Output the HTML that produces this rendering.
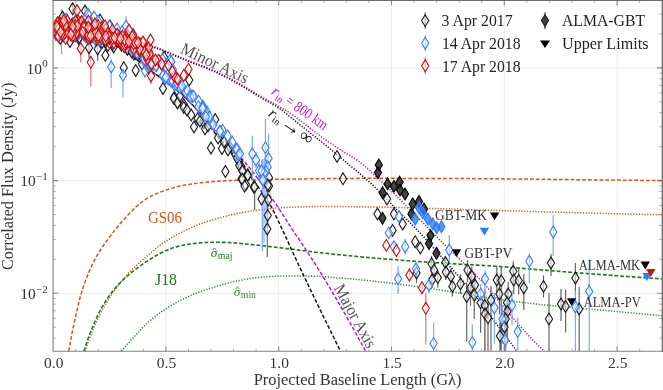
<!DOCTYPE html>
<html><head><meta charset="utf-8"><title>Correlated Flux Density</title>
<style>html,body{margin:0;padding:0;background:#fff;}body{width:663px;height:390px;overflow:hidden;font-family:"Liberation Serif",serif;}svg{display:block;will-change:transform;}</style></head>
<body>
<svg width="663" height="390" viewBox="0 0 663 390" font-family="'Liberation Serif', serif">
<rect width="663" height="390" fill="#fff"/>
<defs><clipPath id="cp"><rect x="53.1" y="0.6" width="608.9" height="350.6"/></clipPath></defs>
<path d="M165.9 0.6V351.2M278.7 0.6V351.2M391.5 0.6V351.2M504.3 0.6V351.2M617.1 0.6V351.2M53.1 67.9H662.0M53.1 180.6H662.0M53.1 293.3H662.0" stroke="#e6e6e6" stroke-width="0.8" fill="none"/>
<path d="M165.9 351.2v-5M165.9 0.6v5M278.7 351.2v-5M278.7 0.6v5M391.5 351.2v-5M391.5 0.6v5M504.3 351.2v-5M504.3 0.6v5M617.1 351.2v-5M617.1 0.6v5M53.1 293.3h5M662.0 293.3h-5M53.1 180.6h5M662.0 180.6h-5M53.1 67.9h5M662.0 67.9h-5" stroke="#8c8c8c" stroke-width="1.1" fill="none"/>
<path d="M75.7 351.2v-2.6M75.7 0.6v2.6M98.2 351.2v-2.6M98.2 0.6v2.6M120.8 351.2v-2.6M120.8 0.6v2.6M143.3 351.2v-2.6M143.3 0.6v2.6M188.5 351.2v-2.6M188.5 0.6v2.6M211.0 351.2v-2.6M211.0 0.6v2.6M233.6 351.2v-2.6M233.6 0.6v2.6M256.1 351.2v-2.6M256.1 0.6v2.6M301.3 351.2v-2.6M301.3 0.6v2.6M323.8 351.2v-2.6M323.8 0.6v2.6M346.4 351.2v-2.6M346.4 0.6v2.6M368.9 351.2v-2.6M368.9 0.6v2.6M414.1 351.2v-2.6M414.1 0.6v2.6M436.6 351.2v-2.6M436.6 0.6v2.6M459.2 351.2v-2.6M459.2 0.6v2.6M481.7 351.2v-2.6M481.7 0.6v2.6M526.9 351.2v-2.6M526.9 0.6v2.6M549.4 351.2v-2.6M549.4 0.6v2.6M572.0 351.2v-2.6M572.0 0.6v2.6M594.5 351.2v-2.6M594.5 0.6v2.6M639.7 351.2v-2.6M639.7 0.6v2.6M53.1 338.1h2.8M662.0 338.1h-2.8M53.1 327.2h2.8M662.0 327.2h-2.8M53.1 318.3h2.8M662.0 318.3h-2.8M53.1 310.8h2.8M662.0 310.8h-2.8M53.1 304.2h2.8M662.0 304.2h-2.8M53.1 298.5h2.8M662.0 298.5h-2.8M53.1 259.4h2.8M662.0 259.4h-2.8M53.1 239.5h2.8M662.0 239.5h-2.8M53.1 225.4h2.8M662.0 225.4h-2.8M53.1 214.5h2.8M662.0 214.5h-2.8M53.1 205.6h2.8M662.0 205.6h-2.8M53.1 198.1h2.8M662.0 198.1h-2.8M53.1 191.5h2.8M662.0 191.5h-2.8M53.1 185.8h2.8M662.0 185.8h-2.8M53.1 146.7h2.8M662.0 146.7h-2.8M53.1 126.8h2.8M662.0 126.8h-2.8M53.1 112.7h2.8M662.0 112.7h-2.8M53.1 101.8h2.8M662.0 101.8h-2.8M53.1 92.9h2.8M662.0 92.9h-2.8M53.1 85.4h2.8M662.0 85.4h-2.8M53.1 78.8h2.8M662.0 78.8h-2.8M53.1 73.1h2.8M662.0 73.1h-2.8M53.1 34.0h2.8M662.0 34.0h-2.8M53.1 14.1h2.8M662.0 14.1h-2.8" stroke="#a8a8a8" stroke-width="0.9" fill="none"/>
<g clip-path="url(#cp)">
<path d="M68.8 351.2 L69.8 345.4 L70.8 339.8 L71.8 334.5 L72.8 329.4 L73.8 324.5 L74.8 319.9 L75.8 315.4 L76.8 311.1 L77.8 306.8 L78.8 302.5 L79.8 298.5 L80.8 294.8 L81.8 291.4 L82.8 288.3 L83.8 285.3 L84.8 282.5 L85.8 279.9 L86.8 277.3 L87.8 274.9 L88.8 272.5 L89.8 270.1 L90.8 267.9 L91.8 265.7 L92.8 263.6 L93.8 261.6 L94.8 259.6 L95.8 257.7 L96.8 256.0 L97.8 254.3 L98.8 252.6 L99.8 251.0 L100.8 249.4 L101.8 247.9 L102.8 246.4 L103.8 245.0 L104.8 243.6 L105.8 242.2 L106.8 240.8 L107.8 239.5 L108.8 238.1 L109.8 236.8 L110.8 235.5 L111.8 234.2 L112.8 232.9 L113.8 231.6 L114.8 230.3 L115.8 229.1 L116.8 227.8 L117.8 226.6 L118.8 225.4 L119.8 224.2 L120.8 223.0 L121.8 221.8 L122.8 220.7 L123.8 219.6 L124.8 218.5 L125.8 217.4 L126.8 216.3 L127.8 215.2 L128.8 214.1 L129.8 213.0 L130.8 212.0 L131.8 210.9 L132.8 209.9 L133.8 208.9 L134.8 208.0 L135.8 207.0 L136.8 206.1 L137.8 205.3 L138.8 204.5 L139.8 203.7 L140.8 202.9 L141.8 202.1 L142.8 201.3 L143.8 200.6 L144.8 199.9 L145.8 199.2 L146.8 198.6 L147.8 197.9 L148.8 197.3 L149.8 196.8 L150.8 196.2 L151.8 195.7 L152.8 195.3 L153.8 194.8 L154.8 194.3 L155.8 193.9 L156.8 193.5 L157.8 193.1 L158.8 192.7 L159.8 192.3 L160.8 191.9 L161.8 191.5 L162.8 191.2 L163.8 190.8 L164.8 190.5 L165.8 190.1 L166.8 189.8 L167.8 189.5 L168.8 189.1 L169.8 188.8 L170.8 188.5 L171.8 188.2 L172.8 187.9 L173.8 187.6 L174.8 187.3 L175.8 187.1 L176.8 186.8 L177.8 186.6 L178.8 186.3 L179.8 186.1 L180.8 185.9 L181.8 185.7 L182.8 185.5 L183.8 185.3 L184.8 185.1 L185.8 184.9 L186.8 184.7 L187.8 184.6 L188.8 184.4 L189.8 184.2 L190.8 184.1 L191.8 183.9 L192.8 183.8 L193.8 183.6 L194.8 183.5 L195.8 183.4 L196.8 183.3 L197.8 183.1 L198.8 183.0 L199.8 182.9 L200.8 182.8 L201.8 182.7 L202.8 182.6 L203.8 182.5 L204.8 182.4 L205.8 182.3 L206.8 182.2 L207.8 182.1 L208.8 182.0 L209.8 181.9 L210.8 181.8 L211.8 181.7 L212.8 181.6 L213.8 181.6 L214.8 181.5 L215.8 181.4 L216.8 181.3 L217.8 181.3 L218.8 181.2 L219.8 181.1 L220.8 181.1 L221.8 181.0 L222.8 180.9 L223.8 180.9 L224.8 180.8 L225.8 180.7 L226.8 180.7 L227.8 180.6 L228.8 180.6 L229.8 180.5 L230.8 180.5 L231.8 180.4 L232.8 180.4 L233.8 180.3 L234.8 180.3 L235.8 180.3 L236.8 180.2 L237.8 180.2 L238.8 180.2 L239.8 180.1 L240.8 180.1 L241.8 180.1 L242.8 180.0 L243.8 180.0 L244.8 180.0 L245.8 179.9 L246.8 179.9 L247.8 179.9 L248.8 179.9 L249.8 179.8 L250.8 179.8 L251.8 179.8 L252.8 179.8 L253.8 179.7 L254.8 179.7 L255.8 179.7 L256.8 179.7 L257.8 179.6 L258.8 179.6 L259.8 179.6 L260.8 179.6 L261.8 179.6 L262.8 179.5 L263.8 179.5 L264.8 179.5 L265.8 179.5 L266.8 179.5 L267.8 179.4 L268.8 179.4 L269.8 179.4 L270.8 179.4 L271.8 179.4 L272.8 179.3 L273.8 179.3 L274.8 179.3 L275.8 179.3 L276.8 179.3 L277.8 179.3 L278.8 179.2 L279.8 179.2 L280.8 179.2 L281.8 179.2 L282.8 179.2 L283.8 179.2 L284.8 179.1 L285.8 179.1 L286.8 179.1 L287.8 179.1 L288.8 179.1 L289.8 179.1 L290.8 179.0 L291.8 179.0 L292.8 179.0 L293.8 179.0 L294.8 179.0 L295.8 179.0 L296.8 179.0 L297.8 179.0 L298.8 178.9 L299.8 178.9 L300.8 178.9 L301.8 178.9 L302.8 178.9 L303.8 178.9 L304.8 178.9 L305.8 178.9 L306.8 178.8 L307.8 178.8 L308.8 178.8 L309.8 178.8 L310.8 178.8 L311.8 178.8 L312.8 178.8 L313.8 178.8 L314.8 178.8 L315.8 178.7 L316.8 178.7 L317.8 178.7 L318.8 178.7 L319.8 178.7 L320.8 178.7 L321.8 178.7 L322.8 178.7 L323.8 178.7 L324.8 178.6 L325.8 178.6 L326.8 178.6 L327.8 178.6 L328.8 178.6 L329.8 178.6 L330.8 178.6 L331.8 178.6 L332.8 178.6 L333.8 178.6 L334.8 178.5 L335.8 178.5 L336.8 178.5 L337.8 178.5 L338.8 178.5 L339.8 178.5 L340.8 178.5 L341.8 178.5 L342.8 178.5 L343.8 178.5 L344.8 178.5 L345.8 178.4 L346.8 178.4 L347.8 178.4 L348.8 178.4 L349.8 178.4 L350.8 178.4 L351.8 178.4 L352.8 178.4 L353.8 178.4 L354.8 178.4 L355.8 178.4 L356.8 178.4 L357.8 178.4 L358.8 178.3 L359.8 178.3 L360.8 178.3 L361.8 178.3 L362.8 178.3 L363.8 178.3 L364.8 178.3 L365.8 178.3 L366.8 178.3 L367.8 178.3 L368.8 178.3 L369.8 178.3 L370.8 178.3 L371.8 178.3 L372.8 178.3 L373.8 178.3 L374.8 178.3 L375.8 178.3 L376.8 178.3 L377.8 178.3 L378.8 178.3 L379.8 178.3 L380.8 178.3 L381.8 178.3 L382.8 178.3 L383.8 178.3 L384.8 178.3 L385.8 178.3 L386.8 178.3 L387.8 178.3 L388.8 178.3 L389.8 178.3 L390.8 178.3 L391.8 178.3 L392.8 178.3 L393.8 178.3 L394.8 178.3 L395.8 178.3 L396.8 178.3 L397.8 178.3 L398.8 178.3 L399.8 178.3 L400.8 178.3 L401.8 178.3 L402.8 178.4 L403.8 178.4 L404.8 178.4 L405.8 178.4 L406.8 178.4 L407.8 178.4 L408.8 178.4 L409.8 178.4 L410.8 178.4 L411.8 178.4 L412.8 178.4 L413.8 178.4 L414.8 178.4 L415.8 178.4 L416.8 178.4 L417.8 178.4 L418.8 178.4 L419.8 178.4 L420.8 178.4 L421.8 178.4 L422.8 178.4 L423.8 178.4 L424.8 178.4 L425.8 178.4 L426.8 178.4 L427.8 178.4 L428.8 178.5 L429.8 178.5 L430.8 178.5 L431.8 178.5 L432.8 178.5 L433.8 178.5 L434.8 178.5 L435.8 178.5 L436.8 178.5 L437.8 178.5 L438.8 178.5 L439.8 178.5 L440.8 178.5 L441.8 178.5 L442.8 178.5 L443.8 178.5 L444.8 178.5 L445.8 178.5 L446.8 178.5 L447.8 178.5 L448.8 178.5 L449.8 178.5 L450.8 178.5 L451.8 178.5 L452.8 178.6 L453.8 178.6 L454.8 178.6 L455.8 178.6 L456.8 178.6 L457.8 178.6 L458.8 178.6 L459.8 178.6 L460.8 178.6 L461.8 178.6 L462.8 178.6 L463.8 178.6 L464.8 178.6 L465.8 178.6 L466.8 178.6 L467.8 178.6 L468.8 178.6 L469.8 178.6 L470.8 178.6 L471.8 178.6 L472.8 178.7 L473.8 178.7 L474.8 178.7 L475.8 178.7 L476.8 178.7 L477.8 178.7 L478.8 178.7 L479.8 178.7 L480.8 178.7 L481.8 178.7 L482.8 178.7 L483.8 178.7 L484.8 178.7 L485.8 178.7 L486.8 178.7 L487.8 178.7 L488.8 178.7 L489.8 178.8 L490.8 178.8 L491.8 178.8 L492.8 178.8 L493.8 178.8 L494.8 178.8 L495.8 178.8 L496.8 178.8 L497.8 178.8 L498.8 178.8 L499.8 178.8 L500.8 178.8 L501.8 178.8 L502.8 178.8 L503.8 178.9 L504.8 178.9 L505.8 178.9 L506.8 178.9 L507.8 178.9 L508.8 178.9 L509.8 178.9 L510.8 178.9 L511.8 178.9 L512.8 178.9 L513.8 178.9 L514.8 179.0 L515.8 179.0 L516.8 179.0 L517.8 179.0 L518.8 179.0 L519.8 179.0 L520.8 179.0 L521.8 179.0 L522.8 179.0 L523.8 179.0 L524.8 179.1 L525.8 179.1 L526.8 179.1 L527.8 179.1 L528.8 179.1 L529.8 179.1 L530.8 179.1 L531.8 179.1 L532.8 179.1 L533.8 179.2 L534.8 179.2 L535.8 179.2 L536.8 179.2 L537.8 179.2 L538.8 179.2 L539.8 179.2 L540.8 179.2 L541.8 179.2 L542.8 179.3 L543.8 179.3 L544.8 179.3 L545.8 179.3 L546.8 179.3 L547.8 179.3 L548.8 179.3 L549.8 179.3 L550.8 179.4 L551.8 179.4 L552.8 179.4 L553.8 179.4 L554.8 179.4 L555.8 179.4 L556.8 179.4 L557.8 179.4 L558.8 179.5 L559.8 179.5 L560.8 179.5 L561.8 179.5 L562.8 179.5 L563.8 179.5 L564.8 179.5 L565.8 179.5 L566.8 179.5 L567.8 179.6 L568.8 179.6 L569.8 179.6 L570.8 179.6 L571.8 179.6 L572.8 179.6 L573.8 179.6 L574.8 179.6 L575.8 179.7 L576.8 179.7 L577.8 179.7 L578.8 179.7 L579.8 179.7 L580.8 179.7 L581.8 179.7 L582.8 179.7 L583.8 179.7 L584.8 179.8 L585.8 179.8 L586.8 179.8 L587.8 179.8 L588.8 179.8 L589.8 179.8 L590.8 179.8 L591.8 179.8 L592.8 179.8 L593.8 179.8 L594.8 179.9 L595.8 179.9 L596.8 179.9 L597.8 179.9 L598.8 179.9 L599.8 179.9 L600.8 179.9 L601.8 179.9 L602.8 179.9 L603.8 180.0 L604.8 180.0 L605.8 180.0 L606.8 180.0 L607.8 180.0 L608.8 180.0 L609.8 180.0 L610.8 180.0 L611.8 180.0 L612.8 180.1 L613.8 180.1 L614.8 180.1 L615.8 180.1 L616.8 180.1 L617.8 180.1 L618.8 180.1 L619.8 180.1 L620.8 180.1 L621.8 180.2 L622.8 180.2 L623.8 180.2 L624.8 180.2 L625.8 180.2 L626.8 180.2 L627.8 180.2 L628.8 180.2 L629.8 180.2 L630.8 180.3 L631.8 180.3 L632.8 180.3 L633.8 180.3 L634.8 180.3 L635.8 180.3 L636.8 180.3 L637.8 180.3 L638.8 180.3 L639.8 180.3 L640.8 180.4 L641.8 180.4 L642.8 180.4 L643.8 180.4 L644.8 180.4 L645.8 180.4 L646.8 180.4 L647.8 180.4 L648.8 180.4 L649.8 180.5 L650.8 180.5 L651.8 180.5 L652.8 180.5 L653.8 180.5 L654.8 180.5 L655.8 180.5 L656.8 180.5 L657.8 180.5 L658.8 180.6 L659.8 180.6 L660.8 180.6 L661.8 180.6 L662.8 180.6" fill="none" stroke="#d2581c" stroke-width="1.50" stroke-dasharray="3.8 2.0" stroke-dashoffset="0.0"/>
<path d="M85.2 351.2 L86.2 348.2 L87.2 345.2 L88.2 342.3 L89.2 339.5 L90.2 336.8 L91.2 334.2 L92.2 331.6 L93.2 329.2 L94.2 326.8 L95.2 324.6 L96.2 322.3 L97.2 320.1 L98.2 318.0 L99.2 316.0 L100.2 314.0 L101.2 312.0 L102.2 310.1 L103.2 308.3 L104.2 306.5 L105.2 304.7 L106.2 303.0 L107.2 301.3 L108.2 299.7 L109.2 298.1 L110.2 296.6 L111.2 295.1 L112.2 293.6 L113.2 292.1 L114.2 290.7 L115.2 289.3 L116.2 288.0 L117.2 286.7 L118.2 285.4 L119.2 284.1 L120.2 282.8 L121.2 281.6 L122.2 280.4 L123.2 279.2 L124.2 278.1 L125.2 277.0 L126.2 275.8 L127.2 274.7 L128.2 273.6 L129.2 272.6 L130.2 271.5 L131.2 270.5 L132.2 269.5 L133.2 268.5 L134.2 267.5 L135.2 266.5 L136.2 265.5 L137.2 264.6 L138.2 263.7 L139.2 262.8 L140.2 261.9 L141.2 261.0 L142.2 260.2 L143.2 259.3 L144.2 258.5 L145.2 257.6 L146.2 256.7 L147.2 255.9 L148.2 255.0 L149.2 254.1 L150.2 253.2 L151.2 252.3 L152.2 251.5 L153.2 250.6 L154.2 249.7 L155.2 248.9 L156.2 248.1 L157.2 247.3 L158.2 246.6 L159.2 245.8 L160.2 245.1 L161.2 244.4 L162.2 243.7 L163.2 243.0 L164.2 242.4 L165.2 241.7 L166.2 241.0 L167.2 240.4 L168.2 239.8 L169.2 239.2 L170.2 238.5 L171.2 237.9 L172.2 237.4 L173.2 236.8 L174.2 236.2 L175.2 235.6 L176.2 235.1 L177.2 234.5 L178.2 234.0 L179.2 233.4 L180.2 232.9 L181.2 232.4 L182.2 231.8 L183.2 231.3 L184.2 230.8 L185.2 230.3 L186.2 229.9 L187.2 229.4 L188.2 228.9 L189.2 228.5 L190.2 228.0 L191.2 227.6 L192.2 227.2 L193.2 226.7 L194.2 226.3 L195.2 225.9 L196.2 225.5 L197.2 225.1 L198.2 224.7 L199.2 224.3 L200.2 224.0 L201.2 223.6 L202.2 223.2 L203.2 222.9 L204.2 222.5 L205.2 222.2 L206.2 221.9 L207.2 221.5 L208.2 221.2 L209.2 220.9 L210.2 220.6 L211.2 220.3 L212.2 220.0 L213.2 219.7 L214.2 219.5 L215.2 219.2 L216.2 218.9 L217.2 218.6 L218.2 218.3 L219.2 218.0 L220.2 217.8 L221.2 217.5 L222.2 217.2 L223.2 216.9 L224.2 216.6 L225.2 216.4 L226.2 216.1 L227.2 215.8 L228.2 215.6 L229.2 215.3 L230.2 215.1 L231.2 214.8 L232.2 214.6 L233.2 214.4 L234.2 214.2 L235.2 214.0 L236.2 213.8 L237.2 213.6 L238.2 213.4 L239.2 213.2 L240.2 213.0 L241.2 212.8 L242.2 212.6 L243.2 212.4 L244.2 212.2 L245.2 212.0 L246.2 211.8 L247.2 211.7 L248.2 211.5 L249.2 211.3 L250.2 211.2 L251.2 211.0 L252.2 210.9 L253.2 210.7 L254.2 210.6 L255.2 210.4 L256.2 210.3 L257.2 210.1 L258.2 210.0 L259.2 209.9 L260.2 209.8 L261.2 209.7 L262.2 209.5 L263.2 209.4 L264.2 209.3 L265.2 209.2 L266.2 209.1 L267.2 209.0 L268.2 208.9 L269.2 208.8 L270.2 208.7 L271.2 208.6 L272.2 208.5 L273.2 208.4 L274.2 208.3 L275.2 208.2 L276.2 208.1 L277.2 208.0 L278.2 207.9 L279.2 207.9 L280.2 207.8 L281.2 207.7 L282.2 207.7 L283.2 207.6 L284.2 207.6 L285.2 207.5 L286.2 207.5 L287.2 207.4 L288.2 207.4 L289.2 207.3 L290.2 207.3 L291.2 207.3 L292.2 207.2 L293.2 207.2 L294.2 207.1 L295.2 207.1 L296.2 207.1 L297.2 207.0 L298.2 207.0 L299.2 207.0 L300.2 206.9 L301.2 206.9 L302.2 206.9 L303.2 206.8 L304.2 206.8 L305.2 206.8 L306.2 206.7 L307.2 206.7 L308.2 206.7 L309.2 206.7 L310.2 206.6 L311.2 206.6 L312.2 206.6 L313.2 206.6 L314.2 206.6 L315.2 206.6 L316.2 206.5 L317.2 206.5 L318.2 206.5 L319.2 206.5 L320.2 206.5 L321.2 206.5 L322.2 206.5 L323.2 206.5 L324.2 206.5 L325.2 206.5 L326.2 206.5 L327.2 206.5 L328.2 206.5 L329.2 206.5 L330.2 206.5 L331.2 206.5 L332.2 206.5 L333.2 206.5 L334.2 206.5 L335.2 206.5 L336.2 206.5 L337.2 206.6 L338.2 206.6 L339.2 206.6 L340.2 206.6 L341.2 206.6 L342.2 206.6 L343.2 206.6 L344.2 206.6 L345.2 206.6 L346.2 206.6 L347.2 206.6 L348.2 206.6 L349.2 206.7 L350.2 206.7 L351.2 206.7 L352.2 206.7 L353.2 206.7 L354.2 206.7 L355.2 206.7 L356.2 206.7 L357.2 206.8 L358.2 206.8 L359.2 206.8 L360.2 206.8 L361.2 206.8 L362.2 206.8 L363.2 206.8 L364.2 206.8 L365.2 206.9 L366.2 206.9 L367.2 206.9 L368.2 206.9 L369.2 206.9 L370.2 206.9 L371.2 206.9 L372.2 207.0 L373.2 207.0 L374.2 207.0 L375.2 207.0 L376.2 207.0 L377.2 207.0 L378.2 207.0 L379.2 207.1 L380.2 207.1 L381.2 207.1 L382.2 207.1 L383.2 207.1 L384.2 207.1 L385.2 207.2 L386.2 207.2 L387.2 207.2 L388.2 207.2 L389.2 207.2 L390.2 207.3 L391.2 207.3 L392.2 207.3 L393.2 207.3 L394.2 207.4 L395.2 207.4 L396.2 207.4 L397.2 207.4 L398.2 207.5 L399.2 207.5 L400.2 207.5 L401.2 207.5 L402.2 207.6 L403.2 207.6 L404.2 207.6 L405.2 207.7 L406.2 207.7 L407.2 207.7 L408.2 207.7 L409.2 207.8 L410.2 207.8 L411.2 207.8 L412.2 207.9 L413.2 207.9 L414.2 207.9 L415.2 207.9 L416.2 208.0 L417.2 208.0 L418.2 208.0 L419.2 208.1 L420.2 208.1 L421.2 208.1 L422.2 208.2 L423.2 208.2 L424.2 208.2 L425.2 208.3 L426.2 208.3 L427.2 208.3 L428.2 208.3 L429.2 208.4 L430.2 208.4 L431.2 208.4 L432.2 208.5 L433.2 208.5 L434.2 208.5 L435.2 208.6 L436.2 208.6 L437.2 208.6 L438.2 208.6 L439.2 208.7 L440.2 208.7 L441.2 208.7 L442.2 208.8 L443.2 208.8 L444.2 208.8 L445.2 208.9 L446.2 208.9 L447.2 208.9 L448.2 208.9 L449.2 209.0 L450.2 209.0 L451.2 209.0 L452.2 209.1 L453.2 209.1 L454.2 209.1 L455.2 209.2 L456.2 209.2 L457.2 209.2 L458.2 209.3 L459.2 209.3 L460.2 209.3 L461.2 209.4 L462.2 209.4 L463.2 209.4 L464.2 209.5 L465.2 209.5 L466.2 209.5 L467.2 209.6 L468.2 209.6 L469.2 209.6 L470.2 209.7 L471.2 209.7 L472.2 209.7 L473.2 209.7 L474.2 209.8 L475.2 209.8 L476.2 209.8 L477.2 209.9 L478.2 209.9 L479.2 209.9 L480.2 210.0 L481.2 210.0 L482.2 210.0 L483.2 210.1 L484.2 210.1 L485.2 210.1 L486.2 210.2 L487.2 210.2 L488.2 210.2 L489.2 210.3 L490.2 210.3 L491.2 210.3 L492.2 210.4 L493.2 210.4 L494.2 210.4 L495.2 210.4 L496.2 210.5 L497.2 210.5 L498.2 210.5 L499.2 210.6 L500.2 210.6 L501.2 210.6 L502.2 210.7 L503.2 210.7 L504.2 210.7 L505.2 210.7 L506.2 210.8 L507.2 210.8 L508.2 210.8 L509.2 210.9 L510.2 210.9 L511.2 210.9 L512.2 210.9 L513.2 211.0 L514.2 211.0 L515.2 211.0 L516.2 211.1 L517.2 211.1 L518.2 211.1 L519.2 211.1 L520.2 211.2 L521.2 211.2 L522.2 211.2 L523.2 211.3 L524.2 211.3 L525.2 211.3 L526.2 211.3 L527.2 211.4 L528.2 211.4 L529.2 211.4 L530.2 211.5 L531.2 211.5 L532.2 211.5 L533.2 211.5 L534.2 211.6 L535.2 211.6 L536.2 211.6 L537.2 211.7 L538.2 211.7 L539.2 211.7 L540.2 211.7 L541.2 211.8 L542.2 211.8 L543.2 211.8 L544.2 211.8 L545.2 211.9 L546.2 211.9 L547.2 211.9 L548.2 212.0 L549.2 212.0 L550.2 212.0 L551.2 212.0 L552.2 212.1 L553.2 212.1 L554.2 212.1 L555.2 212.1 L556.2 212.2 L557.2 212.2 L558.2 212.2 L559.2 212.3 L560.2 212.3 L561.2 212.3 L562.2 212.3 L563.2 212.4 L564.2 212.4 L565.2 212.4 L566.2 212.4 L567.2 212.5 L568.2 212.5 L569.2 212.5 L570.2 212.5 L571.2 212.6 L572.2 212.6 L573.2 212.6 L574.2 212.6 L575.2 212.7 L576.2 212.7 L577.2 212.7 L578.2 212.8 L579.2 212.8 L580.2 212.8 L581.2 212.8 L582.2 212.9 L583.2 212.9 L584.2 212.9 L585.2 212.9 L586.2 213.0 L587.2 213.0 L588.2 213.0 L589.2 213.0 L590.2 213.1 L591.2 213.1 L592.2 213.1 L593.2 213.1 L594.2 213.2 L595.2 213.2 L596.2 213.2 L597.2 213.2 L598.2 213.3 L599.2 213.3 L600.2 213.3 L601.2 213.3 L602.2 213.4 L603.2 213.4 L604.2 213.4 L605.2 213.4 L606.2 213.5 L607.2 213.5 L608.2 213.5 L609.2 213.5 L610.2 213.6 L611.2 213.6 L612.2 213.6 L613.2 213.6 L614.2 213.7 L615.2 213.7 L616.2 213.7 L617.2 213.7 L618.2 213.8 L619.2 213.8 L620.2 213.8 L621.2 213.8 L622.2 213.9 L623.2 213.9 L624.2 213.9 L625.2 213.9 L626.2 214.0 L627.2 214.0 L628.2 214.0 L629.2 214.0 L630.2 214.0 L631.2 214.1 L632.2 214.1 L633.2 214.1 L634.2 214.1 L635.2 214.2 L636.2 214.2 L637.2 214.2 L638.2 214.2 L639.2 214.3 L640.2 214.3 L641.2 214.3 L642.2 214.3 L643.2 214.4 L644.2 214.4 L645.2 214.4 L646.2 214.4 L647.2 214.4 L648.2 214.5 L649.2 214.5 L650.2 214.5 L651.2 214.5 L652.2 214.6 L653.2 214.6 L654.2 214.6 L655.2 214.6 L656.2 214.7 L657.2 214.7 L658.2 214.7 L659.2 214.7 L660.2 214.7 L661.2 214.8 L662.2 214.8 L662.8 214.8" fill="none" stroke="#d2581c" stroke-width="1.50" stroke-dasharray="1.25 1.55" stroke-dashoffset="0.0"/>
<path d="M83.9 351.2 L84.9 348.1 L85.9 345.0 L86.9 342.0 L87.9 339.1 L88.9 336.3 L89.9 333.7 L90.9 331.1 L91.9 328.6 L92.9 326.2 L93.9 323.8 L94.9 321.5 L95.9 319.3 L96.9 317.1 L97.9 315.0 L98.9 313.0 L99.9 311.0 L100.9 309.2 L101.9 307.4 L102.9 305.7 L103.9 304.0 L104.9 302.4 L105.9 300.8 L106.9 299.3 L107.9 297.8 L108.9 296.4 L109.9 295.0 L110.9 293.6 L111.9 292.3 L112.9 291.0 L113.9 289.8 L114.9 288.6 L115.9 287.4 L116.9 286.3 L117.9 285.2 L118.9 284.1 L119.9 283.1 L120.9 282.1 L121.9 281.1 L122.9 280.1 L123.9 279.2 L124.9 278.2 L125.9 277.3 L126.9 276.4 L127.9 275.6 L128.9 274.7 L129.9 273.9 L130.9 273.0 L131.9 272.2 L132.9 271.4 L133.9 270.7 L134.9 269.9 L135.9 269.1 L136.9 268.4 L137.9 267.6 L138.9 266.9 L139.9 266.1 L140.9 265.4 L141.9 264.7 L142.9 264.0 L143.9 263.3 L144.9 262.6 L145.9 261.9 L146.9 261.3 L147.9 260.6 L148.9 260.0 L149.9 259.4 L150.9 258.8 L151.9 258.1 L152.9 257.5 L153.9 256.9 L154.9 256.3 L155.9 255.8 L156.9 255.2 L157.9 254.6 L158.9 254.1 L159.9 253.5 L160.9 253.0 L161.9 252.5 L162.9 252.0 L163.9 251.6 L164.9 251.1 L165.9 250.7 L166.9 250.2 L167.9 249.8 L168.9 249.4 L169.9 249.0 L170.9 248.6 L171.9 248.2 L172.9 247.8 L173.9 247.5 L174.9 247.2 L175.9 246.9 L176.9 246.7 L177.9 246.4 L178.9 246.1 L179.9 245.9 L180.9 245.7 L181.9 245.4 L182.9 245.2 L183.9 245.0 L184.9 244.8 L185.9 244.6 L186.9 244.5 L187.9 244.3 L188.9 244.1 L189.9 244.0 L190.9 243.9 L191.9 243.7 L192.9 243.6 L193.9 243.5 L194.9 243.4 L195.9 243.3 L196.9 243.2 L197.9 243.1 L198.9 243.0 L199.9 242.9 L200.9 242.8 L201.9 242.7 L202.9 242.6 L203.9 242.6 L204.9 242.5 L205.9 242.5 L206.9 242.5 L207.9 242.4 L208.9 242.4 L209.9 242.4 L210.9 242.4 L211.9 242.3 L212.9 242.3 L213.9 242.3 L214.9 242.3 L215.9 242.3 L216.9 242.3 L217.9 242.3 L218.9 242.3 L219.9 242.3 L220.9 242.3 L221.9 242.4 L222.9 242.4 L223.9 242.4 L224.9 242.4 L225.9 242.4 L226.9 242.4 L227.9 242.5 L228.9 242.5 L229.9 242.6 L230.9 242.7 L231.9 242.7 L232.9 242.8 L233.9 242.9 L234.9 243.0 L235.9 243.0 L236.9 243.1 L237.9 243.2 L238.9 243.3 L239.9 243.4 L240.9 243.5 L241.9 243.6 L242.9 243.7 L243.9 243.8 L244.9 243.9 L245.9 244.0 L246.9 244.1 L247.9 244.2 L248.9 244.3 L249.9 244.4 L250.9 244.5 L251.9 244.6 L252.9 244.7 L253.9 244.8 L254.9 244.9 L255.9 245.0 L256.9 245.1 L257.9 245.2 L258.9 245.3 L259.9 245.4 L260.9 245.5 L261.9 245.7 L262.9 245.8 L263.9 245.9 L264.9 246.0 L265.9 246.1 L266.9 246.2 L267.9 246.3 L268.9 246.5 L269.9 246.6 L270.9 246.7 L271.9 246.8 L272.9 246.9 L273.9 247.0 L274.9 247.2 L275.9 247.3 L276.9 247.4 L277.9 247.5 L278.9 247.6 L279.9 247.8 L280.9 247.9 L281.9 248.0 L282.9 248.1 L283.9 248.2 L284.9 248.3 L285.9 248.5 L286.9 248.6 L287.9 248.7 L288.9 248.8 L289.9 248.9 L290.9 249.1 L291.9 249.2 L292.9 249.3 L293.9 249.4 L294.9 249.6 L295.9 249.7 L296.9 249.8 L297.9 249.9 L298.9 250.1 L299.9 250.2 L300.9 250.3 L301.9 250.4 L302.9 250.6 L303.9 250.7 L304.9 250.8 L305.9 250.9 L306.9 251.1 L307.9 251.2 L308.9 251.3 L309.9 251.5 L310.9 251.6 L311.9 251.7 L312.9 251.8 L313.9 251.9 L314.9 252.1 L315.9 252.2 L316.9 252.3 L317.9 252.4 L318.9 252.5 L319.9 252.7 L320.9 252.8 L321.9 252.9 L322.9 253.0 L323.9 253.1 L324.9 253.2 L325.9 253.3 L326.9 253.4 L327.9 253.5 L328.9 253.6 L329.9 253.7 L330.9 253.9 L331.9 254.0 L332.9 254.1 L333.9 254.2 L334.9 254.3 L335.9 254.4 L336.9 254.5 L337.9 254.6 L338.9 254.7 L339.9 254.8 L340.9 254.9 L341.9 255.0 L342.9 255.1 L343.9 255.2 L344.9 255.3 L345.9 255.4 L346.9 255.5 L347.9 255.6 L348.9 255.7 L349.9 255.8 L350.9 255.9 L351.9 256.0 L352.9 256.1 L353.9 256.2 L354.9 256.3 L355.9 256.4 L356.9 256.5 L357.9 256.6 L358.9 256.7 L359.9 256.8 L360.9 256.9 L361.9 257.0 L362.9 257.1 L363.9 257.1 L364.9 257.2 L365.9 257.3 L366.9 257.4 L367.9 257.5 L368.9 257.6 L369.9 257.7 L370.9 257.8 L371.9 257.9 L372.9 258.0 L373.9 258.0 L374.9 258.1 L375.9 258.2 L376.9 258.3 L377.9 258.4 L378.9 258.5 L379.9 258.5 L380.9 258.6 L381.9 258.7 L382.9 258.8 L383.9 258.9 L384.9 259.0 L385.9 259.0 L386.9 259.1 L387.9 259.2 L388.9 259.3 L389.9 259.4 L390.9 259.4 L391.9 259.5 L392.9 259.6 L393.9 259.7 L394.9 259.8 L395.9 259.8 L396.9 259.9 L397.9 260.0 L398.9 260.1 L399.9 260.2 L400.9 260.2 L401.9 260.3 L402.9 260.4 L403.9 260.5 L404.9 260.5 L405.9 260.6 L406.9 260.7 L407.9 260.8 L408.9 260.8 L409.9 260.9 L410.9 261.0 L411.9 261.1 L412.9 261.1 L413.9 261.2 L414.9 261.3 L415.9 261.3 L416.9 261.4 L417.9 261.5 L418.9 261.6 L419.9 261.6 L420.9 261.7 L421.9 261.8 L422.9 261.8 L423.9 261.9 L424.9 262.0 L425.9 262.1 L426.9 262.1 L427.9 262.2 L428.9 262.3 L429.9 262.3 L430.9 262.4 L431.9 262.5 L432.9 262.5 L433.9 262.6 L434.9 262.7 L435.9 262.7 L436.9 262.8 L437.9 262.9 L438.9 262.9 L439.9 263.0 L440.9 263.1 L441.9 263.1 L442.9 263.2 L443.9 263.2 L444.9 263.3 L445.9 263.4 L446.9 263.4 L447.9 263.5 L448.9 263.5 L449.9 263.6 L450.9 263.7 L451.9 263.7 L452.9 263.8 L453.9 263.8 L454.9 263.9 L455.9 263.9 L456.9 264.0 L457.9 264.1 L458.9 264.1 L459.9 264.2 L460.9 264.2 L461.9 264.3 L462.9 264.3 L463.9 264.4 L464.9 264.4 L465.9 264.5 L466.9 264.5 L467.9 264.6 L468.9 264.6 L469.9 264.7 L470.9 264.8 L471.9 264.8 L472.9 264.9 L473.9 264.9 L474.9 265.0 L475.9 265.0 L476.9 265.1 L477.9 265.1 L478.9 265.2 L479.9 265.2 L480.9 265.3 L481.9 265.4 L482.9 265.4 L483.9 265.5 L484.9 265.5 L485.9 265.6 L486.9 265.7 L487.9 265.7 L488.9 265.8 L489.9 265.8 L490.9 265.9 L491.9 266.0 L492.9 266.0 L493.9 266.1 L494.9 266.2 L495.9 266.2 L496.9 266.3 L497.9 266.4 L498.9 266.4 L499.9 266.5 L500.9 266.6 L501.9 266.7 L502.9 266.7 L503.9 266.8 L504.9 266.9 L505.9 267.0 L506.9 267.0 L507.9 267.1 L508.9 267.2 L509.9 267.3 L510.9 267.4 L511.9 267.5 L512.9 267.5 L513.9 267.6 L514.9 267.7 L515.9 267.8 L516.9 267.9 L517.9 268.0 L518.9 268.1 L519.9 268.1 L520.9 268.2 L521.9 268.3 L522.9 268.4 L523.9 268.5 L524.9 268.6 L525.9 268.7 L526.9 268.8 L527.9 268.8 L528.9 268.9 L529.9 269.0 L530.9 269.1 L531.9 269.2 L532.9 269.3 L533.9 269.3 L534.9 269.4 L535.9 269.5 L536.9 269.6 L537.9 269.7 L538.9 269.7 L539.9 269.8 L540.9 269.9 L541.9 270.0 L542.9 270.1 L543.9 270.1 L544.9 270.2 L545.9 270.3 L546.9 270.4 L547.9 270.5 L548.9 270.5 L549.9 270.6 L550.9 270.7 L551.9 270.8 L552.9 270.9 L553.9 270.9 L554.9 271.0 L555.9 271.1 L556.9 271.2 L557.9 271.3 L558.9 271.3 L559.9 271.4 L560.9 271.5 L561.9 271.6 L562.9 271.7 L563.9 271.7 L564.9 271.8 L565.9 271.9 L566.9 272.0 L567.9 272.1 L568.9 272.1 L569.9 272.2 L570.9 272.3 L571.9 272.4 L572.9 272.4 L573.9 272.5 L574.9 272.6 L575.9 272.7 L576.9 272.8 L577.9 272.8 L578.9 272.9 L579.9 273.0 L580.9 273.1 L581.9 273.1 L582.9 273.2 L583.9 273.3 L584.9 273.4 L585.9 273.4 L586.9 273.5 L587.9 273.6 L588.9 273.7 L589.9 273.7 L590.9 273.8 L591.9 273.9 L592.9 274.0 L593.9 274.0 L594.9 274.1 L595.9 274.2 L596.9 274.3 L597.9 274.3 L598.9 274.4 L599.9 274.5 L600.9 274.6 L601.9 274.6 L602.9 274.7 L603.9 274.8 L604.9 274.9 L605.9 274.9 L606.9 275.0 L607.9 275.1 L608.9 275.2 L609.9 275.2 L610.9 275.3 L611.9 275.4 L612.9 275.4 L613.9 275.5 L614.9 275.6 L615.9 275.7 L616.9 275.7 L617.9 275.8 L618.9 275.9 L619.9 275.9 L620.9 276.0 L621.9 276.1 L622.9 276.2 L623.9 276.2 L624.9 276.3 L625.9 276.4 L626.9 276.4 L627.9 276.5 L628.9 276.6 L629.9 276.7 L630.9 276.7 L631.9 276.8 L632.9 276.9 L633.9 276.9 L634.9 277.0 L635.9 277.1 L636.9 277.1 L637.9 277.2 L638.9 277.3 L639.9 277.4 L640.9 277.4 L641.9 277.5 L642.9 277.6 L643.9 277.6 L644.9 277.7 L645.9 277.8 L646.9 277.8 L647.9 277.9 L648.9 278.0 L649.9 278.0 L650.9 278.1 L651.9 278.2 L652.9 278.2 L653.9 278.3 L654.9 278.4 L655.9 278.4 L656.9 278.5 L657.9 278.6 L658.9 278.6 L659.9 278.7 L660.9 278.8 L661.9 278.8 L662.8 278.9" fill="none" stroke="#1c7a1c" stroke-width="1.60" stroke-dasharray="3.8 2.0" stroke-dashoffset="0.0"/>
<path d="M121.6 351.2 L122.6 350.0 L123.6 348.8 L124.6 347.6 L125.6 346.4 L126.6 345.2 L127.6 344.1 L128.6 342.9 L129.6 341.8 L130.6 340.7 L131.6 339.5 L132.6 338.4 L133.6 337.3 L134.6 336.3 L135.6 335.2 L136.6 334.1 L137.6 333.1 L138.6 332.0 L139.6 330.9 L140.6 329.9 L141.6 328.8 L142.6 327.8 L143.6 326.8 L144.6 325.8 L145.6 324.8 L146.6 323.8 L147.6 322.9 L148.6 322.0 L149.6 321.1 L150.6 320.2 L151.6 319.4 L152.6 318.5 L153.6 317.7 L154.6 316.9 L155.6 316.1 L156.6 315.4 L157.6 314.6 L158.6 313.9 L159.6 313.1 L160.6 312.4 L161.6 311.7 L162.6 311.0 L163.6 310.3 L164.6 309.7 L165.6 309.0 L166.6 308.3 L167.6 307.7 L168.6 307.1 L169.6 306.5 L170.6 305.8 L171.6 305.2 L172.6 304.6 L173.6 304.1 L174.6 303.5 L175.6 302.9 L176.6 302.4 L177.6 301.8 L178.6 301.3 L179.6 300.8 L180.6 300.3 L181.6 299.7 L182.6 299.2 L183.6 298.7 L184.6 298.3 L185.6 297.8 L186.6 297.3 L187.6 296.8 L188.6 296.4 L189.6 295.9 L190.6 295.5 L191.6 295.1 L192.6 294.7 L193.6 294.2 L194.6 293.8 L195.6 293.4 L196.6 293.1 L197.6 292.7 L198.6 292.3 L199.6 291.9 L200.6 291.6 L201.6 291.2 L202.6 290.9 L203.6 290.6 L204.6 290.2 L205.6 289.9 L206.6 289.6 L207.6 289.3 L208.6 288.9 L209.6 288.6 L210.6 288.3 L211.6 288.0 L212.6 287.7 L213.6 287.4 L214.6 287.1 L215.6 286.7 L216.6 286.4 L217.6 286.1 L218.6 285.8 L219.6 285.5 L220.6 285.2 L221.6 284.9 L222.6 284.6 L223.6 284.3 L224.6 284.0 L225.6 283.7 L226.6 283.4 L227.6 283.2 L228.6 282.9 L229.6 282.6 L230.6 282.4 L231.6 282.2 L232.6 281.9 L233.6 281.7 L234.6 281.5 L235.6 281.3 L236.6 281.1 L237.6 280.9 L238.6 280.7 L239.6 280.5 L240.6 280.3 L241.6 280.1 L242.6 279.9 L243.6 279.7 L244.6 279.5 L245.6 279.3 L246.6 279.1 L247.6 279.0 L248.6 278.8 L249.6 278.6 L250.6 278.5 L251.6 278.3 L252.6 278.2 L253.6 278.0 L254.6 277.9 L255.6 277.8 L256.6 277.7 L257.6 277.6 L258.6 277.5 L259.6 277.4 L260.6 277.3 L261.6 277.2 L262.6 277.1 L263.6 277.0 L264.6 276.9 L265.6 276.9 L266.6 276.8 L267.6 276.7 L268.6 276.6 L269.6 276.6 L270.6 276.5 L271.6 276.4 L272.6 276.4 L273.6 276.3 L274.6 276.2 L275.6 276.2 L276.6 276.1 L277.6 276.1 L278.6 276.0 L279.6 276.0 L280.6 276.0 L281.6 275.9 L282.6 275.9 L283.6 275.9 L284.6 275.9 L285.6 275.9 L286.6 275.9 L287.6 275.9 L288.6 275.9 L289.6 275.9 L290.6 275.9 L291.6 275.9 L292.6 275.9 L293.6 275.9 L294.6 275.9 L295.6 275.9 L296.6 275.9 L297.6 276.0 L298.6 276.0 L299.6 276.0 L300.6 276.0 L301.6 276.0 L302.6 276.0 L303.6 276.0 L304.6 276.0 L305.6 276.0 L306.6 276.0 L307.6 276.1 L308.6 276.1 L309.6 276.1 L310.6 276.1 L311.6 276.1 L312.6 276.1 L313.6 276.2 L314.6 276.2 L315.6 276.2 L316.6 276.3 L317.6 276.3 L318.6 276.4 L319.6 276.4 L320.6 276.5 L321.6 276.6 L322.6 276.6 L323.6 276.7 L324.6 276.8 L325.6 276.8 L326.6 276.9 L327.6 277.0 L328.6 277.1 L329.6 277.1 L330.6 277.2 L331.6 277.3 L332.6 277.4 L333.6 277.5 L334.6 277.5 L335.6 277.6 L336.6 277.7 L337.6 277.7 L338.6 277.8 L339.6 277.9 L340.6 278.0 L341.6 278.1 L342.6 278.1 L343.6 278.2 L344.6 278.3 L345.6 278.4 L346.6 278.5 L347.6 278.6 L348.6 278.7 L349.6 278.7 L350.6 278.8 L351.6 278.9 L352.6 279.0 L353.6 279.1 L354.6 279.2 L355.6 279.3 L356.6 279.4 L357.6 279.5 L358.6 279.6 L359.6 279.7 L360.6 279.8 L361.6 279.9 L362.6 280.0 L363.6 280.1 L364.6 280.2 L365.6 280.3 L366.6 280.4 L367.6 280.5 L368.6 280.6 L369.6 280.7 L370.6 280.8 L371.6 280.9 L372.6 281.1 L373.6 281.2 L374.6 281.3 L375.6 281.4 L376.6 281.5 L377.6 281.6 L378.6 281.7 L379.6 281.8 L380.6 281.9 L381.6 282.1 L382.6 282.2 L383.6 282.3 L384.6 282.4 L385.6 282.5 L386.6 282.6 L387.6 282.8 L388.6 282.9 L389.6 283.0 L390.6 283.1 L391.6 283.3 L392.6 283.4 L393.6 283.5 L394.6 283.6 L395.6 283.8 L396.6 283.9 L397.6 284.0 L398.6 284.2 L399.6 284.3 L400.6 284.4 L401.6 284.6 L402.6 284.7 L403.6 284.8 L404.6 285.0 L405.6 285.1 L406.6 285.2 L407.6 285.4 L408.6 285.5 L409.6 285.6 L410.6 285.8 L411.6 285.9 L412.6 286.1 L413.6 286.2 L414.6 286.3 L415.6 286.5 L416.6 286.6 L417.6 286.8 L418.6 286.9 L419.6 287.1 L420.6 287.2 L421.6 287.3 L422.6 287.5 L423.6 287.6 L424.6 287.8 L425.6 287.9 L426.6 288.1 L427.6 288.2 L428.6 288.3 L429.6 288.5 L430.6 288.6 L431.6 288.8 L432.6 288.9 L433.6 289.1 L434.6 289.2 L435.6 289.4 L436.6 289.5 L437.6 289.7 L438.6 289.8 L439.6 289.9 L440.6 290.1 L441.6 290.2 L442.6 290.4 L443.6 290.5 L444.6 290.7 L445.6 290.8 L446.6 291.0 L447.6 291.1 L448.6 291.3 L449.6 291.5 L450.6 291.6 L451.6 291.8 L452.6 291.9 L453.6 292.1 L454.6 292.2 L455.6 292.4 L456.6 292.6 L457.6 292.7 L458.6 292.9 L459.6 293.1 L460.6 293.2 L461.6 293.4 L462.6 293.6 L463.6 293.7 L464.6 293.9 L465.6 294.1 L466.6 294.2 L467.6 294.4 L468.6 294.5 L469.6 294.7 L470.6 294.9 L471.6 295.0 L472.6 295.2 L473.6 295.4 L474.6 295.5 L475.6 295.7 L476.6 295.9 L477.6 296.0 L478.6 296.2 L479.6 296.3 L480.6 296.5 L481.6 296.7 L482.6 296.8 L483.6 297.0 L484.6 297.1 L485.6 297.3 L486.6 297.5 L487.6 297.6 L488.6 297.8 L489.6 297.9 L490.6 298.1 L491.6 298.2 L492.6 298.4 L493.6 298.5 L494.6 298.7 L495.6 298.8 L496.6 298.9 L497.6 299.1 L498.6 299.2 L499.6 299.4 L500.6 299.5 L501.6 299.6 L502.6 299.8 L503.6 299.9 L504.6 300.1 L505.6 300.2 L506.6 300.3 L507.6 300.5 L508.6 300.6 L509.6 300.7 L510.6 300.9 L511.6 301.0 L512.6 301.1 L513.6 301.3 L514.6 301.4 L515.6 301.5 L516.6 301.7 L517.6 301.8 L518.6 301.9 L519.6 302.1 L520.6 302.2 L521.6 302.3 L522.6 302.4 L523.6 302.6 L524.6 302.7 L525.6 302.8 L526.6 302.9 L527.6 303.1 L528.6 303.2 L529.6 303.3 L530.6 303.4 L531.6 303.5 L532.6 303.6 L533.6 303.8 L534.6 303.9 L535.6 304.0 L536.6 304.1 L537.6 304.2 L538.6 304.3 L539.6 304.4 L540.6 304.5 L541.6 304.6 L542.6 304.7 L543.6 304.8 L544.6 304.9 L545.6 305.0 L546.6 305.1 L547.6 305.2 L548.6 305.3 L549.6 305.4 L550.6 305.5 L551.6 305.6 L552.6 305.7 L553.6 305.8 L554.6 305.9 L555.6 306.0 L556.6 306.1 L557.6 306.2 L558.6 306.3 L559.6 306.4 L560.6 306.5 L561.6 306.6 L562.6 306.7 L563.6 306.7 L564.6 306.8 L565.6 306.9 L566.6 307.0 L567.6 307.1 L568.6 307.2 L569.6 307.3 L570.6 307.4 L571.6 307.5 L572.6 307.6 L573.6 307.6 L574.6 307.7 L575.6 307.8 L576.6 307.9 L577.6 308.0 L578.6 308.1 L579.6 308.2 L580.6 308.3 L581.6 308.3 L582.6 308.4 L583.6 308.5 L584.6 308.6 L585.6 308.7 L586.6 308.8 L587.6 308.9 L588.6 309.0 L589.6 309.1 L590.6 309.1 L591.6 309.2 L592.6 309.3 L593.6 309.4 L594.6 309.5 L595.6 309.6 L596.6 309.7 L597.6 309.8 L598.6 309.9 L599.6 310.0 L600.6 310.1 L601.6 310.1 L602.6 310.2 L603.6 310.3 L604.6 310.4 L605.6 310.5 L606.6 310.6 L607.6 310.7 L608.6 310.8 L609.6 310.9 L610.6 311.0 L611.6 311.1 L612.6 311.2 L613.6 311.3 L614.6 311.4 L615.6 311.4 L616.6 311.5 L617.6 311.6 L618.6 311.7 L619.6 311.8 L620.6 311.9 L621.6 312.0 L622.6 312.1 L623.6 312.2 L624.6 312.3 L625.6 312.4 L626.6 312.5 L627.6 312.6 L628.6 312.6 L629.6 312.7 L630.6 312.8 L631.6 312.9 L632.6 313.0 L633.6 313.1 L634.6 313.2 L635.6 313.3 L636.6 313.4 L637.6 313.5 L638.6 313.6 L639.6 313.7 L640.6 313.8 L641.6 313.8 L642.6 313.9 L643.6 314.0 L644.6 314.1 L645.6 314.2 L646.6 314.3 L647.6 314.4 L648.6 314.5 L649.6 314.6 L650.6 314.7 L651.6 314.8 L652.6 314.9 L653.6 315.0 L654.6 315.0 L655.6 315.1 L656.6 315.2 L657.6 315.3 L658.6 315.4 L659.6 315.5 L660.6 315.6 L661.6 315.7 L662.6 315.8 L662.8 315.8" fill="none" stroke="#2f8f2f" stroke-width="1.55" stroke-dasharray="1.25 1.55" stroke-dashoffset="0.0"/>
<path d="M53.0 27.5 L54.0 27.6 L55.0 27.6 L56.0 27.7 L57.0 27.8 L58.0 27.9 L59.0 28.0 L60.0 28.1 L61.0 28.3 L62.0 28.4 L63.0 28.5 L64.0 28.7 L65.0 28.8 L66.0 29.0 L67.0 29.1 L68.0 29.3 L69.0 29.4 L70.0 29.6 L71.0 29.8 L72.0 30.0 L73.0 30.1 L74.0 30.3 L75.0 30.5 L76.0 30.7 L77.0 30.9 L78.0 31.1 L79.0 31.3 L80.0 31.6 L81.0 31.8 L82.0 32.1 L83.0 32.3 L84.0 32.6 L85.0 32.9 L86.0 33.2 L87.0 33.5 L88.0 33.8 L89.0 34.1 L90.0 34.4 L91.0 34.8 L92.0 35.1 L93.0 35.4 L94.0 35.8 L95.0 36.2 L96.0 36.5 L97.0 36.9 L98.0 37.2 L99.0 37.6 L100.0 38.0 L101.0 38.4 L102.0 38.8 L103.0 39.2 L104.0 39.6 L105.0 40.1 L106.0 40.5 L107.0 41.0 L108.0 41.5 L109.0 42.0 L110.0 42.5 L111.0 43.0 L112.0 43.5 L113.0 44.0 L114.0 44.6 L115.0 45.1 L116.0 45.7 L117.0 46.2 L118.0 46.8 L119.0 47.4 L120.0 48.0 L121.0 48.6 L122.0 49.2 L123.0 49.8 L124.0 50.4 L125.0 51.0 L126.0 51.6 L127.0 52.3 L128.0 52.9 L129.0 53.6 L130.0 54.3 L131.0 55.1 L132.0 55.8 L133.0 56.5 L134.0 57.3 L135.0 58.1 L136.0 58.9 L137.0 59.7 L138.0 60.4 L139.0 61.3 L140.0 62.1 L141.0 62.9 L142.0 63.7 L143.0 64.5 L144.0 65.3 L145.0 66.1 L146.0 66.9 L147.0 67.7 L148.0 68.5 L149.0 69.3 L150.0 70.1 L151.0 70.8 L152.0 71.6 L153.0 72.3 L154.0 73.1 L155.0 73.8 L156.0 74.5 L157.0 75.2 L158.0 75.9 L159.0 76.7 L160.0 77.4 L161.0 78.1 L162.0 78.8 L163.0 79.5 L164.0 80.2 L165.0 80.9 L166.0 81.6 L167.0 82.4 L168.0 83.1 L169.0 83.8 L170.0 84.6 L171.0 85.4 L172.0 86.1 L173.0 86.9 L174.0 87.7 L175.0 88.5 L176.0 89.4 L177.0 90.2 L178.0 91.1 L179.0 91.9 L180.0 92.8 L181.0 93.7 L182.0 94.7 L183.0 95.6 L184.0 96.5 L185.0 97.5 L186.0 98.5 L187.0 99.5 L188.0 100.5 L189.0 101.5 L190.0 102.5 L191.0 103.5 L192.0 104.5 L193.0 105.6 L194.0 106.6 L195.0 107.7 L196.0 108.7 L197.0 109.8 L198.0 110.9 L199.0 111.9 L200.0 113.0 L201.0 114.1 L202.0 115.2 L203.0 116.4 L204.0 117.5 L205.0 118.7 L206.0 119.9 L207.0 121.1 L208.0 122.3 L209.0 123.5 L210.0 124.7 L211.0 125.9 L212.0 127.1 L213.0 128.3 L214.0 129.4 L215.0 130.5 L216.0 131.6 L217.0 132.7 L218.0 133.7 L219.0 134.7 L220.0 135.8 L221.0 136.8 L222.0 137.8 L223.0 138.8 L224.0 139.8 L225.0 140.8 L226.0 141.8 L227.0 142.9 L228.0 143.9 L229.0 144.9 L230.0 145.9 L231.0 147.0 L232.0 148.1 L233.0 149.1 L234.0 150.2 L235.0 151.2 L236.0 152.3 L237.0 153.3 L238.0 154.4 L239.0 155.5 L240.0 156.6 L241.0 157.7 L242.0 158.8 L243.0 159.9 L244.0 161.1 L245.0 162.3 L246.0 163.5 L247.0 164.7 L248.0 165.9 L249.0 167.1 L250.0 168.4 L251.0 169.7 L252.0 170.9 L253.0 172.2 L254.0 173.5 L255.0 174.9 L256.0 176.2 L257.0 177.5 L258.0 178.9 L259.0 180.2 L260.0 181.6 L261.0 183.0 L262.0 184.3 L263.0 185.7 L264.0 187.1 L265.0 188.5 L266.0 189.9 L267.0 191.4 L268.0 192.8 L269.0 194.2 L270.0 195.6 L271.0 197.1 L272.0 198.5 L273.0 200.0 L274.0 201.4 L275.0 202.9 L276.0 204.3 L277.0 205.8 L278.0 207.3 L279.0 208.8 L280.0 210.3 L281.0 211.8 L282.0 213.4 L283.0 214.9 L284.0 216.5 L285.0 218.1 L286.0 219.6 L287.0 221.2 L288.0 222.8 L289.0 224.4 L290.0 225.9 L291.0 227.5 L292.0 229.0 L293.0 230.6 L294.0 232.1 L295.0 233.6 L296.0 235.1 L297.0 236.5 L298.0 238.0 L299.0 239.5 L300.0 241.0 L301.0 242.4 L302.0 243.9 L303.0 245.4 L304.0 246.9 L305.0 248.3 L306.0 249.8 L307.0 251.3 L308.0 252.9 L309.0 254.4 L310.0 255.9 L311.0 257.5 L312.0 259.0 L313.0 260.6 L314.0 262.2 L315.0 263.8 L316.0 265.4 L317.0 267.0 L318.0 268.6 L319.0 270.2 L320.0 271.8 L321.0 273.4 L322.0 275.0 L323.0 276.7 L324.0 278.3 L325.0 279.9 L326.0 281.6 L327.0 283.2 L328.0 284.9 L329.0 286.6 L330.0 288.2 L331.0 289.9 L332.0 291.6 L333.0 293.3 L334.0 295.0 L335.0 296.7 L336.0 298.4 L337.0 300.1 L338.0 301.8 L339.0 303.5 L340.0 305.2 L341.0 307.0 L342.0 308.7 L343.0 310.4 L344.0 312.2 L345.0 313.9 L346.0 315.7 L347.0 317.4 L348.0 319.2 L349.0 321.0 L350.0 322.7 L351.0 324.5 L352.0 326.3 L353.0 328.1 L354.0 329.9 L355.0 331.7 L356.0 333.5 L357.0 335.3 L358.0 337.1 L359.0 339.0 L360.0 340.8 L361.0 342.6 L362.0 344.5 L363.0 346.3 L364.0 348.2 L365.0 350.0 L365.8 351.5" fill="none" stroke="#cc11cc" stroke-width="1.50" stroke-dasharray="3.8 2.0" stroke-dashoffset="2.9"/>
<path d="M53.0 27.5 L54.0 27.6 L55.0 27.6 L56.0 27.7 L57.0 27.8 L58.0 27.9 L59.0 28.0 L60.0 28.1 L61.0 28.3 L62.0 28.4 L63.0 28.5 L64.0 28.7 L65.0 28.8 L66.0 29.0 L67.0 29.1 L68.0 29.3 L69.0 29.4 L70.0 29.6 L71.0 29.8 L72.0 30.0 L73.0 30.1 L74.0 30.3 L75.0 30.5 L76.0 30.7 L77.0 30.9 L78.0 31.1 L79.0 31.3 L80.0 31.6 L81.0 31.8 L82.0 32.1 L83.0 32.3 L84.0 32.6 L85.0 32.9 L86.0 33.2 L87.0 33.5 L88.0 33.8 L89.0 34.1 L90.0 34.4 L91.0 34.8 L92.0 35.1 L93.0 35.4 L94.0 35.8 L95.0 36.2 L96.0 36.5 L97.0 36.9 L98.0 37.2 L99.0 37.6 L100.0 38.0 L101.0 38.4 L102.0 38.8 L103.0 39.2 L104.0 39.6 L105.0 40.1 L106.0 40.5 L107.0 41.0 L108.0 41.5 L109.0 42.0 L110.0 42.5 L111.0 43.0 L112.0 43.5 L113.0 44.0 L114.0 44.6 L115.0 45.1 L116.0 45.7 L117.0 46.2 L118.0 46.8 L119.0 47.4 L120.0 48.0 L121.0 48.6 L122.0 49.2 L123.0 49.8 L124.0 50.4 L125.0 51.0 L126.0 51.6 L127.0 52.3 L128.0 52.9 L129.0 53.6 L130.0 54.3 L131.0 55.1 L132.0 55.8 L133.0 56.5 L134.0 57.3 L135.0 58.1 L136.0 58.9 L137.0 59.7 L138.0 60.4 L139.0 61.3 L140.0 62.1 L141.0 62.9 L142.0 63.7 L143.0 64.5 L144.0 65.3 L145.0 66.1 L146.0 66.9 L147.0 67.7 L148.0 68.5 L149.0 69.3 L150.0 70.1 L151.0 70.8 L152.0 71.6 L153.0 72.3 L154.0 73.1 L155.0 73.8 L156.0 74.5 L157.0 75.2 L158.0 75.9 L159.0 76.7 L160.0 77.4 L161.0 78.1 L162.0 78.8 L163.0 79.5 L164.0 80.2 L165.0 80.9 L166.0 81.6 L167.0 82.4 L168.0 83.1 L169.0 83.8 L170.0 84.6 L171.0 85.4 L172.0 86.1 L173.0 86.9 L174.0 87.7 L175.0 88.5 L176.0 89.4 L177.0 90.2 L178.0 91.1 L179.0 91.9 L180.0 92.8 L181.0 93.7 L182.0 94.6 L183.0 95.5 L184.0 96.4 L185.0 97.4 L186.0 98.3 L187.0 99.3 L188.0 100.3 L189.0 101.2 L190.0 102.2 L191.0 103.3 L192.0 104.3 L193.0 105.3 L194.0 106.4 L195.0 107.4 L196.0 108.5 L197.0 109.6 L198.0 110.7 L199.0 111.9 L200.0 113.0 L201.0 114.2 L202.0 115.4 L203.0 116.7 L204.0 118.0 L205.0 119.3 L206.0 120.7 L207.0 122.1 L208.0 123.5 L209.0 124.9 L210.0 126.3 L211.0 127.7 L212.0 129.1 L213.0 130.4 L214.0 131.7 L215.0 133.0 L216.0 134.2 L217.0 135.5 L218.0 136.7 L219.0 137.9 L220.0 139.1 L221.0 140.2 L222.0 141.4 L223.0 142.6 L224.0 143.7 L225.0 144.9 L226.0 146.1 L227.0 147.2 L228.0 148.4 L229.0 149.6 L230.0 150.8 L231.0 152.0 L232.0 153.2 L233.0 154.4 L234.0 155.7 L235.0 156.9 L236.0 158.1 L237.0 159.4 L238.0 160.6 L239.0 161.8 L240.0 163.1 L241.0 164.3 L242.0 165.6 L243.0 166.9 L244.0 168.1 L245.0 169.4 L246.0 170.7 L247.0 172.0 L248.0 173.3 L249.0 174.7 L250.0 176.0 L251.0 177.3 L252.0 178.7 L253.0 180.0 L254.0 181.3 L255.0 182.7 L256.0 184.0 L257.0 185.4 L258.0 186.7 L259.0 188.1 L260.0 189.5 L261.0 190.9 L262.0 192.3 L263.0 193.7 L264.0 195.2 L265.0 196.7 L266.0 198.2 L267.0 199.8 L268.0 201.4 L269.0 203.0 L270.0 204.7 L271.0 206.4 L272.0 208.2 L273.0 210.1 L274.0 212.1 L275.0 214.1 L276.0 216.1 L277.0 218.2 L278.0 220.3 L279.0 222.5 L280.0 224.6 L281.0 226.7 L282.0 228.9 L283.0 231.0 L284.0 233.1 L285.0 235.3 L286.0 237.4 L287.0 239.6 L288.0 241.8 L289.0 244.1 L290.0 246.3 L291.0 248.5 L292.0 250.7 L293.0 252.8 L294.0 255.0 L295.0 257.1 L296.0 259.3 L297.0 261.4 L298.0 263.5 L299.0 265.7 L300.0 267.8 L301.0 269.9 L302.0 272.0 L303.0 274.1 L304.0 276.2 L305.0 278.3 L306.0 280.4 L307.0 282.5 L308.0 284.6 L309.0 286.7 L310.0 288.8 L311.0 290.9 L312.0 292.9 L313.0 295.0 L314.0 297.1 L315.0 299.2 L316.0 301.2 L317.0 303.3 L318.0 305.4 L319.0 307.4 L320.0 309.5 L321.0 311.5 L322.0 313.6 L323.0 315.6 L324.0 317.7 L325.0 319.7 L326.0 321.8 L327.0 323.8 L328.0 325.9 L329.0 327.9 L330.0 329.9 L331.0 332.0 L332.0 334.0 L333.0 336.0 L334.0 338.0 L335.0 340.1 L336.0 342.1 L337.0 344.1 L338.0 346.1 L339.0 348.1 L340.0 350.1 L340.7 351.5" fill="none" stroke="#111" stroke-width="1.50" stroke-dasharray="3.8 2.0" stroke-dashoffset="0.0"/>
<path d="M53.0 27.5 L54.0 27.6 L55.0 27.6 L56.0 27.7 L57.0 27.7 L58.0 27.8 L59.0 27.9 L60.0 28.0 L61.0 28.0 L62.0 28.1 L63.0 28.2 L64.0 28.3 L65.0 28.4 L66.0 28.5 L67.0 28.6 L68.0 28.7 L69.0 28.8 L70.0 28.9 L71.0 29.0 L72.0 29.1 L73.0 29.2 L74.0 29.3 L75.0 29.5 L76.0 29.6 L77.0 29.7 L78.0 29.8 L79.0 29.9 L80.0 30.1 L81.0 30.2 L82.0 30.3 L83.0 30.5 L84.0 30.6 L85.0 30.7 L86.0 30.9 L87.0 31.0 L88.0 31.2 L89.0 31.3 L90.0 31.5 L91.0 31.6 L92.0 31.8 L93.0 31.9 L94.0 32.1 L95.0 32.2 L96.0 32.4 L97.0 32.5 L98.0 32.7 L99.0 32.8 L100.0 33.0 L101.0 33.2 L102.0 33.3 L103.0 33.5 L104.0 33.7 L105.0 33.9 L106.0 34.0 L107.0 34.2 L108.0 34.4 L109.0 34.6 L110.0 34.8 L111.0 35.0 L112.0 35.2 L113.0 35.4 L114.0 35.7 L115.0 35.9 L116.0 36.1 L117.0 36.3 L118.0 36.6 L119.0 36.8 L120.0 37.0 L121.0 37.3 L122.0 37.5 L123.0 37.8 L124.0 38.0 L125.0 38.3 L126.0 38.5 L127.0 38.8 L128.0 39.1 L129.0 39.3 L130.0 39.6 L131.0 39.9 L132.0 40.1 L133.0 40.4 L134.0 40.7 L135.0 41.0 L136.0 41.3 L137.0 41.5 L138.0 41.8 L139.0 42.1 L140.0 42.4 L141.0 42.7 L142.0 43.0 L143.0 43.3 L144.0 43.6 L145.0 43.9 L146.0 44.2 L147.0 44.5 L148.0 44.8 L149.0 45.1 L150.0 45.4 L151.0 45.7 L152.0 46.0 L153.0 46.4 L154.0 46.7 L155.0 47.0 L156.0 47.4 L157.0 47.7 L158.0 48.1 L159.0 48.5 L160.0 48.8 L161.0 49.2 L162.0 49.6 L163.0 50.0 L164.0 50.4 L165.0 50.8 L166.0 51.2 L167.0 51.6 L168.0 52.0 L169.0 52.4 L170.0 52.8 L171.0 53.2 L172.0 53.6 L173.0 54.0 L174.0 54.4 L175.0 54.8 L176.0 55.3 L177.0 55.7 L178.0 56.1 L179.0 56.5 L180.0 56.9 L181.0 57.4 L182.0 57.8 L183.0 58.2 L184.0 58.6 L185.0 59.0 L186.0 59.4 L187.0 59.8 L188.0 60.2 L189.0 60.6 L190.0 61.0 L191.0 61.4 L192.0 61.8 L193.0 62.2 L194.0 62.5 L195.0 62.9 L196.0 63.3 L197.0 63.7 L198.0 64.0 L199.0 64.4 L200.0 64.8 L201.0 65.2 L202.0 65.5 L203.0 65.9 L204.0 66.3 L205.0 66.7 L206.0 67.1 L207.0 67.5 L208.0 67.9 L209.0 68.3 L210.0 68.7 L211.0 69.1 L212.0 69.6 L213.0 70.0 L214.0 70.4 L215.0 70.9 L216.0 71.4 L217.0 71.8 L218.0 72.3 L219.0 72.8 L220.0 73.3 L221.0 73.7 L222.0 74.2 L223.0 74.7 L224.0 75.2 L225.0 75.8 L226.0 76.3 L227.0 76.8 L228.0 77.3 L229.0 77.8 L230.0 78.4 L231.0 78.9 L232.0 79.4 L233.0 80.0 L234.0 80.5 L235.0 81.1 L236.0 81.6 L237.0 82.1 L238.0 82.7 L239.0 83.3 L240.0 83.8 L241.0 84.4 L242.0 85.0 L243.0 85.6 L244.0 86.2 L245.0 86.8 L246.0 87.4 L247.0 88.0 L248.0 88.6 L249.0 89.2 L250.0 89.8 L251.0 90.4 L252.0 91.0 L253.0 91.6 L254.0 92.2 L255.0 92.8 L256.0 93.4 L257.0 94.0 L258.0 94.6 L259.0 95.2 L260.0 95.8 L261.0 96.3 L262.0 96.9 L263.0 97.5 L264.0 98.0 L265.0 98.6 L266.0 99.1 L267.0 99.7 L268.0 100.3 L269.0 100.8 L270.0 101.4 L271.0 101.9 L272.0 102.5 L273.0 103.0 L274.0 103.6 L275.0 104.1 L276.0 104.7 L277.0 105.2 L278.0 105.8 L279.0 106.4 L280.0 107.0 L281.0 107.5 L282.0 108.1 L283.0 108.7 L284.0 109.3 L285.0 109.9 L286.0 110.5 L287.0 111.1 L288.0 111.7 L289.0 112.3 L290.0 113.0 L291.0 113.7 L292.0 114.4 L293.0 115.1 L294.0 115.8 L295.0 116.5 L296.0 117.3 L297.0 118.1 L298.0 118.8 L299.0 119.6 L300.0 120.4 L301.0 121.2 L302.0 122.0 L303.0 122.7 L304.0 123.5 L305.0 124.3 L306.0 125.1 L307.0 125.9 L308.0 126.6 L309.0 127.4 L310.0 128.1 L311.0 128.9 L312.0 129.7 L313.0 130.4 L314.0 131.2 L315.0 131.9 L316.0 132.7 L317.0 133.5 L318.0 134.2 L319.0 135.0 L320.0 135.7 L321.0 136.5 L322.0 137.2 L323.0 137.9 L324.0 138.7 L325.0 139.4 L326.0 140.1 L327.0 140.8 L328.0 141.5 L329.0 142.2 L330.0 142.9 L331.0 143.5 L332.0 144.2 L333.0 144.8 L334.0 145.5 L335.0 146.1 L336.0 146.8 L337.0 147.4 L338.0 148.1 L339.0 148.7 L340.0 149.4 L341.0 150.0 L342.0 150.6 L343.0 151.3 L344.0 151.9 L345.0 152.5 L346.0 153.2 L347.0 153.8 L348.0 154.4 L349.0 155.0 L350.0 155.6 L351.0 156.2 L352.0 156.9 L353.0 157.5 L354.0 158.1 L355.0 158.7 L356.0 159.4 L357.0 160.1 L358.0 160.8 L359.0 161.5 L360.0 162.3 L361.0 163.1 L362.0 163.9 L363.0 164.7 L364.0 165.6 L365.0 166.4 L366.0 167.3 L367.0 168.2 L368.0 169.1 L369.0 170.0 L370.0 170.9 L371.0 171.9 L372.0 172.8 L373.0 173.7 L374.0 174.6 L375.0 175.6 L376.0 176.5 L377.0 177.4 L378.0 178.3 L379.0 179.3 L380.0 180.2 L381.0 181.1 L382.0 182.1 L383.0 183.0 L384.0 184.0 L385.0 184.9 L386.0 185.9 L387.0 186.8 L388.0 187.8 L389.0 188.8 L390.0 189.7 L391.0 190.7 L392.0 191.7 L393.0 192.7 L394.0 193.6 L395.0 194.6 L396.0 195.6 L397.0 196.6 L398.0 197.6 L399.0 198.6 L400.0 199.6 L401.0 200.6 L402.0 201.6 L403.0 202.6 L404.0 203.6 L405.0 204.6 L406.0 205.6 L407.0 206.6 L408.0 207.6 L409.0 208.6 L410.0 209.6 L411.0 210.6 L412.0 211.6 L413.0 212.6 L414.0 213.7 L415.0 214.7 L416.0 215.7 L417.0 216.7 L418.0 217.7 L419.0 218.7 L420.0 219.8 L421.0 220.8 L422.0 221.8 L423.0 222.8 L424.0 223.8 L425.0 224.9 L426.0 225.9 L427.0 226.9 L428.0 227.9 L429.0 228.9 L430.0 229.9 L431.0 230.9 L432.0 232.0 L433.0 233.0 L434.0 234.0 L435.0 235.0 L436.0 236.0 L437.0 237.0 L438.0 238.0 L439.0 239.0 L440.0 240.0 L441.0 241.0 L442.0 242.0 L443.0 243.0 L444.0 244.0 L445.0 245.0 L446.0 246.0 L447.0 247.0 L448.0 248.0 L449.0 248.9 L450.0 249.9 L451.0 250.9 L452.0 251.8 L453.0 252.8 L454.0 253.8 L455.0 254.7 L456.0 255.7 L457.0 256.7 L458.0 257.6 L459.0 258.6 L460.0 259.5 L461.0 260.5 L462.0 261.5 L463.0 262.4 L464.0 263.4 L465.0 264.3 L466.0 265.3 L467.0 266.3 L468.0 267.3 L469.0 268.2 L470.0 269.2 L471.0 270.2 L472.0 271.2 L473.0 272.2 L474.0 273.2 L475.0 274.2 L476.0 275.2 L477.0 276.3 L478.0 277.3 L479.0 278.3 L480.0 279.4 L481.0 280.5 L482.0 281.5 L483.0 282.6 L484.0 283.7 L485.0 284.8 L486.0 285.9 L487.0 287.1 L488.0 288.2 L489.0 289.4 L490.0 290.5 L491.0 291.7 L492.0 292.9 L493.0 294.1 L494.0 295.3 L495.0 296.5 L496.0 297.7 L497.0 298.9 L498.0 300.1 L499.0 301.4 L500.0 302.6 L501.0 303.8 L502.0 305.0 L503.0 306.2 L504.0 307.4 L505.0 308.6 L506.0 309.8 L507.0 311.0 L508.0 312.2 L509.0 313.3 L510.0 314.5 L511.0 315.6 L512.0 316.8 L513.0 317.9 L514.0 319.1 L515.0 320.2 L516.0 321.4 L517.0 322.5 L518.0 323.6 L519.0 324.8 L520.0 325.9 L521.0 327.0 L522.0 328.2 L523.0 329.3 L524.0 330.4 L525.0 331.5 L526.0 332.6 L527.0 333.7 L528.0 334.8 L529.0 335.9 L530.0 336.9 L531.0 338.0 L532.0 339.1 L533.0 340.1 L534.0 341.2 L535.0 342.2 L536.0 343.2 L537.0 344.2 L538.0 345.2 L539.0 346.2 L540.0 347.1 L541.0 348.1 L542.0 349.0 L543.0 349.9 L544.0 350.9 L544.7 351.5" fill="none" stroke="#cc11cc" stroke-width="1.50" stroke-dasharray="1.25 1.55" stroke-dashoffset="0.0"/>
<path d="M53.0 27.5 L54.0 27.5 L55.0 27.6 L56.0 27.7 L57.0 27.7 L58.0 27.8 L59.0 27.9 L60.0 27.9 L61.0 28.0 L62.0 28.1 L63.0 28.2 L64.0 28.3 L65.0 28.3 L66.0 28.4 L67.0 28.5 L68.0 28.6 L69.0 28.7 L70.0 28.8 L71.0 28.9 L72.0 29.1 L73.0 29.2 L74.0 29.3 L75.0 29.4 L76.0 29.5 L77.0 29.6 L78.0 29.8 L79.0 29.9 L80.0 30.0 L81.0 30.2 L82.0 30.3 L83.0 30.4 L84.0 30.6 L85.0 30.7 L86.0 30.9 L87.0 31.0 L88.0 31.1 L89.0 31.3 L90.0 31.4 L91.0 31.6 L92.0 31.7 L93.0 31.9 L94.0 32.1 L95.0 32.2 L96.0 32.4 L97.0 32.5 L98.0 32.7 L99.0 32.8 L100.0 33.0 L101.0 33.2 L102.0 33.3 L103.0 33.5 L104.0 33.7 L105.0 33.9 L106.0 34.1 L107.0 34.3 L108.0 34.5 L109.0 34.7 L110.0 34.9 L111.0 35.1 L112.0 35.3 L113.0 35.5 L114.0 35.8 L115.0 36.0 L116.0 36.2 L117.0 36.5 L118.0 36.7 L119.0 37.0 L120.0 37.2 L121.0 37.5 L122.0 37.7 L123.0 38.0 L124.0 38.3 L125.0 38.5 L126.0 38.8 L127.0 39.1 L128.0 39.3 L129.0 39.6 L130.0 39.9 L131.0 40.2 L132.0 40.5 L133.0 40.8 L134.0 41.1 L135.0 41.4 L136.0 41.7 L137.0 42.0 L138.0 42.3 L139.0 42.6 L140.0 42.9 L141.0 43.2 L142.0 43.5 L143.0 43.8 L144.0 44.1 L145.0 44.4 L146.0 44.7 L147.0 45.1 L148.0 45.4 L149.0 45.7 L150.0 46.0 L151.0 46.3 L152.0 46.7 L153.0 47.0 L154.0 47.3 L155.0 47.7 L156.0 48.0 L157.0 48.4 L158.0 48.8 L159.0 49.2 L160.0 49.5 L161.0 49.9 L162.0 50.3 L163.0 50.7 L164.0 51.1 L165.0 51.5 L166.0 51.9 L167.0 52.4 L168.0 52.8 L169.0 53.2 L170.0 53.6 L171.0 54.0 L172.0 54.5 L173.0 54.9 L174.0 55.3 L175.0 55.7 L176.0 56.2 L177.0 56.6 L178.0 57.0 L179.0 57.4 L180.0 57.9 L181.0 58.3 L182.0 58.7 L183.0 59.1 L184.0 59.6 L185.0 60.0 L186.0 60.4 L187.0 60.8 L188.0 61.2 L189.0 61.6 L190.0 62.0 L191.0 62.4 L192.0 62.8 L193.0 63.2 L194.0 63.5 L195.0 63.9 L196.0 64.3 L197.0 64.7 L198.0 65.1 L199.0 65.4 L200.0 65.8 L201.0 66.2 L202.0 66.6 L203.0 66.9 L204.0 67.3 L205.0 67.7 L206.0 68.1 L207.0 68.5 L208.0 68.9 L209.0 69.3 L210.0 69.7 L211.0 70.1 L212.0 70.6 L213.0 71.0 L214.0 71.4 L215.0 71.9 L216.0 72.4 L217.0 72.8 L218.0 73.3 L219.0 73.8 L220.0 74.3 L221.0 74.8 L222.0 75.3 L223.0 75.8 L224.0 76.3 L225.0 76.8 L226.0 77.3 L227.0 77.8 L228.0 78.4 L229.0 78.9 L230.0 79.4 L231.0 80.0 L232.0 80.5 L233.0 81.1 L234.0 81.6 L235.0 82.2 L236.0 82.7 L237.0 83.3 L238.0 83.8 L239.0 84.4 L240.0 85.0 L241.0 85.6 L242.0 86.1 L243.0 86.7 L244.0 87.3 L245.0 87.9 L246.0 88.5 L247.0 89.2 L248.0 89.8 L249.0 90.4 L250.0 91.0 L251.0 91.6 L252.0 92.2 L253.0 92.8 L254.0 93.5 L255.0 94.1 L256.0 94.7 L257.0 95.3 L258.0 95.9 L259.0 96.5 L260.0 97.1 L261.0 97.7 L262.0 98.3 L263.0 98.8 L264.0 99.4 L265.0 100.0 L266.0 100.5 L267.0 101.1 L268.0 101.6 L269.0 102.2 L270.0 102.7 L271.0 103.3 L272.0 103.9 L273.0 104.5 L274.0 105.0 L275.0 105.6 L276.0 106.2 L277.0 106.9 L278.0 107.5 L279.0 108.1 L280.0 108.8 L281.0 109.5 L282.0 110.2 L283.0 110.9 L284.0 111.7 L285.0 112.5 L286.0 113.4 L287.0 114.2 L288.0 115.1 L289.0 116.0 L290.0 116.8 L291.0 117.6 L292.0 118.4 L293.0 119.2 L294.0 120.0 L295.0 120.8 L296.0 121.6 L297.0 122.4 L298.0 123.2 L299.0 124.0 L300.0 124.8 L301.0 125.6 L302.0 126.4 L303.0 127.1 L304.0 127.9 L305.0 128.7 L306.0 129.5 L307.0 130.3 L308.0 131.1 L309.0 131.9 L310.0 132.7 L311.0 133.5 L312.0 134.3 L313.0 135.1 L314.0 135.9 L315.0 136.7 L316.0 137.5 L317.0 138.3 L318.0 139.0 L319.0 139.8 L320.0 140.6 L321.0 141.4 L322.0 142.2 L323.0 143.1 L324.0 143.9 L325.0 144.7 L326.0 145.5 L327.0 146.3 L328.0 147.1 L329.0 147.9 L330.0 148.8 L331.0 149.6 L332.0 150.4 L333.0 151.3 L334.0 152.1 L335.0 153.0 L336.0 153.8 L337.0 154.6 L338.0 155.5 L339.0 156.3 L340.0 157.2 L341.0 158.0 L342.0 158.9 L343.0 159.7 L344.0 160.6 L345.0 161.4 L346.0 162.3 L347.0 163.1 L348.0 163.9 L349.0 164.8 L350.0 165.6 L351.0 166.4 L352.0 167.2 L353.0 168.1 L354.0 168.9 L355.0 169.7 L356.0 170.5 L357.0 171.4 L358.0 172.2 L359.0 173.0 L360.0 173.9 L361.0 174.7 L362.0 175.6 L363.0 176.4 L364.0 177.3 L365.0 178.1 L366.0 179.0 L367.0 179.9 L368.0 180.8 L369.0 181.7 L370.0 182.6 L371.0 183.5 L372.0 184.5 L373.0 185.4 L374.0 186.4 L375.0 187.3 L376.0 188.3 L377.0 189.3 L378.0 190.3 L379.0 191.3 L380.0 192.3 L381.0 193.3 L382.0 194.4 L383.0 195.4 L384.0 196.4 L385.0 197.4 L386.0 198.5 L387.0 199.5 L388.0 200.5 L389.0 201.6 L390.0 202.6 L391.0 203.6 L392.0 204.7 L393.0 205.7 L394.0 206.7 L395.0 207.7 L396.0 208.7 L397.0 209.7 L398.0 210.7 L399.0 211.7 L400.0 212.7 L401.0 213.7 L402.0 214.7 L403.0 215.7 L404.0 216.7 L405.0 217.6 L406.0 218.6 L407.0 219.6 L408.0 220.6 L409.0 221.6 L410.0 222.6 L411.0 223.6 L412.0 224.6 L413.0 225.6 L414.0 226.7 L415.0 227.7 L416.0 228.7 L417.0 229.7 L418.0 230.8 L419.0 231.8 L420.0 232.9 L421.0 234.0 L422.0 235.0 L423.0 236.1 L424.0 237.2 L425.0 238.3 L426.0 239.4 L427.0 240.5 L428.0 241.7 L429.0 242.8 L430.0 243.9 L431.0 245.0 L432.0 246.2 L433.0 247.3 L434.0 248.4 L435.0 249.6 L436.0 250.7 L437.0 251.9 L438.0 253.0 L439.0 254.2 L440.0 255.3 L441.0 256.5 L442.0 257.6 L443.0 258.7 L444.0 259.9 L445.0 261.0 L446.0 262.1 L447.0 263.3 L448.0 264.4 L449.0 265.5 L450.0 266.6 L451.0 267.7 L452.0 268.8 L453.0 269.9 L454.0 271.0 L455.0 272.2 L456.0 273.3 L457.0 274.4 L458.0 275.5 L459.0 276.6 L460.0 277.8 L461.0 278.9 L462.0 280.0 L463.0 281.2 L464.0 282.3 L465.0 283.5 L466.0 284.6 L467.0 285.8 L468.0 287.0 L469.0 288.2 L470.0 289.4 L471.0 290.6 L472.0 291.8 L473.0 293.1 L474.0 294.3 L475.0 295.6 L476.0 296.9 L477.0 298.1 L478.0 299.4 L479.0 300.7 L480.0 302.0 L481.0 303.4 L482.0 304.7 L483.0 306.0 L484.0 307.3 L485.0 308.7 L486.0 310.0 L487.0 311.3 L488.0 312.7 L489.0 314.0 L490.0 315.3 L491.0 316.7 L492.0 318.0 L493.0 319.3 L494.0 320.7 L495.0 322.0 L496.0 323.3 L497.0 324.7 L498.0 326.0 L499.0 327.3 L500.0 328.6 L501.0 330.0 L502.0 331.3 L503.0 332.6 L504.0 334.0 L505.0 335.3 L506.0 336.7 L507.0 338.0 L508.0 339.3 L509.0 340.7 L510.0 342.0 L511.0 343.4 L512.0 344.7 L513.0 346.1 L514.0 347.4 L515.0 348.8 L516.0 350.1 L517.0 351.5" fill="none" stroke="#111" stroke-width="1.50" stroke-dasharray="1.25 1.55" stroke-dashoffset="0.0"/>
<path d="M72.6 2.8V14.8M85.0 5.0V17.0M62.5 12.0V22.0M89.0 41.7V57.7M97.7 43.0V61.0M254.6 179.0V210.0M267.7 205.4V227.4M267.3 191.0V257.0M416.5 265.0V283.0M431.6 255.8V271.8M434.0 262.0V278.0M432.0 272.0V288.0M437.8 269.6V287.6M445.4 256.5V268.5M445.9 264.0V280.0M450.9 268.4V284.4M452.4 278.4V296.4M460.5 273.9V293.9M467.5 260.0V282.0M471.8 266.4V288.4M470.5 275.7V305.7M475.0 273.0V301.0M466.7 282.5V341.5M474.3 281.0V319.0M480.6 288.7V332.7M484.8 289.3V351.2M485.0 300.0V351.2M488.0 301.8V351.2M491.0 286.0V351.2M496.8 266.0V296.0M501.2 266.6V350.6M499.4 280.0V314.0M508.2 282.0V312.0M507.0 288.7V332.7M507.4 297.5V341.5M505.7 303.0V351.2M504.5 317.0V351.2M500.0 322.0V351.2M513.2 261.3V283.3M513.7 270.0V294.0M518.7 268.5V294.5M523.8 274.0V310.0M551.0 254.0V276.0M543.5 275.4V297.4M549.0 293.0V351.2M561.0 289.0V321.0M565.6 289.5V332.5M575.4 263.0V295.0M579.2 287.0V351.2" stroke="#666" stroke-width="1.2" fill="none"/>
<path d="M61.5 9.0V54.0M66.0 14.0V24.0M126.0 16.0V32.0M111.2 59.0V88.0M123.0 68.4V97.4M88.0 9.0V19.0M252.3 135.8V179.8M256.0 152.0V168.0M265.4 118.7V177.7M268.5 133.5V170.5M267.7 157.0V187.0M259.0 160.8V180.8M266.0 156.5V234.5M262.3 159.0V251.0M264.0 159.0V243.0M261.5 160.8V182.8M263.0 170.0V190.0M405.2 238.7V254.7M393.9 240.7V252.7M449.2 235.0V262.0M398.1 265.9V293.9M416.0 262.8V274.8M429.0 277.2V293.2M433.6 322.4V351.2M472.3 324.4V351.2M485.0 269.9V292.9M480.6 284.0V308.0M494.4 292.8V343.8M502.4 305.0V344.0M505.2 328.0V351.2M512.0 290.3V325.3M517.7 317.6V350.6M529.3 253.3V283.3M553.2 215.0V256.0M589.2 259.4V351.2M575.4 291.0V351.2" stroke="#78aaff" stroke-width="1.2" fill="none"/>
<path d="M77.0 5.5V15.5M80.8 43.5V62.5M90.8 56.3V86.3M151.0 76.0V84.0M409.4 268.1V282.1M422.0 281.7V293.7M425.8 293.3V344.3" stroke="#e07070" stroke-width="1.2" fill="none"/>
<path d="M75.7 29.1l3.6 5.9l-3.6 5.9l-3.6 -5.9z" fill="#fff" fill-opacity="0.55" stroke="#1a1a1a" stroke-width="1.10" stroke-linejoin="miter"/>
<path d="M57.7 27.4l3.6 5.9l-3.6 5.9l-3.6 -5.9z" fill="#fff" fill-opacity="0.55" stroke="#1a1a1a" stroke-width="1.10" stroke-linejoin="miter"/>
<path d="M95.9 30.0l3.6 5.9l-3.6 5.9l-3.6 -5.9z" fill="#fff" fill-opacity="0.55" stroke="#1a1a1a" stroke-width="1.10" stroke-linejoin="miter"/>
<path d="M93.0 30.7l3.6 5.9l-3.6 5.9l-3.6 -5.9z" fill="#fff" fill-opacity="0.55" stroke="#1a1a1a" stroke-width="1.10" stroke-linejoin="miter"/>
<path d="M56.1 22.6l3.6 5.9l-3.6 5.9l-3.6 -5.9z" fill="#fff" fill-opacity="0.55" stroke="#1a1a1a" stroke-width="1.10" stroke-linejoin="miter"/>
<path d="M58.7 24.5l3.6 5.9l-3.6 5.9l-3.6 -5.9z" fill="#fff" fill-opacity="0.55" stroke="#1a1a1a" stroke-width="1.10" stroke-linejoin="miter"/>
<path d="M84.9 28.9l3.6 5.9l-3.6 5.9l-3.6 -5.9z" fill="#fff" fill-opacity="0.55" stroke="#1a1a1a" stroke-width="1.10" stroke-linejoin="miter"/>
<path d="M67.5 23.9l3.6 5.9l-3.6 5.9l-3.6 -5.9z" fill="#fff" fill-opacity="0.55" stroke="#1a1a1a" stroke-width="1.10" stroke-linejoin="miter"/>
<path d="M105.6 37.0l3.6 5.9l-3.6 5.9l-3.6 -5.9z" fill="#fff" fill-opacity="0.55" stroke="#1a1a1a" stroke-width="1.10" stroke-linejoin="miter"/>
<path d="M82.3 26.5l3.6 5.9l-3.6 5.9l-3.6 -5.9z" fill="#fff" fill-opacity="0.55" stroke="#1a1a1a" stroke-width="1.10" stroke-linejoin="miter"/>
<path d="M147.0 60.1l3.6 5.9l-3.6 5.9l-3.6 -5.9z" fill="#fff" fill-opacity="0.55" stroke="#1a1a1a" stroke-width="1.10" stroke-linejoin="miter"/>
<path d="M72.8 27.8l3.6 5.9l-3.6 5.9l-3.6 -5.9z" fill="#fff" fill-opacity="0.55" stroke="#1a1a1a" stroke-width="1.10" stroke-linejoin="miter"/>
<path d="M62.0 26.4l3.6 5.9l-3.6 5.9l-3.6 -5.9z" fill="#fff" fill-opacity="0.55" stroke="#1a1a1a" stroke-width="1.10" stroke-linejoin="miter"/>
<path d="M127.2 43.2l3.6 5.9l-3.6 5.9l-3.6 -5.9z" fill="#fff" fill-opacity="0.55" stroke="#1a1a1a" stroke-width="1.10" stroke-linejoin="miter"/>
<path d="M64.4 21.1l3.6 5.9l-3.6 5.9l-3.6 -5.9z" fill="#fff" fill-opacity="0.55" stroke="#1a1a1a" stroke-width="1.10" stroke-linejoin="miter"/>
<path d="M80.0 25.3l3.6 5.9l-3.6 5.9l-3.6 -5.9z" fill="#fff" fill-opacity="0.55" stroke="#1a1a1a" stroke-width="1.10" stroke-linejoin="miter"/>
<path d="M97.2 32.0l3.6 5.9l-3.6 5.9l-3.6 -5.9z" fill="#fff" fill-opacity="0.55" stroke="#1a1a1a" stroke-width="1.10" stroke-linejoin="miter"/>
<path d="M66.3 25.5l3.6 5.9l-3.6 5.9l-3.6 -5.9z" fill="#fff" fill-opacity="0.55" stroke="#1a1a1a" stroke-width="1.10" stroke-linejoin="miter"/>
<path d="M111.5 33.0l3.6 5.9l-3.6 5.9l-3.6 -5.9z" fill="#fff" fill-opacity="0.55" stroke="#1a1a1a" stroke-width="1.10" stroke-linejoin="miter"/>
<path d="M101.1 33.2l3.6 5.9l-3.6 5.9l-3.6 -5.9z" fill="#fff" fill-opacity="0.55" stroke="#1a1a1a" stroke-width="1.10" stroke-linejoin="miter"/>
<path d="M87.6 27.0l3.6 5.9l-3.6 5.9l-3.6 -5.9z" fill="#fff" fill-opacity="0.55" stroke="#1a1a1a" stroke-width="1.10" stroke-linejoin="miter"/>
<path d="M113.6 41.1l3.6 5.9l-3.6 5.9l-3.6 -5.9z" fill="#fff" fill-opacity="0.55" stroke="#1a1a1a" stroke-width="1.10" stroke-linejoin="miter"/>
<path d="M69.2 22.2l3.6 5.9l-3.6 5.9l-3.6 -5.9z" fill="#fff" fill-opacity="0.55" stroke="#1a1a1a" stroke-width="1.10" stroke-linejoin="miter"/>
<path d="M134.3 44.0l3.6 5.9l-3.6 5.9l-3.6 -5.9z" fill="#fff" fill-opacity="0.55" stroke="#1a1a1a" stroke-width="1.10" stroke-linejoin="miter"/>
<path d="M117.1 35.2l3.6 5.9l-3.6 5.9l-3.6 -5.9z" fill="#fff" fill-opacity="0.55" stroke="#1a1a1a" stroke-width="1.10" stroke-linejoin="miter"/>
<path d="M60.3 32.4l3.6 5.9l-3.6 5.9l-3.6 -5.9z" fill="#fff" fill-opacity="0.55" stroke="#1a1a1a" stroke-width="1.10" stroke-linejoin="miter"/>
<path d="M84.3 28.2l3.6 5.9l-3.6 5.9l-3.6 -5.9z" fill="#fff" fill-opacity="0.55" stroke="#1a1a1a" stroke-width="1.10" stroke-linejoin="miter"/>
<path d="M91.2 27.7l3.6 5.9l-3.6 5.9l-3.6 -5.9z" fill="#fff" fill-opacity="0.55" stroke="#1a1a1a" stroke-width="1.10" stroke-linejoin="miter"/>
<path d="M56.2 21.1l3.6 5.9l-3.6 5.9l-3.6 -5.9z" fill="#fff" fill-opacity="0.55" stroke="#1a1a1a" stroke-width="1.10" stroke-linejoin="miter"/>
<path d="M99.8 27.3l3.6 5.9l-3.6 5.9l-3.6 -5.9z" fill="#fff" fill-opacity="0.55" stroke="#1a1a1a" stroke-width="1.10" stroke-linejoin="miter"/>
<path d="M134.4 43.9l3.6 5.9l-3.6 5.9l-3.6 -5.9z" fill="#fff" fill-opacity="0.55" stroke="#1a1a1a" stroke-width="1.10" stroke-linejoin="miter"/>
<path d="M102.1 36.6l3.6 5.9l-3.6 5.9l-3.6 -5.9z" fill="#fff" fill-opacity="0.55" stroke="#1a1a1a" stroke-width="1.10" stroke-linejoin="miter"/>
<path d="M100.5 26.4l3.6 5.9l-3.6 5.9l-3.6 -5.9z" fill="#fff" fill-opacity="0.55" stroke="#1a1a1a" stroke-width="1.10" stroke-linejoin="miter"/>
<path d="M143.0 53.1l3.6 5.9l-3.6 5.9l-3.6 -5.9z" fill="#fff" fill-opacity="0.55" stroke="#1a1a1a" stroke-width="1.10" stroke-linejoin="miter"/>
<path d="M89.7 28.5l3.6 5.9l-3.6 5.9l-3.6 -5.9z" fill="#fff" fill-opacity="0.55" stroke="#1a1a1a" stroke-width="1.10" stroke-linejoin="miter"/>
<path d="M113.9 35.2l3.6 5.9l-3.6 5.9l-3.6 -5.9z" fill="#fff" fill-opacity="0.55" stroke="#1a1a1a" stroke-width="1.10" stroke-linejoin="miter"/>
<path d="M107.8 39.6l3.6 5.9l-3.6 5.9l-3.6 -5.9z" fill="#fff" fill-opacity="0.55" stroke="#1a1a1a" stroke-width="1.10" stroke-linejoin="miter"/>
<path d="M72.4 25.8l3.6 5.9l-3.6 5.9l-3.6 -5.9z" fill="#fff" fill-opacity="0.55" stroke="#1a1a1a" stroke-width="1.10" stroke-linejoin="miter"/>
<path d="M81.3 27.3l3.6 5.9l-3.6 5.9l-3.6 -5.9z" fill="#fff" fill-opacity="0.55" stroke="#1a1a1a" stroke-width="1.10" stroke-linejoin="miter"/>
<path d="M88.5 28.3l3.6 5.9l-3.6 5.9l-3.6 -5.9z" fill="#fff" fill-opacity="0.55" stroke="#1a1a1a" stroke-width="1.10" stroke-linejoin="miter"/>
<path d="M63.6 25.5l3.6 5.9l-3.6 5.9l-3.6 -5.9z" fill="#fff" fill-opacity="0.55" stroke="#1a1a1a" stroke-width="1.10" stroke-linejoin="miter"/>
<path d="M121.5 39.5l3.6 5.9l-3.6 5.9l-3.6 -5.9z" fill="#fff" fill-opacity="0.55" stroke="#1a1a1a" stroke-width="1.10" stroke-linejoin="miter"/>
<path d="M61.0 24.4l3.6 5.9l-3.6 5.9l-3.6 -5.9z" fill="#fff" fill-opacity="0.55" stroke="#1a1a1a" stroke-width="1.10" stroke-linejoin="miter"/>
<path d="M133.9 48.4l3.6 5.9l-3.6 5.9l-3.6 -5.9z" fill="#fff" fill-opacity="0.55" stroke="#1a1a1a" stroke-width="1.10" stroke-linejoin="miter"/>
<path d="M58.2 20.3l3.6 5.9l-3.6 5.9l-3.6 -5.9z" fill="#fff" fill-opacity="0.55" stroke="#1a1a1a" stroke-width="1.10" stroke-linejoin="miter"/>
<path d="M135.4 47.4l3.6 5.9l-3.6 5.9l-3.6 -5.9z" fill="#fff" fill-opacity="0.55" stroke="#1a1a1a" stroke-width="1.10" stroke-linejoin="miter"/>
<path d="M127.6 43.3l3.6 5.9l-3.6 5.9l-3.6 -5.9z" fill="#fff" fill-opacity="0.55" stroke="#1a1a1a" stroke-width="1.10" stroke-linejoin="miter"/>
<path d="M84.0 26.2l3.6 5.9l-3.6 5.9l-3.6 -5.9z" fill="#fff" fill-opacity="0.55" stroke="#1a1a1a" stroke-width="1.10" stroke-linejoin="miter"/>
<path d="M78.8 32.8l3.6 5.9l-3.6 5.9l-3.6 -5.9z" fill="#fff" fill-opacity="0.55" stroke="#1a1a1a" stroke-width="1.10" stroke-linejoin="miter"/>
<path d="M62.4 19.5l3.6 5.9l-3.6 5.9l-3.6 -5.9z" fill="#fff" fill-opacity="0.55" stroke="#1a1a1a" stroke-width="1.10" stroke-linejoin="miter"/>
<path d="M64.1 25.0l3.6 5.9l-3.6 5.9l-3.6 -5.9z" fill="#fff" fill-opacity="0.55" stroke="#1a1a1a" stroke-width="1.10" stroke-linejoin="miter"/>
<path d="M90.8 31.5l3.6 5.9l-3.6 5.9l-3.6 -5.9z" fill="#fff" fill-opacity="0.55" stroke="#1a1a1a" stroke-width="1.10" stroke-linejoin="miter"/>
<path d="M101.5 32.1l3.6 5.9l-3.6 5.9l-3.6 -5.9z" fill="#fff" fill-opacity="0.55" stroke="#1a1a1a" stroke-width="1.10" stroke-linejoin="miter"/>
<path d="M84.4 28.4l3.6 5.9l-3.6 5.9l-3.6 -5.9z" fill="#fff" fill-opacity="0.55" stroke="#1a1a1a" stroke-width="1.10" stroke-linejoin="miter"/>
<path d="M79.8 20.5l3.6 5.9l-3.6 5.9l-3.6 -5.9z" fill="#fff" fill-opacity="0.55" stroke="#1a1a1a" stroke-width="1.10" stroke-linejoin="miter"/>
<path d="M112.6 32.7l3.6 5.9l-3.6 5.9l-3.6 -5.9z" fill="#fff" fill-opacity="0.55" stroke="#1a1a1a" stroke-width="1.10" stroke-linejoin="miter"/>
<path d="M93.8 26.8l3.6 5.9l-3.6 5.9l-3.6 -5.9z" fill="#fff" fill-opacity="0.55" stroke="#1a1a1a" stroke-width="1.10" stroke-linejoin="miter"/>
<path d="M56.8 20.7l3.6 5.9l-3.6 5.9l-3.6 -5.9z" fill="#fff" fill-opacity="0.55" stroke="#1a1a1a" stroke-width="1.10" stroke-linejoin="miter"/>
<path d="M137.3 48.7l3.6 5.9l-3.6 5.9l-3.6 -5.9z" fill="#fff" fill-opacity="0.55" stroke="#1a1a1a" stroke-width="1.10" stroke-linejoin="miter"/>
<path d="M125.0 34.2l3.6 5.9l-3.6 5.9l-3.6 -5.9z" fill="#fff" fill-opacity="0.55" stroke="#1a1a1a" stroke-width="1.10" stroke-linejoin="miter"/>
<path d="M81.9 26.5l3.6 5.9l-3.6 5.9l-3.6 -5.9z" fill="#fff" fill-opacity="0.55" stroke="#1a1a1a" stroke-width="1.10" stroke-linejoin="miter"/>
<path d="M106.4 34.4l3.6 5.9l-3.6 5.9l-3.6 -5.9z" fill="#fff" fill-opacity="0.55" stroke="#1a1a1a" stroke-width="1.10" stroke-linejoin="miter"/>
<path d="M57.2 25.6l3.6 5.9l-3.6 5.9l-3.6 -5.9z" fill="#fff" fill-opacity="0.55" stroke="#1a1a1a" stroke-width="1.10" stroke-linejoin="miter"/>
<path d="M63.2 25.5l3.6 5.9l-3.6 5.9l-3.6 -5.9z" fill="#fff" fill-opacity="0.55" stroke="#1a1a1a" stroke-width="1.10" stroke-linejoin="miter"/>
<path d="M77.1 26.9l3.6 5.9l-3.6 5.9l-3.6 -5.9z" fill="#fff" fill-opacity="0.55" stroke="#1a1a1a" stroke-width="1.10" stroke-linejoin="miter"/>
<path d="M62.4 24.5l3.6 5.9l-3.6 5.9l-3.6 -5.9z" fill="#fff" fill-opacity="0.55" stroke="#1a1a1a" stroke-width="1.10" stroke-linejoin="miter"/>
<path d="M59.3 23.6l3.6 5.9l-3.6 5.9l-3.6 -5.9z" fill="#fff" fill-opacity="0.55" stroke="#1a1a1a" stroke-width="1.10" stroke-linejoin="miter"/>
<path d="M134.2 46.1l3.6 5.9l-3.6 5.9l-3.6 -5.9z" fill="#fff" fill-opacity="0.55" stroke="#1a1a1a" stroke-width="1.10" stroke-linejoin="miter"/>
<path d="M104.2 34.2l3.6 5.9l-3.6 5.9l-3.6 -5.9z" fill="#fff" fill-opacity="0.55" stroke="#1a1a1a" stroke-width="1.10" stroke-linejoin="miter"/>
<path d="M77.8 28.8l3.6 5.9l-3.6 5.9l-3.6 -5.9z" fill="#fff" fill-opacity="0.55" stroke="#1a1a1a" stroke-width="1.10" stroke-linejoin="miter"/>
<path d="M79.3 31.4l3.6 5.9l-3.6 5.9l-3.6 -5.9z" fill="#fff" fill-opacity="0.55" stroke="#1a1a1a" stroke-width="1.10" stroke-linejoin="miter"/>
<path d="M149.1 60.0l3.6 5.9l-3.6 5.9l-3.6 -5.9z" fill="#fff" fill-opacity="0.55" stroke="#1a1a1a" stroke-width="1.10" stroke-linejoin="miter"/>
<path d="M88.9 27.6l3.6 5.9l-3.6 5.9l-3.6 -5.9z" fill="#fff" fill-opacity="0.55" stroke="#1a1a1a" stroke-width="1.10" stroke-linejoin="miter"/>
<path d="M59.4 24.2l3.6 5.9l-3.6 5.9l-3.6 -5.9z" fill="#fff" fill-opacity="0.55" stroke="#1a1a1a" stroke-width="1.10" stroke-linejoin="miter"/>
<path d="M77.4 26.4l3.6 5.9l-3.6 5.9l-3.6 -5.9z" fill="#fff" fill-opacity="0.55" stroke="#1a1a1a" stroke-width="1.10" stroke-linejoin="miter"/>
<path d="M63.1 30.2l3.6 5.9l-3.6 5.9l-3.6 -5.9z" fill="#fff" fill-opacity="0.55" stroke="#1a1a1a" stroke-width="1.10" stroke-linejoin="miter"/>
<path d="M55.6 27.1l3.6 5.9l-3.6 5.9l-3.6 -5.9z" fill="#fff" fill-opacity="0.55" stroke="#1a1a1a" stroke-width="1.10" stroke-linejoin="miter"/>
<path d="M62.1 23.4l3.6 5.9l-3.6 5.9l-3.6 -5.9z" fill="#fff" fill-opacity="0.55" stroke="#1a1a1a" stroke-width="1.10" stroke-linejoin="miter"/>
<path d="M96.7 34.5l3.6 5.9l-3.6 5.9l-3.6 -5.9z" fill="#fff" fill-opacity="0.55" stroke="#1a1a1a" stroke-width="1.10" stroke-linejoin="miter"/>
<path d="M147.3 55.3l3.6 5.9l-3.6 5.9l-3.6 -5.9z" fill="#fff" fill-opacity="0.55" stroke="#1a1a1a" stroke-width="1.10" stroke-linejoin="miter"/>
<path d="M132.9 44.0l3.6 5.9l-3.6 5.9l-3.6 -5.9z" fill="#fff" fill-opacity="0.55" stroke="#1a1a1a" stroke-width="1.10" stroke-linejoin="miter"/>
<path d="M79.5 25.1l3.6 5.9l-3.6 5.9l-3.6 -5.9z" fill="#fff" fill-opacity="0.55" stroke="#1a1a1a" stroke-width="1.10" stroke-linejoin="miter"/>
<path d="M63.5 25.2l3.6 5.9l-3.6 5.9l-3.6 -5.9z" fill="#fff" fill-opacity="0.55" stroke="#1a1a1a" stroke-width="1.10" stroke-linejoin="miter"/>
<path d="M122.8 35.5l3.6 5.9l-3.6 5.9l-3.6 -5.9z" fill="#fff" fill-opacity="0.55" stroke="#1a1a1a" stroke-width="1.10" stroke-linejoin="miter"/>
<path d="M76.2 27.6l3.6 5.9l-3.6 5.9l-3.6 -5.9z" fill="#fff" fill-opacity="0.55" stroke="#1a1a1a" stroke-width="1.10" stroke-linejoin="miter"/>
<path d="M148.1 60.6l3.6 5.9l-3.6 5.9l-3.6 -5.9z" fill="#fff" fill-opacity="0.55" stroke="#1a1a1a" stroke-width="1.10" stroke-linejoin="miter"/>
<path d="M131.6 45.9l3.6 5.9l-3.6 5.9l-3.6 -5.9z" fill="#fff" fill-opacity="0.55" stroke="#1a1a1a" stroke-width="1.10" stroke-linejoin="miter"/>
<path d="M118.3 32.4l3.6 5.9l-3.6 5.9l-3.6 -5.9z" fill="#fff" fill-opacity="0.55" stroke="#1a1a1a" stroke-width="1.10" stroke-linejoin="miter"/>
<path d="M67.8 22.5l3.6 5.9l-3.6 5.9l-3.6 -5.9z" fill="#fff" fill-opacity="0.55" stroke="#1a1a1a" stroke-width="1.10" stroke-linejoin="miter"/>
<path d="M55.8 23.3l3.6 5.9l-3.6 5.9l-3.6 -5.9z" fill="#fff" fill-opacity="0.55" stroke="#1a1a1a" stroke-width="1.10" stroke-linejoin="miter"/>
<path d="M55.8 23.2l3.6 5.9l-3.6 5.9l-3.6 -5.9z" fill="#fff" fill-opacity="0.55" stroke="#1a1a1a" stroke-width="1.10" stroke-linejoin="miter"/>
<path d="M112.9 38.1l3.6 5.9l-3.6 5.9l-3.6 -5.9z" fill="#fff" fill-opacity="0.55" stroke="#1a1a1a" stroke-width="1.10" stroke-linejoin="miter"/>
<path d="M144.5 46.0l3.6 5.9l-3.6 5.9l-3.6 -5.9z" fill="#fff" fill-opacity="0.55" stroke="#1a1a1a" stroke-width="1.10" stroke-linejoin="miter"/>
<path d="M148.5 57.8l3.6 5.9l-3.6 5.9l-3.6 -5.9z" fill="#fff" fill-opacity="0.55" stroke="#1a1a1a" stroke-width="1.10" stroke-linejoin="miter"/>
<path d="M144.3 51.1l3.6 5.9l-3.6 5.9l-3.6 -5.9z" fill="#fff" fill-opacity="0.55" stroke="#1a1a1a" stroke-width="1.10" stroke-linejoin="miter"/>
<path d="M72.6 2.9l3.6 5.9l-3.6 5.9l-3.6 -5.9z" fill="#fff" fill-opacity="0.55" stroke="#1a1a1a" stroke-width="1.10" stroke-linejoin="miter"/>
<path d="M85.0 5.1l3.6 5.9l-3.6 5.9l-3.6 -5.9z" fill="#fff" fill-opacity="0.55" stroke="#1a1a1a" stroke-width="1.10" stroke-linejoin="miter"/>
<path d="M62.5 11.1l3.6 5.9l-3.6 5.9l-3.6 -5.9z" fill="#fff" fill-opacity="0.55" stroke="#1a1a1a" stroke-width="1.10" stroke-linejoin="miter"/>
<path d="M100.0 14.1l3.6 5.9l-3.6 5.9l-3.6 -5.9z" fill="#fff" fill-opacity="0.55" stroke="#1a1a1a" stroke-width="1.10" stroke-linejoin="miter"/>
<path d="M91.0 16.1l3.6 5.9l-3.6 5.9l-3.6 -5.9z" fill="#fff" fill-opacity="0.55" stroke="#1a1a1a" stroke-width="1.10" stroke-linejoin="miter"/>
<path d="M110.0 20.1l3.6 5.9l-3.6 5.9l-3.6 -5.9z" fill="#fff" fill-opacity="0.55" stroke="#1a1a1a" stroke-width="1.10" stroke-linejoin="miter"/>
<path d="M77.0 14.1l3.6 5.9l-3.6 5.9l-3.6 -5.9z" fill="#fff" fill-opacity="0.55" stroke="#1a1a1a" stroke-width="1.10" stroke-linejoin="miter"/>
<path d="M70.0 35.6l3.6 5.9l-3.6 5.9l-3.6 -5.9z" fill="#fff" fill-opacity="0.55" stroke="#1a1a1a" stroke-width="1.10" stroke-linejoin="miter"/>
<path d="M89.0 41.8l3.6 5.9l-3.6 5.9l-3.6 -5.9z" fill="#fff" fill-opacity="0.55" stroke="#1a1a1a" stroke-width="1.10" stroke-linejoin="miter"/>
<path d="M97.7 43.1l3.6 5.9l-3.6 5.9l-3.6 -5.9z" fill="#fff" fill-opacity="0.55" stroke="#1a1a1a" stroke-width="1.10" stroke-linejoin="miter"/>
<path d="M105.4 49.5l3.6 5.9l-3.6 5.9l-3.6 -5.9z" fill="#fff" fill-opacity="0.55" stroke="#1a1a1a" stroke-width="1.10" stroke-linejoin="miter"/>
<path d="M123.8 61.8l3.6 5.9l-3.6 5.9l-3.6 -5.9z" fill="#fff" fill-opacity="0.55" stroke="#1a1a1a" stroke-width="1.10" stroke-linejoin="miter"/>
<path d="M135.7 64.6l3.6 5.9l-3.6 5.9l-3.6 -5.9z" fill="#fff" fill-opacity="0.55" stroke="#1a1a1a" stroke-width="1.10" stroke-linejoin="miter"/>
<path d="M142.0 58.1l3.6 5.9l-3.6 5.9l-3.6 -5.9z" fill="#fff" fill-opacity="0.55" stroke="#1a1a1a" stroke-width="1.10" stroke-linejoin="miter"/>
<path d="M149.0 62.1l3.6 5.9l-3.6 5.9l-3.6 -5.9z" fill="#fff" fill-opacity="0.55" stroke="#1a1a1a" stroke-width="1.10" stroke-linejoin="miter"/>
<path d="M164.1 51.4l3.6 5.9l-3.6 5.9l-3.6 -5.9z" fill="#fff" fill-opacity="0.55" stroke="#1a1a1a" stroke-width="1.10" stroke-linejoin="miter"/>
<path d="M163.0 82.6l3.6 5.9l-3.6 5.9l-3.6 -5.9z" fill="#fff" fill-opacity="0.55" stroke="#1a1a1a" stroke-width="1.10" stroke-linejoin="miter"/>
<path d="M174.6 91.8l3.6 5.9l-3.6 5.9l-3.6 -5.9z" fill="#fff" fill-opacity="0.55" stroke="#1a1a1a" stroke-width="1.10" stroke-linejoin="miter"/>
<path d="M177.7 96.4l3.6 5.9l-3.6 5.9l-3.6 -5.9z" fill="#fff" fill-opacity="0.55" stroke="#1a1a1a" stroke-width="1.10" stroke-linejoin="miter"/>
<path d="M183.8 98.7l3.6 5.9l-3.6 5.9l-3.6 -5.9z" fill="#fff" fill-opacity="0.55" stroke="#1a1a1a" stroke-width="1.10" stroke-linejoin="miter"/>
<path d="M189.2 74.1l3.6 5.9l-3.6 5.9l-3.6 -5.9z" fill="#fff" fill-opacity="0.55" stroke="#1a1a1a" stroke-width="1.10" stroke-linejoin="miter"/>
<path d="M173.7 92.4l3.6 5.9l-3.6 5.9l-3.6 -5.9z" fill="#fff" fill-opacity="0.55" stroke="#1a1a1a" stroke-width="1.10" stroke-linejoin="miter"/>
<path d="M177.4 97.1l3.6 5.9l-3.6 5.9l-3.6 -5.9z" fill="#fff" fill-opacity="0.55" stroke="#1a1a1a" stroke-width="1.10" stroke-linejoin="miter"/>
<path d="M183.8 101.6l3.6 5.9l-3.6 5.9l-3.6 -5.9z" fill="#fff" fill-opacity="0.55" stroke="#1a1a1a" stroke-width="1.10" stroke-linejoin="miter"/>
<path d="M191.2 109.1l3.6 5.9l-3.6 5.9l-3.6 -5.9z" fill="#fff" fill-opacity="0.55" stroke="#1a1a1a" stroke-width="1.10" stroke-linejoin="miter"/>
<path d="M197.7 112.7l3.6 5.9l-3.6 5.9l-3.6 -5.9z" fill="#fff" fill-opacity="0.55" stroke="#1a1a1a" stroke-width="1.10" stroke-linejoin="miter"/>
<path d="M204.0 117.1l3.6 5.9l-3.6 5.9l-3.6 -5.9z" fill="#fff" fill-opacity="0.55" stroke="#1a1a1a" stroke-width="1.10" stroke-linejoin="miter"/>
<path d="M194.0 121.1l3.6 5.9l-3.6 5.9l-3.6 -5.9z" fill="#fff" fill-opacity="0.55" stroke="#1a1a1a" stroke-width="1.10" stroke-linejoin="miter"/>
<path d="M205.0 122.9l3.6 5.9l-3.6 5.9l-3.6 -5.9z" fill="#fff" fill-opacity="0.55" stroke="#1a1a1a" stroke-width="1.10" stroke-linejoin="miter"/>
<path d="M215.2 113.6l3.6 5.9l-3.6 5.9l-3.6 -5.9z" fill="#fff" fill-opacity="0.55" stroke="#1a1a1a" stroke-width="1.10" stroke-linejoin="miter"/>
<path d="M211.0 142.1l3.6 5.9l-3.6 5.9l-3.6 -5.9z" fill="#fff" fill-opacity="0.55" stroke="#1a1a1a" stroke-width="1.10" stroke-linejoin="miter"/>
<path d="M222.0 142.6l3.6 5.9l-3.6 5.9l-3.6 -5.9z" fill="#fff" fill-opacity="0.55" stroke="#1a1a1a" stroke-width="1.10" stroke-linejoin="miter"/>
<path d="M230.0 141.1l3.6 5.9l-3.6 5.9l-3.6 -5.9z" fill="#fff" fill-opacity="0.55" stroke="#1a1a1a" stroke-width="1.10" stroke-linejoin="miter"/>
<path d="M234.6 146.9l3.6 5.9l-3.6 5.9l-3.6 -5.9z" fill="#fff" fill-opacity="0.55" stroke="#1a1a1a" stroke-width="1.10" stroke-linejoin="miter"/>
<path d="M235.4 148.7l3.6 5.9l-3.6 5.9l-3.6 -5.9z" fill="#fff" fill-opacity="0.55" stroke="#1a1a1a" stroke-width="1.10" stroke-linejoin="miter"/>
<path d="M239.2 155.6l3.6 5.9l-3.6 5.9l-3.6 -5.9z" fill="#fff" fill-opacity="0.55" stroke="#1a1a1a" stroke-width="1.10" stroke-linejoin="miter"/>
<path d="M241.5 161.1l3.6 5.9l-3.6 5.9l-3.6 -5.9z" fill="#fff" fill-opacity="0.55" stroke="#1a1a1a" stroke-width="1.10" stroke-linejoin="miter"/>
<path d="M243.0 165.6l3.6 5.9l-3.6 5.9l-3.6 -5.9z" fill="#fff" fill-opacity="0.55" stroke="#1a1a1a" stroke-width="1.10" stroke-linejoin="miter"/>
<path d="M241.5 173.1l3.6 5.9l-3.6 5.9l-3.6 -5.9z" fill="#fff" fill-opacity="0.55" stroke="#1a1a1a" stroke-width="1.10" stroke-linejoin="miter"/>
<path d="M246.0 178.7l3.6 5.9l-3.6 5.9l-3.6 -5.9z" fill="#fff" fill-opacity="0.55" stroke="#1a1a1a" stroke-width="1.10" stroke-linejoin="miter"/>
<path d="M247.7 168.7l3.6 5.9l-3.6 5.9l-3.6 -5.9z" fill="#fff" fill-opacity="0.55" stroke="#1a1a1a" stroke-width="1.10" stroke-linejoin="miter"/>
<path d="M253.8 181.1l3.6 5.9l-3.6 5.9l-3.6 -5.9z" fill="#fff" fill-opacity="0.55" stroke="#1a1a1a" stroke-width="1.10" stroke-linejoin="miter"/>
<path d="M269.0 171.8l3.6 5.9l-3.6 5.9l-3.6 -5.9z" fill="#fff" fill-opacity="0.55" stroke="#1a1a1a" stroke-width="1.10" stroke-linejoin="miter"/>
<path d="M269.0 180.1l3.6 5.9l-3.6 5.9l-3.6 -5.9z" fill="#fff" fill-opacity="0.55" stroke="#1a1a1a" stroke-width="1.10" stroke-linejoin="miter"/>
<path d="M225.4 165.6l3.6 5.9l-3.6 5.9l-3.6 -5.9z" fill="#fff" fill-opacity="0.55" stroke="#1a1a1a" stroke-width="1.10" stroke-linejoin="miter"/>
<path d="M239.2 159.5l3.6 5.9l-3.6 5.9l-3.6 -5.9z" fill="#fff" fill-opacity="0.55" stroke="#1a1a1a" stroke-width="1.10" stroke-linejoin="miter"/>
<path d="M242.3 164.9l3.6 5.9l-3.6 5.9l-3.6 -5.9z" fill="#fff" fill-opacity="0.55" stroke="#1a1a1a" stroke-width="1.10" stroke-linejoin="miter"/>
<path d="M247.7 169.5l3.6 5.9l-3.6 5.9l-3.6 -5.9z" fill="#fff" fill-opacity="0.55" stroke="#1a1a1a" stroke-width="1.10" stroke-linejoin="miter"/>
<path d="M242.3 173.3l3.6 5.9l-3.6 5.9l-3.6 -5.9z" fill="#fff" fill-opacity="0.55" stroke="#1a1a1a" stroke-width="1.10" stroke-linejoin="miter"/>
<path d="M244.6 180.1l3.6 5.9l-3.6 5.9l-3.6 -5.9z" fill="#fff" fill-opacity="0.55" stroke="#1a1a1a" stroke-width="1.10" stroke-linejoin="miter"/>
<path d="M261.5 193.1l3.6 5.9l-3.6 5.9l-3.6 -5.9z" fill="#fff" fill-opacity="0.55" stroke="#1a1a1a" stroke-width="1.10" stroke-linejoin="miter"/>
<path d="M268.3 194.1l3.6 5.9l-3.6 5.9l-3.6 -5.9z" fill="#fff" fill-opacity="0.55" stroke="#1a1a1a" stroke-width="1.10" stroke-linejoin="miter"/>
<path d="M267.8 179.1l3.6 5.9l-3.6 5.9l-3.6 -5.9z" fill="#fff" fill-opacity="0.55" stroke="#1a1a1a" stroke-width="1.10" stroke-linejoin="miter"/>
<path d="M180.0 90.1l3.6 5.9l-3.6 5.9l-3.6 -5.9z" fill="#fff" fill-opacity="0.55" stroke="#1a1a1a" stroke-width="1.10" stroke-linejoin="miter"/>
<path d="M187.0 104.1l3.6 5.9l-3.6 5.9l-3.6 -5.9z" fill="#fff" fill-opacity="0.55" stroke="#1a1a1a" stroke-width="1.10" stroke-linejoin="miter"/>
<path d="M200.0 115.1l3.6 5.9l-3.6 5.9l-3.6 -5.9z" fill="#fff" fill-opacity="0.55" stroke="#1a1a1a" stroke-width="1.10" stroke-linejoin="miter"/>
<path d="M208.0 120.1l3.6 5.9l-3.6 5.9l-3.6 -5.9z" fill="#fff" fill-opacity="0.55" stroke="#1a1a1a" stroke-width="1.10" stroke-linejoin="miter"/>
<path d="M218.0 132.1l3.6 5.9l-3.6 5.9l-3.6 -5.9z" fill="#fff" fill-opacity="0.55" stroke="#1a1a1a" stroke-width="1.10" stroke-linejoin="miter"/>
<path d="M224.0 136.1l3.6 5.9l-3.6 5.9l-3.6 -5.9z" fill="#fff" fill-opacity="0.55" stroke="#1a1a1a" stroke-width="1.10" stroke-linejoin="miter"/>
<path d="M228.0 144.1l3.6 5.9l-3.6 5.9l-3.6 -5.9z" fill="#fff" fill-opacity="0.55" stroke="#1a1a1a" stroke-width="1.10" stroke-linejoin="miter"/>
<path d="M237.0 152.1l3.6 5.9l-3.6 5.9l-3.6 -5.9z" fill="#fff" fill-opacity="0.55" stroke="#1a1a1a" stroke-width="1.10" stroke-linejoin="miter"/>
<path d="M254.6 181.1l3.6 5.9l-3.6 5.9l-3.6 -5.9z" fill="#fff" fill-opacity="0.55" stroke="#1a1a1a" stroke-width="1.10" stroke-linejoin="miter"/>
<path d="M267.7 209.5l3.6 5.9l-3.6 5.9l-3.6 -5.9z" fill="#fff" fill-opacity="0.55" stroke="#1a1a1a" stroke-width="1.10" stroke-linejoin="miter"/>
<path d="M267.3 223.1l3.6 5.9l-3.6 5.9l-3.6 -5.9z" fill="#fff" fill-opacity="0.55" stroke="#1a1a1a" stroke-width="1.10" stroke-linejoin="miter"/>
<path d="M337.0 150.5l3.6 5.9l-3.6 5.9l-3.6 -5.9z" fill="#fff" fill-opacity="0.55" stroke="#1a1a1a" stroke-width="1.10" stroke-linejoin="miter"/>
<path d="M343.0 172.9l3.6 5.9l-3.6 5.9l-3.6 -5.9z" fill="#fff" fill-opacity="0.55" stroke="#1a1a1a" stroke-width="1.10" stroke-linejoin="miter"/>
<path d="M377.5 208.1l3.6 5.9l-3.6 5.9l-3.6 -5.9z" fill="#fff" fill-opacity="0.55" stroke="#1a1a1a" stroke-width="1.10" stroke-linejoin="miter"/>
<path d="M387.0 193.1l3.6 5.9l-3.6 5.9l-3.6 -5.9z" fill="#fff" fill-opacity="0.55" stroke="#1a1a1a" stroke-width="1.10" stroke-linejoin="miter"/>
<path d="M393.9 208.1l3.6 5.9l-3.6 5.9l-3.6 -5.9z" fill="#fff" fill-opacity="0.55" stroke="#1a1a1a" stroke-width="1.10" stroke-linejoin="miter"/>
<path d="M402.7 218.1l3.6 5.9l-3.6 5.9l-3.6 -5.9z" fill="#fff" fill-opacity="0.55" stroke="#1a1a1a" stroke-width="1.10" stroke-linejoin="miter"/>
<path d="M392.6 224.5l3.6 5.9l-3.6 5.9l-3.6 -5.9z" fill="#fff" fill-opacity="0.55" stroke="#1a1a1a" stroke-width="1.10" stroke-linejoin="miter"/>
<path d="M415.2 235.8l3.6 5.9l-3.6 5.9l-3.6 -5.9z" fill="#fff" fill-opacity="0.55" stroke="#1a1a1a" stroke-width="1.10" stroke-linejoin="miter"/>
<path d="M420.3 242.1l3.6 5.9l-3.6 5.9l-3.6 -5.9z" fill="#fff" fill-opacity="0.55" stroke="#1a1a1a" stroke-width="1.10" stroke-linejoin="miter"/>
<path d="M416.5 267.1l3.6 5.9l-3.6 5.9l-3.6 -5.9z" fill="#fff" fill-opacity="0.55" stroke="#1a1a1a" stroke-width="1.10" stroke-linejoin="miter"/>
<path d="M431.6 257.9l3.6 5.9l-3.6 5.9l-3.6 -5.9z" fill="#fff" fill-opacity="0.55" stroke="#1a1a1a" stroke-width="1.10" stroke-linejoin="miter"/>
<path d="M434.0 264.1l3.6 5.9l-3.6 5.9l-3.6 -5.9z" fill="#fff" fill-opacity="0.55" stroke="#1a1a1a" stroke-width="1.10" stroke-linejoin="miter"/>
<path d="M432.0 274.1l3.6 5.9l-3.6 5.9l-3.6 -5.9z" fill="#fff" fill-opacity="0.55" stroke="#1a1a1a" stroke-width="1.10" stroke-linejoin="miter"/>
<path d="M437.8 271.7l3.6 5.9l-3.6 5.9l-3.6 -5.9z" fill="#fff" fill-opacity="0.55" stroke="#1a1a1a" stroke-width="1.10" stroke-linejoin="miter"/>
<path d="M445.4 256.6l3.6 5.9l-3.6 5.9l-3.6 -5.9z" fill="#fff" fill-opacity="0.55" stroke="#1a1a1a" stroke-width="1.10" stroke-linejoin="miter"/>
<path d="M445.9 266.1l3.6 5.9l-3.6 5.9l-3.6 -5.9z" fill="#fff" fill-opacity="0.55" stroke="#1a1a1a" stroke-width="1.10" stroke-linejoin="miter"/>
<path d="M450.9 270.5l3.6 5.9l-3.6 5.9l-3.6 -5.9z" fill="#fff" fill-opacity="0.55" stroke="#1a1a1a" stroke-width="1.10" stroke-linejoin="miter"/>
<path d="M452.4 280.5l3.6 5.9l-3.6 5.9l-3.6 -5.9z" fill="#fff" fill-opacity="0.55" stroke="#1a1a1a" stroke-width="1.10" stroke-linejoin="miter"/>
<path d="M460.5 278.0l3.6 5.9l-3.6 5.9l-3.6 -5.9z" fill="#fff" fill-opacity="0.55" stroke="#1a1a1a" stroke-width="1.10" stroke-linejoin="miter"/>
<path d="M467.5 264.1l3.6 5.9l-3.6 5.9l-3.6 -5.9z" fill="#fff" fill-opacity="0.55" stroke="#1a1a1a" stroke-width="1.10" stroke-linejoin="miter"/>
<path d="M471.8 270.5l3.6 5.9l-3.6 5.9l-3.6 -5.9z" fill="#fff" fill-opacity="0.55" stroke="#1a1a1a" stroke-width="1.10" stroke-linejoin="miter"/>
<path d="M470.5 281.8l3.6 5.9l-3.6 5.9l-3.6 -5.9z" fill="#fff" fill-opacity="0.55" stroke="#1a1a1a" stroke-width="1.10" stroke-linejoin="miter"/>
<path d="M475.0 279.1l3.6 5.9l-3.6 5.9l-3.6 -5.9z" fill="#fff" fill-opacity="0.55" stroke="#1a1a1a" stroke-width="1.10" stroke-linejoin="miter"/>
<path d="M466.7 290.6l3.6 5.9l-3.6 5.9l-3.6 -5.9z" fill="#fff" fill-opacity="0.55" stroke="#1a1a1a" stroke-width="1.10" stroke-linejoin="miter"/>
<path d="M474.3 289.1l3.6 5.9l-3.6 5.9l-3.6 -5.9z" fill="#fff" fill-opacity="0.55" stroke="#1a1a1a" stroke-width="1.10" stroke-linejoin="miter"/>
<path d="M480.6 296.8l3.6 5.9l-3.6 5.9l-3.6 -5.9z" fill="#fff" fill-opacity="0.55" stroke="#1a1a1a" stroke-width="1.10" stroke-linejoin="miter"/>
<path d="M484.8 299.4l3.6 5.9l-3.6 5.9l-3.6 -5.9z" fill="#fff" fill-opacity="0.55" stroke="#1a1a1a" stroke-width="1.10" stroke-linejoin="miter"/>
<path d="M485.0 308.1l3.6 5.9l-3.6 5.9l-3.6 -5.9z" fill="#fff" fill-opacity="0.55" stroke="#1a1a1a" stroke-width="1.10" stroke-linejoin="miter"/>
<path d="M488.0 311.9l3.6 5.9l-3.6 5.9l-3.6 -5.9z" fill="#fff" fill-opacity="0.55" stroke="#1a1a1a" stroke-width="1.10" stroke-linejoin="miter"/>
<path d="M491.0 294.1l3.6 5.9l-3.6 5.9l-3.6 -5.9z" fill="#fff" fill-opacity="0.55" stroke="#1a1a1a" stroke-width="1.10" stroke-linejoin="miter"/>
<path d="M496.8 274.1l3.6 5.9l-3.6 5.9l-3.6 -5.9z" fill="#fff" fill-opacity="0.55" stroke="#1a1a1a" stroke-width="1.10" stroke-linejoin="miter"/>
<path d="M501.2 274.7l3.6 5.9l-3.6 5.9l-3.6 -5.9z" fill="#fff" fill-opacity="0.55" stroke="#1a1a1a" stroke-width="1.10" stroke-linejoin="miter"/>
<path d="M499.4 288.1l3.6 5.9l-3.6 5.9l-3.6 -5.9z" fill="#fff" fill-opacity="0.55" stroke="#1a1a1a" stroke-width="1.10" stroke-linejoin="miter"/>
<path d="M508.2 288.1l3.6 5.9l-3.6 5.9l-3.6 -5.9z" fill="#fff" fill-opacity="0.55" stroke="#1a1a1a" stroke-width="1.10" stroke-linejoin="miter"/>
<path d="M507.0 296.8l3.6 5.9l-3.6 5.9l-3.6 -5.9z" fill="#fff" fill-opacity="0.55" stroke="#1a1a1a" stroke-width="1.10" stroke-linejoin="miter"/>
<path d="M507.4 305.6l3.6 5.9l-3.6 5.9l-3.6 -5.9z" fill="#fff" fill-opacity="0.55" stroke="#1a1a1a" stroke-width="1.10" stroke-linejoin="miter"/>
<path d="M505.7 313.1l3.6 5.9l-3.6 5.9l-3.6 -5.9z" fill="#fff" fill-opacity="0.55" stroke="#1a1a1a" stroke-width="1.10" stroke-linejoin="miter"/>
<path d="M504.5 321.1l3.6 5.9l-3.6 5.9l-3.6 -5.9z" fill="#fff" fill-opacity="0.55" stroke="#1a1a1a" stroke-width="1.10" stroke-linejoin="miter"/>
<path d="M500.0 330.1l3.6 5.9l-3.6 5.9l-3.6 -5.9z" fill="#fff" fill-opacity="0.55" stroke="#1a1a1a" stroke-width="1.10" stroke-linejoin="miter"/>
<path d="M513.2 265.4l3.6 5.9l-3.6 5.9l-3.6 -5.9z" fill="#fff" fill-opacity="0.55" stroke="#1a1a1a" stroke-width="1.10" stroke-linejoin="miter"/>
<path d="M513.7 274.1l3.6 5.9l-3.6 5.9l-3.6 -5.9z" fill="#fff" fill-opacity="0.55" stroke="#1a1a1a" stroke-width="1.10" stroke-linejoin="miter"/>
<path d="M518.7 274.6l3.6 5.9l-3.6 5.9l-3.6 -5.9z" fill="#fff" fill-opacity="0.55" stroke="#1a1a1a" stroke-width="1.10" stroke-linejoin="miter"/>
<path d="M523.8 282.1l3.6 5.9l-3.6 5.9l-3.6 -5.9z" fill="#fff" fill-opacity="0.55" stroke="#1a1a1a" stroke-width="1.10" stroke-linejoin="miter"/>
<path d="M551.0 257.1l3.6 5.9l-3.6 5.9l-3.6 -5.9z" fill="#fff" fill-opacity="0.55" stroke="#1a1a1a" stroke-width="1.10" stroke-linejoin="miter"/>
<path d="M543.5 280.5l3.6 5.9l-3.6 5.9l-3.6 -5.9z" fill="#fff" fill-opacity="0.55" stroke="#1a1a1a" stroke-width="1.10" stroke-linejoin="miter"/>
<path d="M549.0 313.1l3.6 5.9l-3.6 5.9l-3.6 -5.9z" fill="#fff" fill-opacity="0.55" stroke="#1a1a1a" stroke-width="1.10" stroke-linejoin="miter"/>
<path d="M561.0 298.1l3.6 5.9l-3.6 5.9l-3.6 -5.9z" fill="#fff" fill-opacity="0.55" stroke="#1a1a1a" stroke-width="1.10" stroke-linejoin="miter"/>
<path d="M565.6 300.6l3.6 5.9l-3.6 5.9l-3.6 -5.9z" fill="#fff" fill-opacity="0.55" stroke="#1a1a1a" stroke-width="1.10" stroke-linejoin="miter"/>
<path d="M575.4 272.1l3.6 5.9l-3.6 5.9l-3.6 -5.9z" fill="#fff" fill-opacity="0.55" stroke="#1a1a1a" stroke-width="1.10" stroke-linejoin="miter"/>
<path d="M579.2 303.1l3.6 5.9l-3.6 5.9l-3.6 -5.9z" fill="#fff" fill-opacity="0.55" stroke="#1a1a1a" stroke-width="1.10" stroke-linejoin="miter"/>
<path d="M70.2 25.7l3.6 5.9l-3.6 5.9l-3.6 -5.9z" fill="#fff" fill-opacity="0.55" stroke="#3b7ff5" stroke-width="1.10" stroke-linejoin="miter"/>
<path d="M67.8 25.1l3.6 5.9l-3.6 5.9l-3.6 -5.9z" fill="#fff" fill-opacity="0.55" stroke="#3b7ff5" stroke-width="1.10" stroke-linejoin="miter"/>
<path d="M134.3 44.8l3.6 5.9l-3.6 5.9l-3.6 -5.9z" fill="#fff" fill-opacity="0.55" stroke="#3b7ff5" stroke-width="1.10" stroke-linejoin="miter"/>
<path d="M128.1 30.6l3.6 5.9l-3.6 5.9l-3.6 -5.9z" fill="#fff" fill-opacity="0.55" stroke="#3b7ff5" stroke-width="1.10" stroke-linejoin="miter"/>
<path d="M123.8 34.3l3.6 5.9l-3.6 5.9l-3.6 -5.9z" fill="#fff" fill-opacity="0.55" stroke="#3b7ff5" stroke-width="1.10" stroke-linejoin="miter"/>
<path d="M59.7 18.8l3.6 5.9l-3.6 5.9l-3.6 -5.9z" fill="#fff" fill-opacity="0.55" stroke="#3b7ff5" stroke-width="1.10" stroke-linejoin="miter"/>
<path d="M122.0 25.8l3.6 5.9l-3.6 5.9l-3.6 -5.9z" fill="#fff" fill-opacity="0.55" stroke="#3b7ff5" stroke-width="1.10" stroke-linejoin="miter"/>
<path d="M118.7 29.6l3.6 5.9l-3.6 5.9l-3.6 -5.9z" fill="#fff" fill-opacity="0.55" stroke="#3b7ff5" stroke-width="1.10" stroke-linejoin="miter"/>
<path d="M122.7 33.4l3.6 5.9l-3.6 5.9l-3.6 -5.9z" fill="#fff" fill-opacity="0.55" stroke="#3b7ff5" stroke-width="1.10" stroke-linejoin="miter"/>
<path d="M79.0 27.2l3.6 5.9l-3.6 5.9l-3.6 -5.9z" fill="#fff" fill-opacity="0.55" stroke="#3b7ff5" stroke-width="1.10" stroke-linejoin="miter"/>
<path d="M84.6 15.2l3.6 5.9l-3.6 5.9l-3.6 -5.9z" fill="#fff" fill-opacity="0.55" stroke="#3b7ff5" stroke-width="1.10" stroke-linejoin="miter"/>
<path d="M85.1 30.6l3.6 5.9l-3.6 5.9l-3.6 -5.9z" fill="#fff" fill-opacity="0.55" stroke="#3b7ff5" stroke-width="1.10" stroke-linejoin="miter"/>
<path d="M65.7 21.5l3.6 5.9l-3.6 5.9l-3.6 -5.9z" fill="#fff" fill-opacity="0.55" stroke="#3b7ff5" stroke-width="1.10" stroke-linejoin="miter"/>
<path d="M62.6 28.2l3.6 5.9l-3.6 5.9l-3.6 -5.9z" fill="#fff" fill-opacity="0.55" stroke="#3b7ff5" stroke-width="1.10" stroke-linejoin="miter"/>
<path d="M124.5 40.7l3.6 5.9l-3.6 5.9l-3.6 -5.9z" fill="#fff" fill-opacity="0.55" stroke="#3b7ff5" stroke-width="1.10" stroke-linejoin="miter"/>
<path d="M64.0 28.4l3.6 5.9l-3.6 5.9l-3.6 -5.9z" fill="#fff" fill-opacity="0.55" stroke="#3b7ff5" stroke-width="1.10" stroke-linejoin="miter"/>
<path d="M109.4 20.1l3.6 5.9l-3.6 5.9l-3.6 -5.9z" fill="#fff" fill-opacity="0.55" stroke="#3b7ff5" stroke-width="1.10" stroke-linejoin="miter"/>
<path d="M80.6 22.3l3.6 5.9l-3.6 5.9l-3.6 -5.9z" fill="#fff" fill-opacity="0.55" stroke="#3b7ff5" stroke-width="1.10" stroke-linejoin="miter"/>
<path d="M55.5 22.5l3.6 5.9l-3.6 5.9l-3.6 -5.9z" fill="#fff" fill-opacity="0.55" stroke="#3b7ff5" stroke-width="1.10" stroke-linejoin="miter"/>
<path d="M141.9 45.6l3.6 5.9l-3.6 5.9l-3.6 -5.9z" fill="#fff" fill-opacity="0.55" stroke="#3b7ff5" stroke-width="1.10" stroke-linejoin="miter"/>
<path d="M137.9 39.8l3.6 5.9l-3.6 5.9l-3.6 -5.9z" fill="#fff" fill-opacity="0.55" stroke="#3b7ff5" stroke-width="1.10" stroke-linejoin="miter"/>
<path d="M88.0 30.2l3.6 5.9l-3.6 5.9l-3.6 -5.9z" fill="#fff" fill-opacity="0.55" stroke="#3b7ff5" stroke-width="1.10" stroke-linejoin="miter"/>
<path d="M68.9 18.5l3.6 5.9l-3.6 5.9l-3.6 -5.9z" fill="#fff" fill-opacity="0.55" stroke="#3b7ff5" stroke-width="1.10" stroke-linejoin="miter"/>
<path d="M72.2 23.0l3.6 5.9l-3.6 5.9l-3.6 -5.9z" fill="#fff" fill-opacity="0.55" stroke="#3b7ff5" stroke-width="1.10" stroke-linejoin="miter"/>
<path d="M102.4 30.5l3.6 5.9l-3.6 5.9l-3.6 -5.9z" fill="#fff" fill-opacity="0.55" stroke="#3b7ff5" stroke-width="1.10" stroke-linejoin="miter"/>
<path d="M72.8 22.0l3.6 5.9l-3.6 5.9l-3.6 -5.9z" fill="#fff" fill-opacity="0.55" stroke="#3b7ff5" stroke-width="1.10" stroke-linejoin="miter"/>
<path d="M135.4 41.5l3.6 5.9l-3.6 5.9l-3.6 -5.9z" fill="#fff" fill-opacity="0.55" stroke="#3b7ff5" stroke-width="1.10" stroke-linejoin="miter"/>
<path d="M80.9 19.4l3.6 5.9l-3.6 5.9l-3.6 -5.9z" fill="#fff" fill-opacity="0.55" stroke="#3b7ff5" stroke-width="1.10" stroke-linejoin="miter"/>
<path d="M134.8 41.3l3.6 5.9l-3.6 5.9l-3.6 -5.9z" fill="#fff" fill-opacity="0.55" stroke="#3b7ff5" stroke-width="1.10" stroke-linejoin="miter"/>
<path d="M86.8 29.0l3.6 5.9l-3.6 5.9l-3.6 -5.9z" fill="#fff" fill-opacity="0.55" stroke="#3b7ff5" stroke-width="1.10" stroke-linejoin="miter"/>
<path d="M97.2 24.5l3.6 5.9l-3.6 5.9l-3.6 -5.9z" fill="#fff" fill-opacity="0.55" stroke="#3b7ff5" stroke-width="1.10" stroke-linejoin="miter"/>
<path d="M96.4 30.6l3.6 5.9l-3.6 5.9l-3.6 -5.9z" fill="#fff" fill-opacity="0.55" stroke="#3b7ff5" stroke-width="1.10" stroke-linejoin="miter"/>
<path d="M66.7 24.0l3.6 5.9l-3.6 5.9l-3.6 -5.9z" fill="#fff" fill-opacity="0.55" stroke="#3b7ff5" stroke-width="1.10" stroke-linejoin="miter"/>
<path d="M55.1 23.8l3.6 5.9l-3.6 5.9l-3.6 -5.9z" fill="#fff" fill-opacity="0.55" stroke="#3b7ff5" stroke-width="1.10" stroke-linejoin="miter"/>
<path d="M91.7 23.6l3.6 5.9l-3.6 5.9l-3.6 -5.9z" fill="#fff" fill-opacity="0.55" stroke="#3b7ff5" stroke-width="1.10" stroke-linejoin="miter"/>
<path d="M116.2 28.2l3.6 5.9l-3.6 5.9l-3.6 -5.9z" fill="#fff" fill-opacity="0.55" stroke="#3b7ff5" stroke-width="1.10" stroke-linejoin="miter"/>
<path d="M95.9 25.3l3.6 5.9l-3.6 5.9l-3.6 -5.9z" fill="#fff" fill-opacity="0.55" stroke="#3b7ff5" stroke-width="1.10" stroke-linejoin="miter"/>
<path d="M99.4 27.4l3.6 5.9l-3.6 5.9l-3.6 -5.9z" fill="#fff" fill-opacity="0.55" stroke="#3b7ff5" stroke-width="1.10" stroke-linejoin="miter"/>
<path d="M99.9 25.3l3.6 5.9l-3.6 5.9l-3.6 -5.9z" fill="#fff" fill-opacity="0.55" stroke="#3b7ff5" stroke-width="1.10" stroke-linejoin="miter"/>
<path d="M71.9 22.7l3.6 5.9l-3.6 5.9l-3.6 -5.9z" fill="#fff" fill-opacity="0.55" stroke="#3b7ff5" stroke-width="1.10" stroke-linejoin="miter"/>
<path d="M94.9 32.8l3.6 5.9l-3.6 5.9l-3.6 -5.9z" fill="#fff" fill-opacity="0.55" stroke="#3b7ff5" stroke-width="1.10" stroke-linejoin="miter"/>
<path d="M100.0 27.6l3.6 5.9l-3.6 5.9l-3.6 -5.9z" fill="#fff" fill-opacity="0.55" stroke="#3b7ff5" stroke-width="1.10" stroke-linejoin="miter"/>
<path d="M88.9 17.1l3.6 5.9l-3.6 5.9l-3.6 -5.9z" fill="#fff" fill-opacity="0.55" stroke="#3b7ff5" stroke-width="1.10" stroke-linejoin="miter"/>
<path d="M105.0 23.8l3.6 5.9l-3.6 5.9l-3.6 -5.9z" fill="#fff" fill-opacity="0.55" stroke="#3b7ff5" stroke-width="1.10" stroke-linejoin="miter"/>
<path d="M112.9 30.3l3.6 5.9l-3.6 5.9l-3.6 -5.9z" fill="#fff" fill-opacity="0.55" stroke="#3b7ff5" stroke-width="1.10" stroke-linejoin="miter"/>
<path d="M89.7 21.3l3.6 5.9l-3.6 5.9l-3.6 -5.9z" fill="#fff" fill-opacity="0.55" stroke="#3b7ff5" stroke-width="1.10" stroke-linejoin="miter"/>
<path d="M138.7 43.7l3.6 5.9l-3.6 5.9l-3.6 -5.9z" fill="#fff" fill-opacity="0.55" stroke="#3b7ff5" stroke-width="1.10" stroke-linejoin="miter"/>
<path d="M113.6 37.1l3.6 5.9l-3.6 5.9l-3.6 -5.9z" fill="#fff" fill-opacity="0.55" stroke="#3b7ff5" stroke-width="1.10" stroke-linejoin="miter"/>
<path d="M72.8 17.4l3.6 5.9l-3.6 5.9l-3.6 -5.9z" fill="#fff" fill-opacity="0.55" stroke="#3b7ff5" stroke-width="1.10" stroke-linejoin="miter"/>
<path d="M99.8 33.9l3.6 5.9l-3.6 5.9l-3.6 -5.9z" fill="#fff" fill-opacity="0.55" stroke="#3b7ff5" stroke-width="1.10" stroke-linejoin="miter"/>
<path d="M63.3 20.9l3.6 5.9l-3.6 5.9l-3.6 -5.9z" fill="#fff" fill-opacity="0.55" stroke="#3b7ff5" stroke-width="1.10" stroke-linejoin="miter"/>
<path d="M62.2 22.0l3.6 5.9l-3.6 5.9l-3.6 -5.9z" fill="#fff" fill-opacity="0.55" stroke="#3b7ff5" stroke-width="1.10" stroke-linejoin="miter"/>
<path d="M71.3 24.3l3.6 5.9l-3.6 5.9l-3.6 -5.9z" fill="#fff" fill-opacity="0.55" stroke="#3b7ff5" stroke-width="1.10" stroke-linejoin="miter"/>
<path d="M58.9 20.0l3.6 5.9l-3.6 5.9l-3.6 -5.9z" fill="#fff" fill-opacity="0.55" stroke="#3b7ff5" stroke-width="1.10" stroke-linejoin="miter"/>
<path d="M134.0 33.7l3.6 5.9l-3.6 5.9l-3.6 -5.9z" fill="#fff" fill-opacity="0.55" stroke="#3b7ff5" stroke-width="1.10" stroke-linejoin="miter"/>
<path d="M64.6 22.3l3.6 5.9l-3.6 5.9l-3.6 -5.9z" fill="#fff" fill-opacity="0.55" stroke="#3b7ff5" stroke-width="1.10" stroke-linejoin="miter"/>
<path d="M63.7 18.0l3.6 5.9l-3.6 5.9l-3.6 -5.9z" fill="#fff" fill-opacity="0.55" stroke="#3b7ff5" stroke-width="1.10" stroke-linejoin="miter"/>
<path d="M132.5 41.3l3.6 5.9l-3.6 5.9l-3.6 -5.9z" fill="#fff" fill-opacity="0.55" stroke="#3b7ff5" stroke-width="1.10" stroke-linejoin="miter"/>
<path d="M139.9 45.4l3.6 5.9l-3.6 5.9l-3.6 -5.9z" fill="#fff" fill-opacity="0.55" stroke="#3b7ff5" stroke-width="1.10" stroke-linejoin="miter"/>
<path d="M84.8 13.3l3.6 5.9l-3.6 5.9l-3.6 -5.9z" fill="#fff" fill-opacity="0.55" stroke="#3b7ff5" stroke-width="1.10" stroke-linejoin="miter"/>
<path d="M127.2 36.5l3.6 5.9l-3.6 5.9l-3.6 -5.9z" fill="#fff" fill-opacity="0.55" stroke="#3b7ff5" stroke-width="1.10" stroke-linejoin="miter"/>
<path d="M65.1 19.3l3.6 5.9l-3.6 5.9l-3.6 -5.9z" fill="#fff" fill-opacity="0.55" stroke="#3b7ff5" stroke-width="1.10" stroke-linejoin="miter"/>
<path d="M79.6 26.0l3.6 5.9l-3.6 5.9l-3.6 -5.9z" fill="#fff" fill-opacity="0.55" stroke="#3b7ff5" stroke-width="1.10" stroke-linejoin="miter"/>
<path d="M67.7 21.0l3.6 5.9l-3.6 5.9l-3.6 -5.9z" fill="#fff" fill-opacity="0.55" stroke="#3b7ff5" stroke-width="1.10" stroke-linejoin="miter"/>
<path d="M55.8 28.6l3.6 5.9l-3.6 5.9l-3.6 -5.9z" fill="#fff" fill-opacity="0.55" stroke="#3b7ff5" stroke-width="1.10" stroke-linejoin="miter"/>
<path d="M99.3 26.3l3.6 5.9l-3.6 5.9l-3.6 -5.9z" fill="#fff" fill-opacity="0.55" stroke="#3b7ff5" stroke-width="1.10" stroke-linejoin="miter"/>
<path d="M78.9 24.3l3.6 5.9l-3.6 5.9l-3.6 -5.9z" fill="#fff" fill-opacity="0.55" stroke="#3b7ff5" stroke-width="1.10" stroke-linejoin="miter"/>
<path d="M106.1 27.3l3.6 5.9l-3.6 5.9l-3.6 -5.9z" fill="#fff" fill-opacity="0.55" stroke="#3b7ff5" stroke-width="1.10" stroke-linejoin="miter"/>
<path d="M143.4 50.1l3.6 5.9l-3.6 5.9l-3.6 -5.9z" fill="#fff" fill-opacity="0.55" stroke="#3b7ff5" stroke-width="1.10" stroke-linejoin="miter"/>
<path d="M122.7 34.8l3.6 5.9l-3.6 5.9l-3.6 -5.9z" fill="#fff" fill-opacity="0.55" stroke="#3b7ff5" stroke-width="1.10" stroke-linejoin="miter"/>
<path d="M73.3 23.5l3.6 5.9l-3.6 5.9l-3.6 -5.9z" fill="#fff" fill-opacity="0.55" stroke="#3b7ff5" stroke-width="1.10" stroke-linejoin="miter"/>
<path d="M56.9 23.7l3.6 5.9l-3.6 5.9l-3.6 -5.9z" fill="#fff" fill-opacity="0.55" stroke="#3b7ff5" stroke-width="1.10" stroke-linejoin="miter"/>
<path d="M62.7 20.4l3.6 5.9l-3.6 5.9l-3.6 -5.9z" fill="#fff" fill-opacity="0.55" stroke="#3b7ff5" stroke-width="1.10" stroke-linejoin="miter"/>
<path d="M87.0 31.1l3.6 5.9l-3.6 5.9l-3.6 -5.9z" fill="#fff" fill-opacity="0.55" stroke="#3b7ff5" stroke-width="1.10" stroke-linejoin="miter"/>
<path d="M72.8 20.1l3.6 5.9l-3.6 5.9l-3.6 -5.9z" fill="#fff" fill-opacity="0.55" stroke="#3b7ff5" stroke-width="1.10" stroke-linejoin="miter"/>
<path d="M64.2 27.8l3.6 5.9l-3.6 5.9l-3.6 -5.9z" fill="#fff" fill-opacity="0.55" stroke="#3b7ff5" stroke-width="1.10" stroke-linejoin="miter"/>
<path d="M113.7 28.3l3.6 5.9l-3.6 5.9l-3.6 -5.9z" fill="#fff" fill-opacity="0.55" stroke="#3b7ff5" stroke-width="1.10" stroke-linejoin="miter"/>
<path d="M60.0 28.7l3.6 5.9l-3.6 5.9l-3.6 -5.9z" fill="#fff" fill-opacity="0.55" stroke="#3b7ff5" stroke-width="1.10" stroke-linejoin="miter"/>
<path d="M87.3 27.2l3.6 5.9l-3.6 5.9l-3.6 -5.9z" fill="#fff" fill-opacity="0.55" stroke="#3b7ff5" stroke-width="1.10" stroke-linejoin="miter"/>
<path d="M58.9 28.2l3.6 5.9l-3.6 5.9l-3.6 -5.9z" fill="#fff" fill-opacity="0.55" stroke="#3b7ff5" stroke-width="1.10" stroke-linejoin="miter"/>
<path d="M124.0 31.7l3.6 5.9l-3.6 5.9l-3.6 -5.9z" fill="#fff" fill-opacity="0.55" stroke="#3b7ff5" stroke-width="1.10" stroke-linejoin="miter"/>
<path d="M59.6 24.1l3.6 5.9l-3.6 5.9l-3.6 -5.9z" fill="#fff" fill-opacity="0.55" stroke="#3b7ff5" stroke-width="1.10" stroke-linejoin="miter"/>
<path d="M130.4 36.3l3.6 5.9l-3.6 5.9l-3.6 -5.9z" fill="#fff" fill-opacity="0.55" stroke="#3b7ff5" stroke-width="1.10" stroke-linejoin="miter"/>
<path d="M89.9 23.0l3.6 5.9l-3.6 5.9l-3.6 -5.9z" fill="#fff" fill-opacity="0.55" stroke="#3b7ff5" stroke-width="1.10" stroke-linejoin="miter"/>
<path d="M137.1 46.8l3.6 5.9l-3.6 5.9l-3.6 -5.9z" fill="#fff" fill-opacity="0.55" stroke="#3b7ff5" stroke-width="1.10" stroke-linejoin="miter"/>
<path d="M73.5 27.0l3.6 5.9l-3.6 5.9l-3.6 -5.9z" fill="#fff" fill-opacity="0.55" stroke="#3b7ff5" stroke-width="1.10" stroke-linejoin="miter"/>
<path d="M71.1 27.1l3.6 5.9l-3.6 5.9l-3.6 -5.9z" fill="#fff" fill-opacity="0.55" stroke="#3b7ff5" stroke-width="1.10" stroke-linejoin="miter"/>
<path d="M61.3 24.0l3.6 5.9l-3.6 5.9l-3.6 -5.9z" fill="#fff" fill-opacity="0.55" stroke="#3b7ff5" stroke-width="1.10" stroke-linejoin="miter"/>
<path d="M68.2 24.6l3.6 5.9l-3.6 5.9l-3.6 -5.9z" fill="#fff" fill-opacity="0.55" stroke="#3b7ff5" stroke-width="1.10" stroke-linejoin="miter"/>
<path d="M77.2 21.8l3.6 5.9l-3.6 5.9l-3.6 -5.9z" fill="#fff" fill-opacity="0.55" stroke="#3b7ff5" stroke-width="1.10" stroke-linejoin="miter"/>
<path d="M75.4 29.9l3.6 5.9l-3.6 5.9l-3.6 -5.9z" fill="#fff" fill-opacity="0.55" stroke="#3b7ff5" stroke-width="1.10" stroke-linejoin="miter"/>
<path d="M94.2 27.8l3.6 5.9l-3.6 5.9l-3.6 -5.9z" fill="#fff" fill-opacity="0.55" stroke="#3b7ff5" stroke-width="1.10" stroke-linejoin="miter"/>
<path d="M55.7 26.3l3.6 5.9l-3.6 5.9l-3.6 -5.9z" fill="#fff" fill-opacity="0.55" stroke="#3b7ff5" stroke-width="1.10" stroke-linejoin="miter"/>
<path d="M72.1 29.9l3.6 5.9l-3.6 5.9l-3.6 -5.9z" fill="#fff" fill-opacity="0.55" stroke="#3b7ff5" stroke-width="1.10" stroke-linejoin="miter"/>
<path d="M99.0 27.5l3.6 5.9l-3.6 5.9l-3.6 -5.9z" fill="#fff" fill-opacity="0.55" stroke="#3b7ff5" stroke-width="1.10" stroke-linejoin="miter"/>
<path d="M67.2 14.8l3.6 5.9l-3.6 5.9l-3.6 -5.9z" fill="#fff" fill-opacity="0.55" stroke="#3b7ff5" stroke-width="1.10" stroke-linejoin="miter"/>
<path d="M61.1 24.7l3.6 5.9l-3.6 5.9l-3.6 -5.9z" fill="#fff" fill-opacity="0.55" stroke="#3b7ff5" stroke-width="1.10" stroke-linejoin="miter"/>
<path d="M125.8 30.7l3.6 5.9l-3.6 5.9l-3.6 -5.9z" fill="#fff" fill-opacity="0.55" stroke="#3b7ff5" stroke-width="1.10" stroke-linejoin="miter"/>
<path d="M127.4 37.5l3.6 5.9l-3.6 5.9l-3.6 -5.9z" fill="#fff" fill-opacity="0.55" stroke="#3b7ff5" stroke-width="1.10" stroke-linejoin="miter"/>
<path d="M84.4 19.0l3.6 5.9l-3.6 5.9l-3.6 -5.9z" fill="#fff" fill-opacity="0.55" stroke="#3b7ff5" stroke-width="1.10" stroke-linejoin="miter"/>
<path d="M238.2 146.6l3.6 5.9l-3.6 5.9l-3.6 -5.9z" fill="#fff" fill-opacity="0.55" stroke="#3b7ff5" stroke-width="1.10" stroke-linejoin="miter"/>
<path d="M174.3 79.1l3.6 5.9l-3.6 5.9l-3.6 -5.9z" fill="#fff" fill-opacity="0.55" stroke="#3b7ff5" stroke-width="1.10" stroke-linejoin="miter"/>
<path d="M203.6 102.2l3.6 5.9l-3.6 5.9l-3.6 -5.9z" fill="#fff" fill-opacity="0.55" stroke="#3b7ff5" stroke-width="1.10" stroke-linejoin="miter"/>
<path d="M180.5 80.7l3.6 5.9l-3.6 5.9l-3.6 -5.9z" fill="#fff" fill-opacity="0.55" stroke="#3b7ff5" stroke-width="1.10" stroke-linejoin="miter"/>
<path d="M153.0 59.0l3.6 5.9l-3.6 5.9l-3.6 -5.9z" fill="#fff" fill-opacity="0.55" stroke="#3b7ff5" stroke-width="1.10" stroke-linejoin="miter"/>
<path d="M147.1 53.7l3.6 5.9l-3.6 5.9l-3.6 -5.9z" fill="#fff" fill-opacity="0.55" stroke="#3b7ff5" stroke-width="1.10" stroke-linejoin="miter"/>
<path d="M156.3 60.0l3.6 5.9l-3.6 5.9l-3.6 -5.9z" fill="#fff" fill-opacity="0.55" stroke="#3b7ff5" stroke-width="1.10" stroke-linejoin="miter"/>
<path d="M148.4 57.1l3.6 5.9l-3.6 5.9l-3.6 -5.9z" fill="#fff" fill-opacity="0.55" stroke="#3b7ff5" stroke-width="1.10" stroke-linejoin="miter"/>
<path d="M207.1 106.4l3.6 5.9l-3.6 5.9l-3.6 -5.9z" fill="#fff" fill-opacity="0.55" stroke="#3b7ff5" stroke-width="1.10" stroke-linejoin="miter"/>
<path d="M168.2 73.4l3.6 5.9l-3.6 5.9l-3.6 -5.9z" fill="#fff" fill-opacity="0.55" stroke="#3b7ff5" stroke-width="1.10" stroke-linejoin="miter"/>
<path d="M185.9 86.3l3.6 5.9l-3.6 5.9l-3.6 -5.9z" fill="#fff" fill-opacity="0.55" stroke="#3b7ff5" stroke-width="1.10" stroke-linejoin="miter"/>
<path d="M155.8 59.5l3.6 5.9l-3.6 5.9l-3.6 -5.9z" fill="#fff" fill-opacity="0.55" stroke="#3b7ff5" stroke-width="1.10" stroke-linejoin="miter"/>
<path d="M236.2 143.7l3.6 5.9l-3.6 5.9l-3.6 -5.9z" fill="#fff" fill-opacity="0.55" stroke="#3b7ff5" stroke-width="1.10" stroke-linejoin="miter"/>
<path d="M237.3 143.6l3.6 5.9l-3.6 5.9l-3.6 -5.9z" fill="#fff" fill-opacity="0.55" stroke="#3b7ff5" stroke-width="1.10" stroke-linejoin="miter"/>
<path d="M236.6 143.4l3.6 5.9l-3.6 5.9l-3.6 -5.9z" fill="#fff" fill-opacity="0.55" stroke="#3b7ff5" stroke-width="1.10" stroke-linejoin="miter"/>
<path d="M171.0 75.2l3.6 5.9l-3.6 5.9l-3.6 -5.9z" fill="#fff" fill-opacity="0.55" stroke="#3b7ff5" stroke-width="1.10" stroke-linejoin="miter"/>
<path d="M178.2 79.9l3.6 5.9l-3.6 5.9l-3.6 -5.9z" fill="#fff" fill-opacity="0.55" stroke="#3b7ff5" stroke-width="1.10" stroke-linejoin="miter"/>
<path d="M187.5 84.8l3.6 5.9l-3.6 5.9l-3.6 -5.9z" fill="#fff" fill-opacity="0.55" stroke="#3b7ff5" stroke-width="1.10" stroke-linejoin="miter"/>
<path d="M190.5 89.3l3.6 5.9l-3.6 5.9l-3.6 -5.9z" fill="#fff" fill-opacity="0.55" stroke="#3b7ff5" stroke-width="1.10" stroke-linejoin="miter"/>
<path d="M140.5 46.6l3.6 5.9l-3.6 5.9l-3.6 -5.9z" fill="#fff" fill-opacity="0.55" stroke="#3b7ff5" stroke-width="1.10" stroke-linejoin="miter"/>
<path d="M180.0 81.7l3.6 5.9l-3.6 5.9l-3.6 -5.9z" fill="#fff" fill-opacity="0.55" stroke="#3b7ff5" stroke-width="1.10" stroke-linejoin="miter"/>
<path d="M144.2 52.8l3.6 5.9l-3.6 5.9l-3.6 -5.9z" fill="#fff" fill-opacity="0.55" stroke="#3b7ff5" stroke-width="1.10" stroke-linejoin="miter"/>
<path d="M163.3 69.4l3.6 5.9l-3.6 5.9l-3.6 -5.9z" fill="#fff" fill-opacity="0.55" stroke="#3b7ff5" stroke-width="1.10" stroke-linejoin="miter"/>
<path d="M198.6 95.3l3.6 5.9l-3.6 5.9l-3.6 -5.9z" fill="#fff" fill-opacity="0.55" stroke="#3b7ff5" stroke-width="1.10" stroke-linejoin="miter"/>
<path d="M205.8 107.4l3.6 5.9l-3.6 5.9l-3.6 -5.9z" fill="#fff" fill-opacity="0.55" stroke="#3b7ff5" stroke-width="1.10" stroke-linejoin="miter"/>
<path d="M211.6 117.4l3.6 5.9l-3.6 5.9l-3.6 -5.9z" fill="#fff" fill-opacity="0.55" stroke="#3b7ff5" stroke-width="1.10" stroke-linejoin="miter"/>
<path d="M172.6 75.1l3.6 5.9l-3.6 5.9l-3.6 -5.9z" fill="#fff" fill-opacity="0.55" stroke="#3b7ff5" stroke-width="1.10" stroke-linejoin="miter"/>
<path d="M238.5 149.1l3.6 5.9l-3.6 5.9l-3.6 -5.9z" fill="#fff" fill-opacity="0.55" stroke="#3b7ff5" stroke-width="1.10" stroke-linejoin="miter"/>
<path d="M204.3 108.6l3.6 5.9l-3.6 5.9l-3.6 -5.9z" fill="#fff" fill-opacity="0.55" stroke="#3b7ff5" stroke-width="1.10" stroke-linejoin="miter"/>
<path d="M144.4 53.5l3.6 5.9l-3.6 5.9l-3.6 -5.9z" fill="#fff" fill-opacity="0.55" stroke="#3b7ff5" stroke-width="1.10" stroke-linejoin="miter"/>
<path d="M202.7 100.1l3.6 5.9l-3.6 5.9l-3.6 -5.9z" fill="#fff" fill-opacity="0.55" stroke="#3b7ff5" stroke-width="1.10" stroke-linejoin="miter"/>
<path d="M213.4 118.7l3.6 5.9l-3.6 5.9l-3.6 -5.9z" fill="#fff" fill-opacity="0.55" stroke="#3b7ff5" stroke-width="1.10" stroke-linejoin="miter"/>
<path d="M192.4 90.3l3.6 5.9l-3.6 5.9l-3.6 -5.9z" fill="#fff" fill-opacity="0.55" stroke="#3b7ff5" stroke-width="1.10" stroke-linejoin="miter"/>
<path d="M190.4 91.1l3.6 5.9l-3.6 5.9l-3.6 -5.9z" fill="#fff" fill-opacity="0.55" stroke="#3b7ff5" stroke-width="1.10" stroke-linejoin="miter"/>
<path d="M222.6 124.2l3.6 5.9l-3.6 5.9l-3.6 -5.9z" fill="#fff" fill-opacity="0.55" stroke="#3b7ff5" stroke-width="1.10" stroke-linejoin="miter"/>
<path d="M198.4 100.7l3.6 5.9l-3.6 5.9l-3.6 -5.9z" fill="#fff" fill-opacity="0.55" stroke="#3b7ff5" stroke-width="1.10" stroke-linejoin="miter"/>
<path d="M209.3 111.1l3.6 5.9l-3.6 5.9l-3.6 -5.9z" fill="#fff" fill-opacity="0.55" stroke="#3b7ff5" stroke-width="1.10" stroke-linejoin="miter"/>
<path d="M163.0 69.9l3.6 5.9l-3.6 5.9l-3.6 -5.9z" fill="#fff" fill-opacity="0.55" stroke="#3b7ff5" stroke-width="1.10" stroke-linejoin="miter"/>
<path d="M176.1 78.9l3.6 5.9l-3.6 5.9l-3.6 -5.9z" fill="#fff" fill-opacity="0.55" stroke="#3b7ff5" stroke-width="1.10" stroke-linejoin="miter"/>
<path d="M150.5 57.8l3.6 5.9l-3.6 5.9l-3.6 -5.9z" fill="#fff" fill-opacity="0.55" stroke="#3b7ff5" stroke-width="1.10" stroke-linejoin="miter"/>
<path d="M202.8 101.6l3.6 5.9l-3.6 5.9l-3.6 -5.9z" fill="#fff" fill-opacity="0.55" stroke="#3b7ff5" stroke-width="1.10" stroke-linejoin="miter"/>
<path d="M202.6 102.6l3.6 5.9l-3.6 5.9l-3.6 -5.9z" fill="#fff" fill-opacity="0.55" stroke="#3b7ff5" stroke-width="1.10" stroke-linejoin="miter"/>
<path d="M140.3 44.4l3.6 5.9l-3.6 5.9l-3.6 -5.9z" fill="#fff" fill-opacity="0.55" stroke="#3b7ff5" stroke-width="1.10" stroke-linejoin="miter"/>
<path d="M219.8 125.2l3.6 5.9l-3.6 5.9l-3.6 -5.9z" fill="#fff" fill-opacity="0.55" stroke="#3b7ff5" stroke-width="1.10" stroke-linejoin="miter"/>
<path d="M193.5 90.2l3.6 5.9l-3.6 5.9l-3.6 -5.9z" fill="#fff" fill-opacity="0.55" stroke="#3b7ff5" stroke-width="1.10" stroke-linejoin="miter"/>
<path d="M205.9 111.2l3.6 5.9l-3.6 5.9l-3.6 -5.9z" fill="#fff" fill-opacity="0.55" stroke="#3b7ff5" stroke-width="1.10" stroke-linejoin="miter"/>
<path d="M165.2 72.6l3.6 5.9l-3.6 5.9l-3.6 -5.9z" fill="#fff" fill-opacity="0.55" stroke="#3b7ff5" stroke-width="1.10" stroke-linejoin="miter"/>
<path d="M147.4 53.7l3.6 5.9l-3.6 5.9l-3.6 -5.9z" fill="#fff" fill-opacity="0.55" stroke="#3b7ff5" stroke-width="1.10" stroke-linejoin="miter"/>
<path d="M61.5 25.1l3.6 5.9l-3.6 5.9l-3.6 -5.9z" fill="#fff" fill-opacity="0.55" stroke="#3b7ff5" stroke-width="1.10" stroke-linejoin="miter"/>
<path d="M66.0 13.1l3.6 5.9l-3.6 5.9l-3.6 -5.9z" fill="#fff" fill-opacity="0.55" stroke="#3b7ff5" stroke-width="1.10" stroke-linejoin="miter"/>
<path d="M94.0 11.1l3.6 5.9l-3.6 5.9l-3.6 -5.9z" fill="#fff" fill-opacity="0.55" stroke="#3b7ff5" stroke-width="1.10" stroke-linejoin="miter"/>
<path d="M98.0 15.1l3.6 5.9l-3.6 5.9l-3.6 -5.9z" fill="#fff" fill-opacity="0.55" stroke="#3b7ff5" stroke-width="1.10" stroke-linejoin="miter"/>
<path d="M126.0 20.1l3.6 5.9l-3.6 5.9l-3.6 -5.9z" fill="#fff" fill-opacity="0.55" stroke="#3b7ff5" stroke-width="1.10" stroke-linejoin="miter"/>
<path d="M117.0 23.1l3.6 5.9l-3.6 5.9l-3.6 -5.9z" fill="#fff" fill-opacity="0.55" stroke="#3b7ff5" stroke-width="1.10" stroke-linejoin="miter"/>
<path d="M111.2 61.1l3.6 5.9l-3.6 5.9l-3.6 -5.9z" fill="#fff" fill-opacity="0.55" stroke="#3b7ff5" stroke-width="1.10" stroke-linejoin="miter"/>
<path d="M123.0 69.5l3.6 5.9l-3.6 5.9l-3.6 -5.9z" fill="#fff" fill-opacity="0.55" stroke="#3b7ff5" stroke-width="1.10" stroke-linejoin="miter"/>
<path d="M88.0 8.1l3.6 5.9l-3.6 5.9l-3.6 -5.9z" fill="#fff" fill-opacity="0.55" stroke="#3b7ff5" stroke-width="1.10" stroke-linejoin="miter"/>
<path d="M133.0 28.1l3.6 5.9l-3.6 5.9l-3.6 -5.9z" fill="#fff" fill-opacity="0.55" stroke="#3b7ff5" stroke-width="1.10" stroke-linejoin="miter"/>
<path d="M170.0 54.3l3.6 5.9l-3.6 5.9l-3.6 -5.9z" fill="#fff" fill-opacity="0.55" stroke="#3b7ff5" stroke-width="1.10" stroke-linejoin="miter"/>
<path d="M145.0 65.1l3.6 5.9l-3.6 5.9l-3.6 -5.9z" fill="#fff" fill-opacity="0.55" stroke="#3b7ff5" stroke-width="1.10" stroke-linejoin="miter"/>
<path d="M162.3 53.2l3.6 5.9l-3.6 5.9l-3.6 -5.9z" fill="#fff" fill-opacity="0.55" stroke="#3b7ff5" stroke-width="1.10" stroke-linejoin="miter"/>
<path d="M171.3 55.9l3.6 5.9l-3.6 5.9l-3.6 -5.9z" fill="#fff" fill-opacity="0.55" stroke="#3b7ff5" stroke-width="1.10" stroke-linejoin="miter"/>
<path d="M165.9 60.4l3.6 5.9l-3.6 5.9l-3.6 -5.9z" fill="#fff" fill-opacity="0.55" stroke="#3b7ff5" stroke-width="1.10" stroke-linejoin="miter"/>
<path d="M173.0 64.0l3.6 5.9l-3.6 5.9l-3.6 -5.9z" fill="#fff" fill-opacity="0.55" stroke="#3b7ff5" stroke-width="1.10" stroke-linejoin="miter"/>
<path d="M165.9 71.1l3.6 5.9l-3.6 5.9l-3.6 -5.9z" fill="#fff" fill-opacity="0.55" stroke="#3b7ff5" stroke-width="1.10" stroke-linejoin="miter"/>
<path d="M176.7 76.5l3.6 5.9l-3.6 5.9l-3.6 -5.9z" fill="#fff" fill-opacity="0.55" stroke="#3b7ff5" stroke-width="1.10" stroke-linejoin="miter"/>
<path d="M182.0 80.1l3.6 5.9l-3.6 5.9l-3.6 -5.9z" fill="#fff" fill-opacity="0.55" stroke="#3b7ff5" stroke-width="1.10" stroke-linejoin="miter"/>
<path d="M220.0 125.6l3.6 5.9l-3.6 5.9l-3.6 -5.9z" fill="#fff" fill-opacity="0.55" stroke="#3b7ff5" stroke-width="1.10" stroke-linejoin="miter"/>
<path d="M227.7 130.1l3.6 5.9l-3.6 5.9l-3.6 -5.9z" fill="#fff" fill-opacity="0.55" stroke="#3b7ff5" stroke-width="1.10" stroke-linejoin="miter"/>
<path d="M232.3 136.4l3.6 5.9l-3.6 5.9l-3.6 -5.9z" fill="#fff" fill-opacity="0.55" stroke="#3b7ff5" stroke-width="1.10" stroke-linejoin="miter"/>
<path d="M240.0 147.9l3.6 5.9l-3.6 5.9l-3.6 -5.9z" fill="#fff" fill-opacity="0.55" stroke="#3b7ff5" stroke-width="1.10" stroke-linejoin="miter"/>
<path d="M252.3 147.9l3.6 5.9l-3.6 5.9l-3.6 -5.9z" fill="#fff" fill-opacity="0.55" stroke="#3b7ff5" stroke-width="1.10" stroke-linejoin="miter"/>
<path d="M256.0 154.1l3.6 5.9l-3.6 5.9l-3.6 -5.9z" fill="#fff" fill-opacity="0.55" stroke="#3b7ff5" stroke-width="1.10" stroke-linejoin="miter"/>
<path d="M265.4 141.8l3.6 5.9l-3.6 5.9l-3.6 -5.9z" fill="#fff" fill-opacity="0.55" stroke="#3b7ff5" stroke-width="1.10" stroke-linejoin="miter"/>
<path d="M268.5 152.6l3.6 5.9l-3.6 5.9l-3.6 -5.9z" fill="#fff" fill-opacity="0.55" stroke="#3b7ff5" stroke-width="1.10" stroke-linejoin="miter"/>
<path d="M267.7 161.1l3.6 5.9l-3.6 5.9l-3.6 -5.9z" fill="#fff" fill-opacity="0.55" stroke="#3b7ff5" stroke-width="1.10" stroke-linejoin="miter"/>
<path d="M259.0 164.9l3.6 5.9l-3.6 5.9l-3.6 -5.9z" fill="#fff" fill-opacity="0.55" stroke="#3b7ff5" stroke-width="1.10" stroke-linejoin="miter"/>
<path d="M266.0 165.6l3.6 5.9l-3.6 5.9l-3.6 -5.9z" fill="#fff" fill-opacity="0.55" stroke="#3b7ff5" stroke-width="1.10" stroke-linejoin="miter"/>
<path d="M262.3 173.1l3.6 5.9l-3.6 5.9l-3.6 -5.9z" fill="#fff" fill-opacity="0.55" stroke="#3b7ff5" stroke-width="1.10" stroke-linejoin="miter"/>
<path d="M264.0 167.1l3.6 5.9l-3.6 5.9l-3.6 -5.9z" fill="#fff" fill-opacity="0.55" stroke="#3b7ff5" stroke-width="1.10" stroke-linejoin="miter"/>
<path d="M261.5 164.9l3.6 5.9l-3.6 5.9l-3.6 -5.9z" fill="#fff" fill-opacity="0.55" stroke="#3b7ff5" stroke-width="1.10" stroke-linejoin="miter"/>
<path d="M263.0 174.1l3.6 5.9l-3.6 5.9l-3.6 -5.9z" fill="#fff" fill-opacity="0.55" stroke="#3b7ff5" stroke-width="1.10" stroke-linejoin="miter"/>
<path d="M398.9 210.6l3.6 5.9l-3.6 5.9l-3.6 -5.9z" fill="#fff" fill-opacity="0.55" stroke="#3b7ff5" stroke-width="1.10" stroke-linejoin="miter"/>
<path d="M388.8 227.0l3.6 5.9l-3.6 5.9l-3.6 -5.9z" fill="#fff" fill-opacity="0.55" stroke="#3b7ff5" stroke-width="1.10" stroke-linejoin="miter"/>
<path d="M405.2 240.8l3.6 5.9l-3.6 5.9l-3.6 -5.9z" fill="#fff" fill-opacity="0.55" stroke="#3b7ff5" stroke-width="1.10" stroke-linejoin="miter"/>
<path d="M393.9 240.8l3.6 5.9l-3.6 5.9l-3.6 -5.9z" fill="#fff" fill-opacity="0.55" stroke="#3b7ff5" stroke-width="1.10" stroke-linejoin="miter"/>
<path d="M449.2 244.1l3.6 5.9l-3.6 5.9l-3.6 -5.9z" fill="#fff" fill-opacity="0.55" stroke="#3b7ff5" stroke-width="1.10" stroke-linejoin="miter"/>
<path d="M398.1 273.0l3.6 5.9l-3.6 5.9l-3.6 -5.9z" fill="#fff" fill-opacity="0.55" stroke="#3b7ff5" stroke-width="1.10" stroke-linejoin="miter"/>
<path d="M416.0 262.9l3.6 5.9l-3.6 5.9l-3.6 -5.9z" fill="#fff" fill-opacity="0.55" stroke="#3b7ff5" stroke-width="1.10" stroke-linejoin="miter"/>
<path d="M429.0 279.3l3.6 5.9l-3.6 5.9l-3.6 -5.9z" fill="#fff" fill-opacity="0.55" stroke="#3b7ff5" stroke-width="1.10" stroke-linejoin="miter"/>
<path d="M433.6 337.5l3.6 5.9l-3.6 5.9l-3.6 -5.9z" fill="#fff" fill-opacity="0.55" stroke="#3b7ff5" stroke-width="1.10" stroke-linejoin="miter"/>
<path d="M472.3 336.5l3.6 5.9l-3.6 5.9l-3.6 -5.9z" fill="#fff" fill-opacity="0.55" stroke="#3b7ff5" stroke-width="1.10" stroke-linejoin="miter"/>
<path d="M485.0 273.0l3.6 5.9l-3.6 5.9l-3.6 -5.9z" fill="#fff" fill-opacity="0.55" stroke="#3b7ff5" stroke-width="1.10" stroke-linejoin="miter"/>
<path d="M480.6 288.1l3.6 5.9l-3.6 5.9l-3.6 -5.9z" fill="#fff" fill-opacity="0.55" stroke="#3b7ff5" stroke-width="1.10" stroke-linejoin="miter"/>
<path d="M494.4 301.9l3.6 5.9l-3.6 5.9l-3.6 -5.9z" fill="#fff" fill-opacity="0.55" stroke="#3b7ff5" stroke-width="1.10" stroke-linejoin="miter"/>
<path d="M502.4 313.1l3.6 5.9l-3.6 5.9l-3.6 -5.9z" fill="#fff" fill-opacity="0.55" stroke="#3b7ff5" stroke-width="1.10" stroke-linejoin="miter"/>
<path d="M505.2 334.1l3.6 5.9l-3.6 5.9l-3.6 -5.9z" fill="#fff" fill-opacity="0.55" stroke="#3b7ff5" stroke-width="1.10" stroke-linejoin="miter"/>
<path d="M512.0 299.4l3.6 5.9l-3.6 5.9l-3.6 -5.9z" fill="#fff" fill-opacity="0.55" stroke="#3b7ff5" stroke-width="1.10" stroke-linejoin="miter"/>
<path d="M517.7 325.7l3.6 5.9l-3.6 5.9l-3.6 -5.9z" fill="#fff" fill-opacity="0.55" stroke="#3b7ff5" stroke-width="1.10" stroke-linejoin="miter"/>
<path d="M529.3 255.4l3.6 5.9l-3.6 5.9l-3.6 -5.9z" fill="#fff" fill-opacity="0.55" stroke="#3b7ff5" stroke-width="1.10" stroke-linejoin="miter"/>
<path d="M553.2 226.1l3.6 5.9l-3.6 5.9l-3.6 -5.9z" fill="#fff" fill-opacity="0.55" stroke="#3b7ff5" stroke-width="1.10" stroke-linejoin="miter"/>
<path d="M589.2 285.5l3.6 5.9l-3.6 5.9l-3.6 -5.9z" fill="#fff" fill-opacity="0.55" stroke="#3b7ff5" stroke-width="1.10" stroke-linejoin="miter"/>
<path d="M575.4 301.1l3.6 5.9l-3.6 5.9l-3.6 -5.9z" fill="#fff" fill-opacity="0.55" stroke="#3b7ff5" stroke-width="1.10" stroke-linejoin="miter"/>
<path d="M72.8 29.4l3.6 5.9l-3.6 5.9l-3.6 -5.9z" fill="#fff" fill-opacity="0.55" stroke="#cc0c0c" stroke-width="1.10" stroke-linejoin="miter"/>
<path d="M124.9 37.1l3.6 5.9l-3.6 5.9l-3.6 -5.9z" fill="#fff" fill-opacity="0.55" stroke="#cc0c0c" stroke-width="1.10" stroke-linejoin="miter"/>
<path d="M89.4 24.9l3.6 5.9l-3.6 5.9l-3.6 -5.9z" fill="#fff" fill-opacity="0.55" stroke="#cc0c0c" stroke-width="1.10" stroke-linejoin="miter"/>
<path d="M98.7 24.5l3.6 5.9l-3.6 5.9l-3.6 -5.9z" fill="#fff" fill-opacity="0.55" stroke="#cc0c0c" stroke-width="1.10" stroke-linejoin="miter"/>
<path d="M112.4 24.0l3.6 5.9l-3.6 5.9l-3.6 -5.9z" fill="#fff" fill-opacity="0.55" stroke="#cc0c0c" stroke-width="1.10" stroke-linejoin="miter"/>
<path d="M115.0 31.9l3.6 5.9l-3.6 5.9l-3.6 -5.9z" fill="#fff" fill-opacity="0.55" stroke="#cc0c0c" stroke-width="1.10" stroke-linejoin="miter"/>
<path d="M77.3 24.9l3.6 5.9l-3.6 5.9l-3.6 -5.9z" fill="#fff" fill-opacity="0.55" stroke="#cc0c0c" stroke-width="1.10" stroke-linejoin="miter"/>
<path d="M125.3 31.7l3.6 5.9l-3.6 5.9l-3.6 -5.9z" fill="#fff" fill-opacity="0.55" stroke="#cc0c0c" stroke-width="1.10" stroke-linejoin="miter"/>
<path d="M56.8 27.4l3.6 5.9l-3.6 5.9l-3.6 -5.9z" fill="#fff" fill-opacity="0.55" stroke="#cc0c0c" stroke-width="1.10" stroke-linejoin="miter"/>
<path d="M60.4 22.7l3.6 5.9l-3.6 5.9l-3.6 -5.9z" fill="#fff" fill-opacity="0.55" stroke="#cc0c0c" stroke-width="1.10" stroke-linejoin="miter"/>
<path d="M120.0 36.6l3.6 5.9l-3.6 5.9l-3.6 -5.9z" fill="#fff" fill-opacity="0.55" stroke="#cc0c0c" stroke-width="1.10" stroke-linejoin="miter"/>
<path d="M118.4 29.9l3.6 5.9l-3.6 5.9l-3.6 -5.9z" fill="#fff" fill-opacity="0.55" stroke="#cc0c0c" stroke-width="1.10" stroke-linejoin="miter"/>
<path d="M97.3 30.8l3.6 5.9l-3.6 5.9l-3.6 -5.9z" fill="#fff" fill-opacity="0.55" stroke="#cc0c0c" stroke-width="1.10" stroke-linejoin="miter"/>
<path d="M97.5 32.2l3.6 5.9l-3.6 5.9l-3.6 -5.9z" fill="#fff" fill-opacity="0.55" stroke="#cc0c0c" stroke-width="1.10" stroke-linejoin="miter"/>
<path d="M72.3 28.8l3.6 5.9l-3.6 5.9l-3.6 -5.9z" fill="#fff" fill-opacity="0.55" stroke="#cc0c0c" stroke-width="1.10" stroke-linejoin="miter"/>
<path d="M149.7 49.4l3.6 5.9l-3.6 5.9l-3.6 -5.9z" fill="#fff" fill-opacity="0.55" stroke="#cc0c0c" stroke-width="1.10" stroke-linejoin="miter"/>
<path d="M96.8 26.4l3.6 5.9l-3.6 5.9l-3.6 -5.9z" fill="#fff" fill-opacity="0.55" stroke="#cc0c0c" stroke-width="1.10" stroke-linejoin="miter"/>
<path d="M133.2 40.9l3.6 5.9l-3.6 5.9l-3.6 -5.9z" fill="#fff" fill-opacity="0.55" stroke="#cc0c0c" stroke-width="1.10" stroke-linejoin="miter"/>
<path d="M78.6 23.3l3.6 5.9l-3.6 5.9l-3.6 -5.9z" fill="#fff" fill-opacity="0.55" stroke="#cc0c0c" stroke-width="1.10" stroke-linejoin="miter"/>
<path d="M73.2 26.1l3.6 5.9l-3.6 5.9l-3.6 -5.9z" fill="#fff" fill-opacity="0.55" stroke="#cc0c0c" stroke-width="1.10" stroke-linejoin="miter"/>
<path d="M108.9 27.9l3.6 5.9l-3.6 5.9l-3.6 -5.9z" fill="#fff" fill-opacity="0.55" stroke="#cc0c0c" stroke-width="1.10" stroke-linejoin="miter"/>
<path d="M67.2 15.0l3.6 5.9l-3.6 5.9l-3.6 -5.9z" fill="#fff" fill-opacity="0.55" stroke="#cc0c0c" stroke-width="1.10" stroke-linejoin="miter"/>
<path d="M66.4 22.2l3.6 5.9l-3.6 5.9l-3.6 -5.9z" fill="#fff" fill-opacity="0.55" stroke="#cc0c0c" stroke-width="1.10" stroke-linejoin="miter"/>
<path d="M133.2 29.9l3.6 5.9l-3.6 5.9l-3.6 -5.9z" fill="#fff" fill-opacity="0.55" stroke="#cc0c0c" stroke-width="1.10" stroke-linejoin="miter"/>
<path d="M121.2 31.2l3.6 5.9l-3.6 5.9l-3.6 -5.9z" fill="#fff" fill-opacity="0.55" stroke="#cc0c0c" stroke-width="1.10" stroke-linejoin="miter"/>
<path d="M75.2 27.1l3.6 5.9l-3.6 5.9l-3.6 -5.9z" fill="#fff" fill-opacity="0.55" stroke="#cc0c0c" stroke-width="1.10" stroke-linejoin="miter"/>
<path d="M57.6 20.7l3.6 5.9l-3.6 5.9l-3.6 -5.9z" fill="#fff" fill-opacity="0.55" stroke="#cc0c0c" stroke-width="1.10" stroke-linejoin="miter"/>
<path d="M56.2 19.3l3.6 5.9l-3.6 5.9l-3.6 -5.9z" fill="#fff" fill-opacity="0.55" stroke="#cc0c0c" stroke-width="1.10" stroke-linejoin="miter"/>
<path d="M81.7 24.6l3.6 5.9l-3.6 5.9l-3.6 -5.9z" fill="#fff" fill-opacity="0.55" stroke="#cc0c0c" stroke-width="1.10" stroke-linejoin="miter"/>
<path d="M67.1 21.9l3.6 5.9l-3.6 5.9l-3.6 -5.9z" fill="#fff" fill-opacity="0.55" stroke="#cc0c0c" stroke-width="1.10" stroke-linejoin="miter"/>
<path d="M135.3 40.8l3.6 5.9l-3.6 5.9l-3.6 -5.9z" fill="#fff" fill-opacity="0.55" stroke="#cc0c0c" stroke-width="1.10" stroke-linejoin="miter"/>
<path d="M56.1 23.1l3.6 5.9l-3.6 5.9l-3.6 -5.9z" fill="#fff" fill-opacity="0.55" stroke="#cc0c0c" stroke-width="1.10" stroke-linejoin="miter"/>
<path d="M65.3 16.8l3.6 5.9l-3.6 5.9l-3.6 -5.9z" fill="#fff" fill-opacity="0.55" stroke="#cc0c0c" stroke-width="1.10" stroke-linejoin="miter"/>
<path d="M144.3 41.6l3.6 5.9l-3.6 5.9l-3.6 -5.9z" fill="#fff" fill-opacity="0.55" stroke="#cc0c0c" stroke-width="1.10" stroke-linejoin="miter"/>
<path d="M80.6 16.9l3.6 5.9l-3.6 5.9l-3.6 -5.9z" fill="#fff" fill-opacity="0.55" stroke="#cc0c0c" stroke-width="1.10" stroke-linejoin="miter"/>
<path d="M88.4 15.3l3.6 5.9l-3.6 5.9l-3.6 -5.9z" fill="#fff" fill-opacity="0.55" stroke="#cc0c0c" stroke-width="1.10" stroke-linejoin="miter"/>
<path d="M109.6 36.9l3.6 5.9l-3.6 5.9l-3.6 -5.9z" fill="#fff" fill-opacity="0.55" stroke="#cc0c0c" stroke-width="1.10" stroke-linejoin="miter"/>
<path d="M87.3 22.7l3.6 5.9l-3.6 5.9l-3.6 -5.9z" fill="#fff" fill-opacity="0.55" stroke="#cc0c0c" stroke-width="1.10" stroke-linejoin="miter"/>
<path d="M59.4 24.5l3.6 5.9l-3.6 5.9l-3.6 -5.9z" fill="#fff" fill-opacity="0.55" stroke="#cc0c0c" stroke-width="1.10" stroke-linejoin="miter"/>
<path d="M63.8 24.9l3.6 5.9l-3.6 5.9l-3.6 -5.9z" fill="#fff" fill-opacity="0.55" stroke="#cc0c0c" stroke-width="1.10" stroke-linejoin="miter"/>
<path d="M145.2 41.8l3.6 5.9l-3.6 5.9l-3.6 -5.9z" fill="#fff" fill-opacity="0.55" stroke="#cc0c0c" stroke-width="1.10" stroke-linejoin="miter"/>
<path d="M76.8 23.6l3.6 5.9l-3.6 5.9l-3.6 -5.9z" fill="#fff" fill-opacity="0.55" stroke="#cc0c0c" stroke-width="1.10" stroke-linejoin="miter"/>
<path d="M71.4 27.9l3.6 5.9l-3.6 5.9l-3.6 -5.9z" fill="#fff" fill-opacity="0.55" stroke="#cc0c0c" stroke-width="1.10" stroke-linejoin="miter"/>
<path d="M88.5 32.4l3.6 5.9l-3.6 5.9l-3.6 -5.9z" fill="#fff" fill-opacity="0.55" stroke="#cc0c0c" stroke-width="1.10" stroke-linejoin="miter"/>
<path d="M132.3 34.8l3.6 5.9l-3.6 5.9l-3.6 -5.9z" fill="#fff" fill-opacity="0.55" stroke="#cc0c0c" stroke-width="1.10" stroke-linejoin="miter"/>
<path d="M113.8 36.9l3.6 5.9l-3.6 5.9l-3.6 -5.9z" fill="#fff" fill-opacity="0.55" stroke="#cc0c0c" stroke-width="1.10" stroke-linejoin="miter"/>
<path d="M105.7 23.8l3.6 5.9l-3.6 5.9l-3.6 -5.9z" fill="#fff" fill-opacity="0.55" stroke="#cc0c0c" stroke-width="1.10" stroke-linejoin="miter"/>
<path d="M122.8 37.5l3.6 5.9l-3.6 5.9l-3.6 -5.9z" fill="#fff" fill-opacity="0.55" stroke="#cc0c0c" stroke-width="1.10" stroke-linejoin="miter"/>
<path d="M96.0 28.2l3.6 5.9l-3.6 5.9l-3.6 -5.9z" fill="#fff" fill-opacity="0.55" stroke="#cc0c0c" stroke-width="1.10" stroke-linejoin="miter"/>
<path d="M126.2 31.9l3.6 5.9l-3.6 5.9l-3.6 -5.9z" fill="#fff" fill-opacity="0.55" stroke="#cc0c0c" stroke-width="1.10" stroke-linejoin="miter"/>
<path d="M59.5 21.0l3.6 5.9l-3.6 5.9l-3.6 -5.9z" fill="#fff" fill-opacity="0.55" stroke="#cc0c0c" stroke-width="1.10" stroke-linejoin="miter"/>
<path d="M144.3 46.2l3.6 5.9l-3.6 5.9l-3.6 -5.9z" fill="#fff" fill-opacity="0.55" stroke="#cc0c0c" stroke-width="1.10" stroke-linejoin="miter"/>
<path d="M85.6 27.8l3.6 5.9l-3.6 5.9l-3.6 -5.9z" fill="#fff" fill-opacity="0.55" stroke="#cc0c0c" stroke-width="1.10" stroke-linejoin="miter"/>
<path d="M81.3 23.6l3.6 5.9l-3.6 5.9l-3.6 -5.9z" fill="#fff" fill-opacity="0.55" stroke="#cc0c0c" stroke-width="1.10" stroke-linejoin="miter"/>
<path d="M77.8 14.5l3.6 5.9l-3.6 5.9l-3.6 -5.9z" fill="#fff" fill-opacity="0.55" stroke="#cc0c0c" stroke-width="1.10" stroke-linejoin="miter"/>
<path d="M116.4 29.0l3.6 5.9l-3.6 5.9l-3.6 -5.9z" fill="#fff" fill-opacity="0.55" stroke="#cc0c0c" stroke-width="1.10" stroke-linejoin="miter"/>
<path d="M90.5 29.9l3.6 5.9l-3.6 5.9l-3.6 -5.9z" fill="#fff" fill-opacity="0.55" stroke="#cc0c0c" stroke-width="1.10" stroke-linejoin="miter"/>
<path d="M69.4 24.9l3.6 5.9l-3.6 5.9l-3.6 -5.9z" fill="#fff" fill-opacity="0.55" stroke="#cc0c0c" stroke-width="1.10" stroke-linejoin="miter"/>
<path d="M142.1 43.2l3.6 5.9l-3.6 5.9l-3.6 -5.9z" fill="#fff" fill-opacity="0.55" stroke="#cc0c0c" stroke-width="1.10" stroke-linejoin="miter"/>
<path d="M100.5 28.6l3.6 5.9l-3.6 5.9l-3.6 -5.9z" fill="#fff" fill-opacity="0.55" stroke="#cc0c0c" stroke-width="1.10" stroke-linejoin="miter"/>
<path d="M151.6 58.1l3.6 5.9l-3.6 5.9l-3.6 -5.9z" fill="#fff" fill-opacity="0.55" stroke="#cc0c0c" stroke-width="1.10" stroke-linejoin="miter"/>
<path d="M95.9 27.9l3.6 5.9l-3.6 5.9l-3.6 -5.9z" fill="#fff" fill-opacity="0.55" stroke="#cc0c0c" stroke-width="1.10" stroke-linejoin="miter"/>
<path d="M62.9 25.1l3.6 5.9l-3.6 5.9l-3.6 -5.9z" fill="#fff" fill-opacity="0.55" stroke="#cc0c0c" stroke-width="1.10" stroke-linejoin="miter"/>
<path d="M85.5 27.1l3.6 5.9l-3.6 5.9l-3.6 -5.9z" fill="#fff" fill-opacity="0.55" stroke="#cc0c0c" stroke-width="1.10" stroke-linejoin="miter"/>
<path d="M77.7 25.4l3.6 5.9l-3.6 5.9l-3.6 -5.9z" fill="#fff" fill-opacity="0.55" stroke="#cc0c0c" stroke-width="1.10" stroke-linejoin="miter"/>
<path d="M107.7 32.9l3.6 5.9l-3.6 5.9l-3.6 -5.9z" fill="#fff" fill-opacity="0.55" stroke="#cc0c0c" stroke-width="1.10" stroke-linejoin="miter"/>
<path d="M92.3 22.2l3.6 5.9l-3.6 5.9l-3.6 -5.9z" fill="#fff" fill-opacity="0.55" stroke="#cc0c0c" stroke-width="1.10" stroke-linejoin="miter"/>
<path d="M92.4 22.6l3.6 5.9l-3.6 5.9l-3.6 -5.9z" fill="#fff" fill-opacity="0.55" stroke="#cc0c0c" stroke-width="1.10" stroke-linejoin="miter"/>
<path d="M85.1 24.4l3.6 5.9l-3.6 5.9l-3.6 -5.9z" fill="#fff" fill-opacity="0.55" stroke="#cc0c0c" stroke-width="1.10" stroke-linejoin="miter"/>
<path d="M60.5 21.7l3.6 5.9l-3.6 5.9l-3.6 -5.9z" fill="#fff" fill-opacity="0.55" stroke="#cc0c0c" stroke-width="1.10" stroke-linejoin="miter"/>
<path d="M65.8 32.5l3.6 5.9l-3.6 5.9l-3.6 -5.9z" fill="#fff" fill-opacity="0.55" stroke="#cc0c0c" stroke-width="1.10" stroke-linejoin="miter"/>
<path d="M101.1 22.5l3.6 5.9l-3.6 5.9l-3.6 -5.9z" fill="#fff" fill-opacity="0.55" stroke="#cc0c0c" stroke-width="1.10" stroke-linejoin="miter"/>
<path d="M73.8 18.8l3.6 5.9l-3.6 5.9l-3.6 -5.9z" fill="#fff" fill-opacity="0.55" stroke="#cc0c0c" stroke-width="1.10" stroke-linejoin="miter"/>
<path d="M78.8 24.1l3.6 5.9l-3.6 5.9l-3.6 -5.9z" fill="#fff" fill-opacity="0.55" stroke="#cc0c0c" stroke-width="1.10" stroke-linejoin="miter"/>
<path d="M95.5 30.0l3.6 5.9l-3.6 5.9l-3.6 -5.9z" fill="#fff" fill-opacity="0.55" stroke="#cc0c0c" stroke-width="1.10" stroke-linejoin="miter"/>
<path d="M147.1 50.4l3.6 5.9l-3.6 5.9l-3.6 -5.9z" fill="#fff" fill-opacity="0.55" stroke="#cc0c0c" stroke-width="1.10" stroke-linejoin="miter"/>
<path d="M57.4 17.4l3.6 5.9l-3.6 5.9l-3.6 -5.9z" fill="#fff" fill-opacity="0.55" stroke="#cc0c0c" stroke-width="1.10" stroke-linejoin="miter"/>
<path d="M58.2 21.3l3.6 5.9l-3.6 5.9l-3.6 -5.9z" fill="#fff" fill-opacity="0.55" stroke="#cc0c0c" stroke-width="1.10" stroke-linejoin="miter"/>
<path d="M98.2 19.6l3.6 5.9l-3.6 5.9l-3.6 -5.9z" fill="#fff" fill-opacity="0.55" stroke="#cc0c0c" stroke-width="1.10" stroke-linejoin="miter"/>
<path d="M109.4 32.3l3.6 5.9l-3.6 5.9l-3.6 -5.9z" fill="#fff" fill-opacity="0.55" stroke="#cc0c0c" stroke-width="1.10" stroke-linejoin="miter"/>
<path d="M144.3 43.4l3.6 5.9l-3.6 5.9l-3.6 -5.9z" fill="#fff" fill-opacity="0.55" stroke="#cc0c0c" stroke-width="1.10" stroke-linejoin="miter"/>
<path d="M133.8 43.2l3.6 5.9l-3.6 5.9l-3.6 -5.9z" fill="#fff" fill-opacity="0.55" stroke="#cc0c0c" stroke-width="1.10" stroke-linejoin="miter"/>
<path d="M76.8 16.6l3.6 5.9l-3.6 5.9l-3.6 -5.9z" fill="#fff" fill-opacity="0.55" stroke="#cc0c0c" stroke-width="1.10" stroke-linejoin="miter"/>
<path d="M64.4 25.9l3.6 5.9l-3.6 5.9l-3.6 -5.9z" fill="#fff" fill-opacity="0.55" stroke="#cc0c0c" stroke-width="1.10" stroke-linejoin="miter"/>
<path d="M119.0 34.6l3.6 5.9l-3.6 5.9l-3.6 -5.9z" fill="#fff" fill-opacity="0.55" stroke="#cc0c0c" stroke-width="1.10" stroke-linejoin="miter"/>
<path d="M145.8 44.0l3.6 5.9l-3.6 5.9l-3.6 -5.9z" fill="#fff" fill-opacity="0.55" stroke="#cc0c0c" stroke-width="1.10" stroke-linejoin="miter"/>
<path d="M127.5 29.4l3.6 5.9l-3.6 5.9l-3.6 -5.9z" fill="#fff" fill-opacity="0.55" stroke="#cc0c0c" stroke-width="1.10" stroke-linejoin="miter"/>
<path d="M96.6 25.6l3.6 5.9l-3.6 5.9l-3.6 -5.9z" fill="#fff" fill-opacity="0.55" stroke="#cc0c0c" stroke-width="1.10" stroke-linejoin="miter"/>
<path d="M129.3 34.9l3.6 5.9l-3.6 5.9l-3.6 -5.9z" fill="#fff" fill-opacity="0.55" stroke="#cc0c0c" stroke-width="1.10" stroke-linejoin="miter"/>
<path d="M75.3 28.3l3.6 5.9l-3.6 5.9l-3.6 -5.9z" fill="#fff" fill-opacity="0.55" stroke="#cc0c0c" stroke-width="1.10" stroke-linejoin="miter"/>
<path d="M81.9 22.0l3.6 5.9l-3.6 5.9l-3.6 -5.9z" fill="#fff" fill-opacity="0.55" stroke="#cc0c0c" stroke-width="1.10" stroke-linejoin="miter"/>
<path d="M66.0 23.5l3.6 5.9l-3.6 5.9l-3.6 -5.9z" fill="#fff" fill-opacity="0.55" stroke="#cc0c0c" stroke-width="1.10" stroke-linejoin="miter"/>
<path d="M120.7 36.5l3.6 5.9l-3.6 5.9l-3.6 -5.9z" fill="#fff" fill-opacity="0.55" stroke="#cc0c0c" stroke-width="1.10" stroke-linejoin="miter"/>
<path d="M64.6 27.3l3.6 5.9l-3.6 5.9l-3.6 -5.9z" fill="#fff" fill-opacity="0.55" stroke="#cc0c0c" stroke-width="1.10" stroke-linejoin="miter"/>
<path d="M109.0 30.6l3.6 5.9l-3.6 5.9l-3.6 -5.9z" fill="#fff" fill-opacity="0.55" stroke="#cc0c0c" stroke-width="1.10" stroke-linejoin="miter"/>
<path d="M89.9 26.4l3.6 5.9l-3.6 5.9l-3.6 -5.9z" fill="#fff" fill-opacity="0.55" stroke="#cc0c0c" stroke-width="1.10" stroke-linejoin="miter"/>
<path d="M56.6 27.8l3.6 5.9l-3.6 5.9l-3.6 -5.9z" fill="#fff" fill-opacity="0.55" stroke="#cc0c0c" stroke-width="1.10" stroke-linejoin="miter"/>
<path d="M81.7 15.8l3.6 5.9l-3.6 5.9l-3.6 -5.9z" fill="#fff" fill-opacity="0.55" stroke="#cc0c0c" stroke-width="1.10" stroke-linejoin="miter"/>
<path d="M115.2 32.3l3.6 5.9l-3.6 5.9l-3.6 -5.9z" fill="#fff" fill-opacity="0.55" stroke="#cc0c0c" stroke-width="1.10" stroke-linejoin="miter"/>
<path d="M139.8 37.6l3.6 5.9l-3.6 5.9l-3.6 -5.9z" fill="#fff" fill-opacity="0.55" stroke="#cc0c0c" stroke-width="1.10" stroke-linejoin="miter"/>
<path d="M76.6 24.4l3.6 5.9l-3.6 5.9l-3.6 -5.9z" fill="#fff" fill-opacity="0.55" stroke="#cc0c0c" stroke-width="1.10" stroke-linejoin="miter"/>
<path d="M147.8 46.1l3.6 5.9l-3.6 5.9l-3.6 -5.9z" fill="#fff" fill-opacity="0.55" stroke="#cc0c0c" stroke-width="1.10" stroke-linejoin="miter"/>
<path d="M57.4 20.3l3.6 5.9l-3.6 5.9l-3.6 -5.9z" fill="#fff" fill-opacity="0.55" stroke="#cc0c0c" stroke-width="1.10" stroke-linejoin="miter"/>
<path d="M100.6 25.5l3.6 5.9l-3.6 5.9l-3.6 -5.9z" fill="#fff" fill-opacity="0.55" stroke="#cc0c0c" stroke-width="1.10" stroke-linejoin="miter"/>
<path d="M77.6 20.7l3.6 5.9l-3.6 5.9l-3.6 -5.9z" fill="#fff" fill-opacity="0.55" stroke="#cc0c0c" stroke-width="1.10" stroke-linejoin="miter"/>
<path d="M117.5 33.0l3.6 5.9l-3.6 5.9l-3.6 -5.9z" fill="#fff" fill-opacity="0.55" stroke="#cc0c0c" stroke-width="1.10" stroke-linejoin="miter"/>
<path d="M58.3 22.1l3.6 5.9l-3.6 5.9l-3.6 -5.9z" fill="#fff" fill-opacity="0.55" stroke="#cc0c0c" stroke-width="1.10" stroke-linejoin="miter"/>
<path d="M85.1 20.2l3.6 5.9l-3.6 5.9l-3.6 -5.9z" fill="#fff" fill-opacity="0.55" stroke="#cc0c0c" stroke-width="1.10" stroke-linejoin="miter"/>
<path d="M72.2 26.3l3.6 5.9l-3.6 5.9l-3.6 -5.9z" fill="#fff" fill-opacity="0.55" stroke="#cc0c0c" stroke-width="1.10" stroke-linejoin="miter"/>
<path d="M130.8 35.7l3.6 5.9l-3.6 5.9l-3.6 -5.9z" fill="#fff" fill-opacity="0.55" stroke="#cc0c0c" stroke-width="1.10" stroke-linejoin="miter"/>
<path d="M72.8 19.7l3.6 5.9l-3.6 5.9l-3.6 -5.9z" fill="#fff" fill-opacity="0.55" stroke="#cc0c0c" stroke-width="1.10" stroke-linejoin="miter"/>
<path d="M148.8 45.5l3.6 5.9l-3.6 5.9l-3.6 -5.9z" fill="#fff" fill-opacity="0.55" stroke="#cc0c0c" stroke-width="1.10" stroke-linejoin="miter"/>
<path d="M75.1 29.9l3.6 5.9l-3.6 5.9l-3.6 -5.9z" fill="#fff" fill-opacity="0.55" stroke="#cc0c0c" stroke-width="1.10" stroke-linejoin="miter"/>
<path d="M74.3 24.1l3.6 5.9l-3.6 5.9l-3.6 -5.9z" fill="#fff" fill-opacity="0.55" stroke="#cc0c0c" stroke-width="1.10" stroke-linejoin="miter"/>
<path d="M146.9 43.1l3.6 5.9l-3.6 5.9l-3.6 -5.9z" fill="#fff" fill-opacity="0.55" stroke="#cc0c0c" stroke-width="1.10" stroke-linejoin="miter"/>
<path d="M100.4 28.1l3.6 5.9l-3.6 5.9l-3.6 -5.9z" fill="#fff" fill-opacity="0.55" stroke="#cc0c0c" stroke-width="1.10" stroke-linejoin="miter"/>
<path d="M92.7 28.3l3.6 5.9l-3.6 5.9l-3.6 -5.9z" fill="#fff" fill-opacity="0.55" stroke="#cc0c0c" stroke-width="1.10" stroke-linejoin="miter"/>
<path d="M117.3 32.5l3.6 5.9l-3.6 5.9l-3.6 -5.9z" fill="#fff" fill-opacity="0.55" stroke="#cc0c0c" stroke-width="1.10" stroke-linejoin="miter"/>
<path d="M90.4 25.0l3.6 5.9l-3.6 5.9l-3.6 -5.9z" fill="#fff" fill-opacity="0.55" stroke="#cc0c0c" stroke-width="1.10" stroke-linejoin="miter"/>
<path d="M73.5 25.7l3.6 5.9l-3.6 5.9l-3.6 -5.9z" fill="#fff" fill-opacity="0.55" stroke="#cc0c0c" stroke-width="1.10" stroke-linejoin="miter"/>
<path d="M59.7 22.9l3.6 5.9l-3.6 5.9l-3.6 -5.9z" fill="#fff" fill-opacity="0.55" stroke="#cc0c0c" stroke-width="1.10" stroke-linejoin="miter"/>
<path d="M60.4 17.4l3.6 5.9l-3.6 5.9l-3.6 -5.9z" fill="#fff" fill-opacity="0.55" stroke="#cc0c0c" stroke-width="1.10" stroke-linejoin="miter"/>
<path d="M139.8 44.8l3.6 5.9l-3.6 5.9l-3.6 -5.9z" fill="#fff" fill-opacity="0.55" stroke="#cc0c0c" stroke-width="1.10" stroke-linejoin="miter"/>
<path d="M124.2 40.8l3.6 5.9l-3.6 5.9l-3.6 -5.9z" fill="#fff" fill-opacity="0.55" stroke="#cc0c0c" stroke-width="1.10" stroke-linejoin="miter"/>
<path d="M84.3 24.6l3.6 5.9l-3.6 5.9l-3.6 -5.9z" fill="#fff" fill-opacity="0.55" stroke="#cc0c0c" stroke-width="1.10" stroke-linejoin="miter"/>
<path d="M71.0 29.1l3.6 5.9l-3.6 5.9l-3.6 -5.9z" fill="#fff" fill-opacity="0.55" stroke="#cc0c0c" stroke-width="1.10" stroke-linejoin="miter"/>
<path d="M58.2 20.9l3.6 5.9l-3.6 5.9l-3.6 -5.9z" fill="#fff" fill-opacity="0.55" stroke="#cc0c0c" stroke-width="1.10" stroke-linejoin="miter"/>
<path d="M117.2 28.2l3.6 5.9l-3.6 5.9l-3.6 -5.9z" fill="#fff" fill-opacity="0.55" stroke="#cc0c0c" stroke-width="1.10" stroke-linejoin="miter"/>
<path d="M84.5 27.1l3.6 5.9l-3.6 5.9l-3.6 -5.9z" fill="#fff" fill-opacity="0.55" stroke="#cc0c0c" stroke-width="1.10" stroke-linejoin="miter"/>
<path d="M69.6 26.5l3.6 5.9l-3.6 5.9l-3.6 -5.9z" fill="#fff" fill-opacity="0.55" stroke="#cc0c0c" stroke-width="1.10" stroke-linejoin="miter"/>
<path d="M86.4 25.1l3.6 5.9l-3.6 5.9l-3.6 -5.9z" fill="#fff" fill-opacity="0.55" stroke="#cc0c0c" stroke-width="1.10" stroke-linejoin="miter"/>
<path d="M147.3 52.9l3.6 5.9l-3.6 5.9l-3.6 -5.9z" fill="#fff" fill-opacity="0.55" stroke="#cc0c0c" stroke-width="1.10" stroke-linejoin="miter"/>
<path d="M73.0 30.1l3.6 5.9l-3.6 5.9l-3.6 -5.9z" fill="#fff" fill-opacity="0.55" stroke="#cc0c0c" stroke-width="1.10" stroke-linejoin="miter"/>
<path d="M86.9 28.0l3.6 5.9l-3.6 5.9l-3.6 -5.9z" fill="#fff" fill-opacity="0.55" stroke="#cc0c0c" stroke-width="1.10" stroke-linejoin="miter"/>
<path d="M94.2 20.4l3.6 5.9l-3.6 5.9l-3.6 -5.9z" fill="#fff" fill-opacity="0.55" stroke="#cc0c0c" stroke-width="1.10" stroke-linejoin="miter"/>
<path d="M59.5 19.9l3.6 5.9l-3.6 5.9l-3.6 -5.9z" fill="#fff" fill-opacity="0.55" stroke="#cc0c0c" stroke-width="1.10" stroke-linejoin="miter"/>
<path d="M143.5 43.2l3.6 5.9l-3.6 5.9l-3.6 -5.9z" fill="#fff" fill-opacity="0.55" stroke="#cc0c0c" stroke-width="1.10" stroke-linejoin="miter"/>
<path d="M71.7 18.8l3.6 5.9l-3.6 5.9l-3.6 -5.9z" fill="#fff" fill-opacity="0.55" stroke="#cc0c0c" stroke-width="1.10" stroke-linejoin="miter"/>
<path d="M58.0 28.8l3.6 5.9l-3.6 5.9l-3.6 -5.9z" fill="#fff" fill-opacity="0.55" stroke="#cc0c0c" stroke-width="1.10" stroke-linejoin="miter"/>
<path d="M92.1 28.2l3.6 5.9l-3.6 5.9l-3.6 -5.9z" fill="#fff" fill-opacity="0.55" stroke="#cc0c0c" stroke-width="1.10" stroke-linejoin="miter"/>
<path d="M58.8 17.7l3.6 5.9l-3.6 5.9l-3.6 -5.9z" fill="#fff" fill-opacity="0.55" stroke="#cc0c0c" stroke-width="1.10" stroke-linejoin="miter"/>
<path d="M58.4 30.5l3.6 5.9l-3.6 5.9l-3.6 -5.9z" fill="#fff" fill-opacity="0.55" stroke="#cc0c0c" stroke-width="1.10" stroke-linejoin="miter"/>
<path d="M77.5 27.0l3.6 5.9l-3.6 5.9l-3.6 -5.9z" fill="#fff" fill-opacity="0.55" stroke="#cc0c0c" stroke-width="1.10" stroke-linejoin="miter"/>
<path d="M125.7 36.0l3.6 5.9l-3.6 5.9l-3.6 -5.9z" fill="#fff" fill-opacity="0.55" stroke="#cc0c0c" stroke-width="1.10" stroke-linejoin="miter"/>
<path d="M79.0 22.2l3.6 5.9l-3.6 5.9l-3.6 -5.9z" fill="#fff" fill-opacity="0.55" stroke="#cc0c0c" stroke-width="1.10" stroke-linejoin="miter"/>
<path d="M147.5 44.6l3.6 5.9l-3.6 5.9l-3.6 -5.9z" fill="#fff" fill-opacity="0.55" stroke="#cc0c0c" stroke-width="1.10" stroke-linejoin="miter"/>
<path d="M122.5 30.2l3.6 5.9l-3.6 5.9l-3.6 -5.9z" fill="#fff" fill-opacity="0.55" stroke="#cc0c0c" stroke-width="1.10" stroke-linejoin="miter"/>
<path d="M83.1 24.5l3.6 5.9l-3.6 5.9l-3.6 -5.9z" fill="#fff" fill-opacity="0.55" stroke="#cc0c0c" stroke-width="1.10" stroke-linejoin="miter"/>
<path d="M126.5 34.2l3.6 5.9l-3.6 5.9l-3.6 -5.9z" fill="#fff" fill-opacity="0.55" stroke="#cc0c0c" stroke-width="1.10" stroke-linejoin="miter"/>
<path d="M143.2 36.7l3.6 5.9l-3.6 5.9l-3.6 -5.9z" fill="#fff" fill-opacity="0.55" stroke="#cc0c0c" stroke-width="1.10" stroke-linejoin="miter"/>
<path d="M57.6 16.9l3.6 5.9l-3.6 5.9l-3.6 -5.9z" fill="#fff" fill-opacity="0.55" stroke="#cc0c0c" stroke-width="1.10" stroke-linejoin="miter"/>
<path d="M75.4 15.2l3.6 5.9l-3.6 5.9l-3.6 -5.9z" fill="#fff" fill-opacity="0.55" stroke="#cc0c0c" stroke-width="1.10" stroke-linejoin="miter"/>
<path d="M147.1 47.6l3.6 5.9l-3.6 5.9l-3.6 -5.9z" fill="#fff" fill-opacity="0.55" stroke="#cc0c0c" stroke-width="1.10" stroke-linejoin="miter"/>
<path d="M89.7 25.5l3.6 5.9l-3.6 5.9l-3.6 -5.9z" fill="#fff" fill-opacity="0.55" stroke="#cc0c0c" stroke-width="1.10" stroke-linejoin="miter"/>
<path d="M100.1 30.8l3.6 5.9l-3.6 5.9l-3.6 -5.9z" fill="#fff" fill-opacity="0.55" stroke="#cc0c0c" stroke-width="1.10" stroke-linejoin="miter"/>
<path d="M144.4 46.1l3.6 5.9l-3.6 5.9l-3.6 -5.9z" fill="#fff" fill-opacity="0.55" stroke="#cc0c0c" stroke-width="1.10" stroke-linejoin="miter"/>
<path d="M124.8 38.7l3.6 5.9l-3.6 5.9l-3.6 -5.9z" fill="#fff" fill-opacity="0.55" stroke="#cc0c0c" stroke-width="1.10" stroke-linejoin="miter"/>
<path d="M133.5 38.0l3.6 5.9l-3.6 5.9l-3.6 -5.9z" fill="#fff" fill-opacity="0.55" stroke="#cc0c0c" stroke-width="1.10" stroke-linejoin="miter"/>
<path d="M84.1 20.0l3.6 5.9l-3.6 5.9l-3.6 -5.9z" fill="#fff" fill-opacity="0.55" stroke="#cc0c0c" stroke-width="1.10" stroke-linejoin="miter"/>
<path d="M83.4 20.7l3.6 5.9l-3.6 5.9l-3.6 -5.9z" fill="#fff" fill-opacity="0.55" stroke="#cc0c0c" stroke-width="1.10" stroke-linejoin="miter"/>
<path d="M61.9 28.0l3.6 5.9l-3.6 5.9l-3.6 -5.9z" fill="#fff" fill-opacity="0.55" stroke="#cc0c0c" stroke-width="1.10" stroke-linejoin="miter"/>
<path d="M72.1 23.8l3.6 5.9l-3.6 5.9l-3.6 -5.9z" fill="#fff" fill-opacity="0.55" stroke="#cc0c0c" stroke-width="1.10" stroke-linejoin="miter"/>
<path d="M60.7 20.7l3.6 5.9l-3.6 5.9l-3.6 -5.9z" fill="#fff" fill-opacity="0.55" stroke="#cc0c0c" stroke-width="1.10" stroke-linejoin="miter"/>
<path d="M58.3 20.3l3.6 5.9l-3.6 5.9l-3.6 -5.9z" fill="#fff" fill-opacity="0.55" stroke="#cc0c0c" stroke-width="1.10" stroke-linejoin="miter"/>
<path d="M149.9 48.0l3.6 5.9l-3.6 5.9l-3.6 -5.9z" fill="#fff" fill-opacity="0.55" stroke="#cc0c0c" stroke-width="1.10" stroke-linejoin="miter"/>
<path d="M139.8 42.9l3.6 5.9l-3.6 5.9l-3.6 -5.9z" fill="#fff" fill-opacity="0.55" stroke="#cc0c0c" stroke-width="1.10" stroke-linejoin="miter"/>
<path d="M62.3 23.2l3.6 5.9l-3.6 5.9l-3.6 -5.9z" fill="#fff" fill-opacity="0.55" stroke="#cc0c0c" stroke-width="1.10" stroke-linejoin="miter"/>
<path d="M63.3 17.9l3.6 5.9l-3.6 5.9l-3.6 -5.9z" fill="#fff" fill-opacity="0.55" stroke="#cc0c0c" stroke-width="1.10" stroke-linejoin="miter"/>
<path d="M95.6 26.5l3.6 5.9l-3.6 5.9l-3.6 -5.9z" fill="#fff" fill-opacity="0.55" stroke="#cc0c0c" stroke-width="1.10" stroke-linejoin="miter"/>
<path d="M75.4 19.7l3.6 5.9l-3.6 5.9l-3.6 -5.9z" fill="#fff" fill-opacity="0.55" stroke="#cc0c0c" stroke-width="1.10" stroke-linejoin="miter"/>
<path d="M118.2 33.3l3.6 5.9l-3.6 5.9l-3.6 -5.9z" fill="#fff" fill-opacity="0.55" stroke="#cc0c0c" stroke-width="1.10" stroke-linejoin="miter"/>
<path d="M125.8 36.4l3.6 5.9l-3.6 5.9l-3.6 -5.9z" fill="#fff" fill-opacity="0.55" stroke="#cc0c0c" stroke-width="1.10" stroke-linejoin="miter"/>
<path d="M65.4 19.3l3.6 5.9l-3.6 5.9l-3.6 -5.9z" fill="#fff" fill-opacity="0.55" stroke="#cc0c0c" stroke-width="1.10" stroke-linejoin="miter"/>
<path d="M135.3 37.0l3.6 5.9l-3.6 5.9l-3.6 -5.9z" fill="#fff" fill-opacity="0.55" stroke="#cc0c0c" stroke-width="1.10" stroke-linejoin="miter"/>
<path d="M88.4 29.7l3.6 5.9l-3.6 5.9l-3.6 -5.9z" fill="#fff" fill-opacity="0.55" stroke="#cc0c0c" stroke-width="1.10" stroke-linejoin="miter"/>
<path d="M124.7 33.8l3.6 5.9l-3.6 5.9l-3.6 -5.9z" fill="#fff" fill-opacity="0.55" stroke="#cc0c0c" stroke-width="1.10" stroke-linejoin="miter"/>
<path d="M76.5 26.5l3.6 5.9l-3.6 5.9l-3.6 -5.9z" fill="#fff" fill-opacity="0.55" stroke="#cc0c0c" stroke-width="1.10" stroke-linejoin="miter"/>
<path d="M68.2 27.0l3.6 5.9l-3.6 5.9l-3.6 -5.9z" fill="#fff" fill-opacity="0.55" stroke="#cc0c0c" stroke-width="1.10" stroke-linejoin="miter"/>
<path d="M84.0 21.6l3.6 5.9l-3.6 5.9l-3.6 -5.9z" fill="#fff" fill-opacity="0.55" stroke="#cc0c0c" stroke-width="1.10" stroke-linejoin="miter"/>
<path d="M90.7 29.9l3.6 5.9l-3.6 5.9l-3.6 -5.9z" fill="#fff" fill-opacity="0.55" stroke="#cc0c0c" stroke-width="1.10" stroke-linejoin="miter"/>
<path d="M75.2 23.7l3.6 5.9l-3.6 5.9l-3.6 -5.9z" fill="#fff" fill-opacity="0.55" stroke="#cc0c0c" stroke-width="1.10" stroke-linejoin="miter"/>
<path d="M132.0 30.5l3.6 5.9l-3.6 5.9l-3.6 -5.9z" fill="#fff" fill-opacity="0.55" stroke="#cc0c0c" stroke-width="1.10" stroke-linejoin="miter"/>
<path d="M63.8 14.6l3.6 5.9l-3.6 5.9l-3.6 -5.9z" fill="#fff" fill-opacity="0.55" stroke="#cc0c0c" stroke-width="1.10" stroke-linejoin="miter"/>
<path d="M98.3 29.7l3.6 5.9l-3.6 5.9l-3.6 -5.9z" fill="#fff" fill-opacity="0.55" stroke="#cc0c0c" stroke-width="1.10" stroke-linejoin="miter"/>
<path d="M143.0 36.0l3.6 5.9l-3.6 5.9l-3.6 -5.9z" fill="#fff" fill-opacity="0.55" stroke="#cc0c0c" stroke-width="1.10" stroke-linejoin="miter"/>
<path d="M58.8 22.7l3.6 5.9l-3.6 5.9l-3.6 -5.9z" fill="#fff" fill-opacity="0.55" stroke="#cc0c0c" stroke-width="1.10" stroke-linejoin="miter"/>
<path d="M71.4 25.4l3.6 5.9l-3.6 5.9l-3.6 -5.9z" fill="#fff" fill-opacity="0.55" stroke="#cc0c0c" stroke-width="1.10" stroke-linejoin="miter"/>
<path d="M149.1 41.3l3.6 5.9l-3.6 5.9l-3.6 -5.9z" fill="#fff" fill-opacity="0.55" stroke="#cc0c0c" stroke-width="1.10" stroke-linejoin="miter"/>
<path d="M88.4 21.3l3.6 5.9l-3.6 5.9l-3.6 -5.9z" fill="#fff" fill-opacity="0.55" stroke="#cc0c0c" stroke-width="1.10" stroke-linejoin="miter"/>
<path d="M138.0 36.8l3.6 5.9l-3.6 5.9l-3.6 -5.9z" fill="#fff" fill-opacity="0.55" stroke="#cc0c0c" stroke-width="1.10" stroke-linejoin="miter"/>
<path d="M128.8 35.9l3.6 5.9l-3.6 5.9l-3.6 -5.9z" fill="#fff" fill-opacity="0.55" stroke="#cc0c0c" stroke-width="1.10" stroke-linejoin="miter"/>
<path d="M146.3 49.1l3.6 5.9l-3.6 5.9l-3.6 -5.9z" fill="#fff" fill-opacity="0.55" stroke="#cc0c0c" stroke-width="1.10" stroke-linejoin="miter"/>
<path d="M112.7 32.4l3.6 5.9l-3.6 5.9l-3.6 -5.9z" fill="#fff" fill-opacity="0.55" stroke="#cc0c0c" stroke-width="1.10" stroke-linejoin="miter"/>
<path d="M73.9 22.5l3.6 5.9l-3.6 5.9l-3.6 -5.9z" fill="#fff" fill-opacity="0.55" stroke="#cc0c0c" stroke-width="1.10" stroke-linejoin="miter"/>
<path d="M72.7 25.2l3.6 5.9l-3.6 5.9l-3.6 -5.9z" fill="#fff" fill-opacity="0.55" stroke="#cc0c0c" stroke-width="1.10" stroke-linejoin="miter"/>
<path d="M77.3 19.9l3.6 5.9l-3.6 5.9l-3.6 -5.9z" fill="#fff" fill-opacity="0.55" stroke="#cc0c0c" stroke-width="1.10" stroke-linejoin="miter"/>
<path d="M72.7 20.8l3.6 5.9l-3.6 5.9l-3.6 -5.9z" fill="#fff" fill-opacity="0.55" stroke="#cc0c0c" stroke-width="1.10" stroke-linejoin="miter"/>
<path d="M56.7 20.7l3.6 5.9l-3.6 5.9l-3.6 -5.9z" fill="#fff" fill-opacity="0.55" stroke="#cc0c0c" stroke-width="1.10" stroke-linejoin="miter"/>
<path d="M71.0 28.4l3.6 5.9l-3.6 5.9l-3.6 -5.9z" fill="#fff" fill-opacity="0.55" stroke="#cc0c0c" stroke-width="1.10" stroke-linejoin="miter"/>
<path d="M82.7 26.3l3.6 5.9l-3.6 5.9l-3.6 -5.9z" fill="#fff" fill-opacity="0.55" stroke="#cc0c0c" stroke-width="1.10" stroke-linejoin="miter"/>
<path d="M105.5 34.1l3.6 5.9l-3.6 5.9l-3.6 -5.9z" fill="#fff" fill-opacity="0.55" stroke="#cc0c0c" stroke-width="1.10" stroke-linejoin="miter"/>
<path d="M60.6 26.1l3.6 5.9l-3.6 5.9l-3.6 -5.9z" fill="#fff" fill-opacity="0.55" stroke="#cc0c0c" stroke-width="1.10" stroke-linejoin="miter"/>
<path d="M105.7 30.2l3.6 5.9l-3.6 5.9l-3.6 -5.9z" fill="#fff" fill-opacity="0.55" stroke="#cc0c0c" stroke-width="1.10" stroke-linejoin="miter"/>
<path d="M114.7 31.8l3.6 5.9l-3.6 5.9l-3.6 -5.9z" fill="#fff" fill-opacity="0.55" stroke="#cc0c0c" stroke-width="1.10" stroke-linejoin="miter"/>
<path d="M120.4 32.6l3.6 5.9l-3.6 5.9l-3.6 -5.9z" fill="#fff" fill-opacity="0.55" stroke="#cc0c0c" stroke-width="1.10" stroke-linejoin="miter"/>
<path d="M161.5 58.5l3.6 5.9l-3.6 5.9l-3.6 -5.9z" fill="#fff" fill-opacity="0.55" stroke="#cc0c0c" stroke-width="1.10" stroke-linejoin="miter"/>
<path d="M176.7 72.2l3.6 5.9l-3.6 5.9l-3.6 -5.9z" fill="#fff" fill-opacity="0.55" stroke="#cc0c0c" stroke-width="1.10" stroke-linejoin="miter"/>
<path d="M158.7 54.4l3.6 5.9l-3.6 5.9l-3.6 -5.9z" fill="#fff" fill-opacity="0.55" stroke="#cc0c0c" stroke-width="1.10" stroke-linejoin="miter"/>
<path d="M161.7 58.0l3.6 5.9l-3.6 5.9l-3.6 -5.9z" fill="#fff" fill-opacity="0.55" stroke="#cc0c0c" stroke-width="1.10" stroke-linejoin="miter"/>
<path d="M174.2 70.5l3.6 5.9l-3.6 5.9l-3.6 -5.9z" fill="#fff" fill-opacity="0.55" stroke="#cc0c0c" stroke-width="1.10" stroke-linejoin="miter"/>
<path d="M155.5 54.1l3.6 5.9l-3.6 5.9l-3.6 -5.9z" fill="#fff" fill-opacity="0.55" stroke="#cc0c0c" stroke-width="1.10" stroke-linejoin="miter"/>
<path d="M77.0 4.6l3.6 5.9l-3.6 5.9l-3.6 -5.9z" fill="#fff" fill-opacity="0.55" stroke="#cc0c0c" stroke-width="1.10" stroke-linejoin="miter"/>
<path d="M80.8 42.6l3.6 5.9l-3.6 5.9l-3.6 -5.9z" fill="#fff" fill-opacity="0.55" stroke="#cc0c0c" stroke-width="1.10" stroke-linejoin="miter"/>
<path d="M90.8 56.4l3.6 5.9l-3.6 5.9l-3.6 -5.9z" fill="#fff" fill-opacity="0.55" stroke="#cc0c0c" stroke-width="1.10" stroke-linejoin="miter"/>
<path d="M188.5 63.3l3.6 5.9l-3.6 5.9l-3.6 -5.9z" fill="#fff" fill-opacity="0.55" stroke="#cc0c0c" stroke-width="1.10" stroke-linejoin="miter"/>
<path d="M183.8 69.5l3.6 5.9l-3.6 5.9l-3.6 -5.9z" fill="#fff" fill-opacity="0.55" stroke="#cc0c0c" stroke-width="1.10" stroke-linejoin="miter"/>
<path d="M177.7 73.3l3.6 5.9l-3.6 5.9l-3.6 -5.9z" fill="#fff" fill-opacity="0.55" stroke="#cc0c0c" stroke-width="1.10" stroke-linejoin="miter"/>
<path d="M172.3 65.6l3.6 5.9l-3.6 5.9l-3.6 -5.9z" fill="#fff" fill-opacity="0.55" stroke="#cc0c0c" stroke-width="1.10" stroke-linejoin="miter"/>
<path d="M168.5 59.5l3.6 5.9l-3.6 5.9l-3.6 -5.9z" fill="#fff" fill-opacity="0.55" stroke="#cc0c0c" stroke-width="1.10" stroke-linejoin="miter"/>
<path d="M150.5 34.1l3.6 5.9l-3.6 5.9l-3.6 -5.9z" fill="#fff" fill-opacity="0.55" stroke="#cc0c0c" stroke-width="1.10" stroke-linejoin="miter"/>
<path d="M129.0 24.1l3.6 5.9l-3.6 5.9l-3.6 -5.9z" fill="#fff" fill-opacity="0.55" stroke="#cc0c0c" stroke-width="1.10" stroke-linejoin="miter"/>
<path d="M105.0 20.1l3.6 5.9l-3.6 5.9l-3.6 -5.9z" fill="#fff" fill-opacity="0.55" stroke="#cc0c0c" stroke-width="1.10" stroke-linejoin="miter"/>
<path d="M95.0 18.1l3.6 5.9l-3.6 5.9l-3.6 -5.9z" fill="#fff" fill-opacity="0.55" stroke="#cc0c0c" stroke-width="1.10" stroke-linejoin="miter"/>
<path d="M151.0 70.1l3.6 5.9l-3.6 5.9l-3.6 -5.9z" fill="#fff" fill-opacity="0.55" stroke="#cc0c0c" stroke-width="1.10" stroke-linejoin="miter"/>
<path d="M386.3 239.5l3.6 5.9l-3.6 5.9l-3.6 -5.9z" fill="#fff" fill-opacity="0.55" stroke="#cc0c0c" stroke-width="1.10" stroke-linejoin="miter"/>
<path d="M396.4 244.6l3.6 5.9l-3.6 5.9l-3.6 -5.9z" fill="#fff" fill-opacity="0.55" stroke="#cc0c0c" stroke-width="1.10" stroke-linejoin="miter"/>
<path d="M409.4 269.2l3.6 5.9l-3.6 5.9l-3.6 -5.9z" fill="#fff" fill-opacity="0.55" stroke="#cc0c0c" stroke-width="1.10" stroke-linejoin="miter"/>
<path d="M422.0 281.8l3.6 5.9l-3.6 5.9l-3.6 -5.9z" fill="#fff" fill-opacity="0.55" stroke="#cc0c0c" stroke-width="1.10" stroke-linejoin="miter"/>
<path d="M425.8 302.4l3.6 5.9l-3.6 5.9l-3.6 -5.9z" fill="#fff" fill-opacity="0.55" stroke="#cc0c0c" stroke-width="1.10" stroke-linejoin="miter"/>
<path d="M378.8 159.1l3.6 5.9l-3.6 5.9l-3.6 -5.9z" fill="#222" fill-opacity="0.85" stroke="#000" stroke-width="1.10" stroke-linejoin="miter"/>
<path d="M378.0 166.7l3.6 5.9l-3.6 5.9l-3.6 -5.9z" fill="#222" fill-opacity="0.85" stroke="#000" stroke-width="1.10" stroke-linejoin="miter"/>
<path d="M387.6 178.0l3.6 5.9l-3.6 5.9l-3.6 -5.9z" fill="#222" fill-opacity="0.85" stroke="#000" stroke-width="1.10" stroke-linejoin="miter"/>
<path d="M393.9 180.5l3.6 5.9l-3.6 5.9l-3.6 -5.9z" fill="#222" fill-opacity="0.85" stroke="#000" stroke-width="1.10" stroke-linejoin="miter"/>
<path d="M399.6 176.2l3.6 5.9l-3.6 5.9l-3.6 -5.9z" fill="#222" fill-opacity="0.85" stroke="#000" stroke-width="1.10" stroke-linejoin="miter"/>
<path d="M382.6 186.8l3.6 5.9l-3.6 5.9l-3.6 -5.9z" fill="#222" fill-opacity="0.85" stroke="#000" stroke-width="1.10" stroke-linejoin="miter"/>
<path d="M400.0 184.1l3.6 5.9l-3.6 5.9l-3.6 -5.9z" fill="#222" fill-opacity="0.85" stroke="#000" stroke-width="1.10" stroke-linejoin="miter"/>
<path d="M405.0 188.1l3.6 5.9l-3.6 5.9l-3.6 -5.9z" fill="#222" fill-opacity="0.85" stroke="#000" stroke-width="1.10" stroke-linejoin="miter"/>
<path d="M412.7 198.1l3.6 5.9l-3.6 5.9l-3.6 -5.9z" fill="#222" fill-opacity="0.85" stroke="#000" stroke-width="1.10" stroke-linejoin="miter"/>
<path d="M419.0 195.6l3.6 5.9l-3.6 5.9l-3.6 -5.9z" fill="#222" fill-opacity="0.85" stroke="#000" stroke-width="1.10" stroke-linejoin="miter"/>
<path d="M424.0 203.1l3.6 5.9l-3.6 5.9l-3.6 -5.9z" fill="#222" fill-opacity="0.85" stroke="#000" stroke-width="1.10" stroke-linejoin="miter"/>
<path d="M411.5 208.1l3.6 5.9l-3.6 5.9l-3.6 -5.9z" fill="#222" fill-opacity="0.85" stroke="#000" stroke-width="1.10" stroke-linejoin="miter"/>
<path d="M430.5 229.7l3.6 5.9l-3.6 5.9l-3.6 -5.9z" fill="#222" fill-opacity="0.85" stroke="#000" stroke-width="1.10" stroke-linejoin="miter"/>
<path d="M429.0 237.6l3.6 5.9l-3.6 5.9l-3.6 -5.9z" fill="#222" fill-opacity="0.85" stroke="#000" stroke-width="1.10" stroke-linejoin="miter"/>
<path d="M436.5 247.4l3.6 5.9l-3.6 5.9l-3.6 -5.9z" fill="#222" fill-opacity="0.85" stroke="#000" stroke-width="1.10" stroke-linejoin="miter"/>
<path d="M382.5 212.4l3.6 5.9l-3.6 5.9l-3.6 -5.9z" fill="#222" fill-opacity="0.85" stroke="#000" stroke-width="1.10" stroke-linejoin="miter"/>
<path d="M419.0 201.8l3.6 5.9l-3.6 5.9l-3.6 -5.9z" fill="#2f7bff" fill-opacity="0.80" stroke="#2f7bff" stroke-width="1.10" stroke-linejoin="miter"/>
<path d="M422.8 206.9l3.6 5.9l-3.6 5.9l-3.6 -5.9z" fill="#2f7bff" fill-opacity="0.80" stroke="#2f7bff" stroke-width="1.10" stroke-linejoin="miter"/>
<path d="M427.8 213.1l3.6 5.9l-3.6 5.9l-3.6 -5.9z" fill="#2f7bff" fill-opacity="0.80" stroke="#2f7bff" stroke-width="1.10" stroke-linejoin="miter"/>
<path d="M415.2 213.1l3.6 5.9l-3.6 5.9l-3.6 -5.9z" fill="#2f7bff" fill-opacity="0.80" stroke="#2f7bff" stroke-width="1.10" stroke-linejoin="miter"/>
<path d="M432.8 218.1l3.6 5.9l-3.6 5.9l-3.6 -5.9z" fill="#2f7bff" fill-opacity="0.80" stroke="#2f7bff" stroke-width="1.10" stroke-linejoin="miter"/>
<path d="M436.6 221.9l3.6 5.9l-3.6 5.9l-3.6 -5.9z" fill="#2f7bff" fill-opacity="0.80" stroke="#2f7bff" stroke-width="1.10" stroke-linejoin="miter"/>
<path d="M441.4 220.8l3.6 5.9l-3.6 5.9l-3.6 -5.9z" fill="#2f7bff" fill-opacity="0.80" stroke="#2f7bff" stroke-width="1.10" stroke-linejoin="miter"/>
<path d="M489.9 212.5h9.4l-4.7 7.8z" fill="#000"/>
<path d="M479.7 227.8h9.4l-4.7 7.8z" fill="#2f7bff"/>
<path d="M451.8 249.3h9.4l-4.7 7.8z" fill="#000"/>
<path d="M566.9 298.3h9.4l-4.7 7.8z" fill="#000"/>
<path d="M640.5 261.6h9.4l-4.7 7.8z" fill="#000"/>
<path d="M642.3 273.1h9.4l-4.7 7.8z" fill="#2f7bff"/>
<path d="M646.1 269.1h9.4l-4.7 7.8z" fill="#cc1111"/>
</g>
<path d="M53.1 0.0V351.2H663.0" fill="none" stroke="#838383" stroke-width="1.15"/>
<path d="M52.6 0.45H663" fill="none" stroke="#5c5c5c" stroke-width="0.95"/>
<path d="M662.35 0V351.7" fill="none" stroke="#6c6c6c" stroke-width="1.3"/>
<text x="53.7" y="368.2" font-size="15.5" text-anchor="middle" fill="#333" textLength="19.4" lengthAdjust="spacingAndGlyphs">0.0</text>
<text x="166.5" y="368.2" font-size="15.5" text-anchor="middle" fill="#333" textLength="19.4" lengthAdjust="spacingAndGlyphs">0.5</text>
<text x="279.3" y="368.2" font-size="15.5" text-anchor="middle" fill="#333" textLength="19.4" lengthAdjust="spacingAndGlyphs">1.0</text>
<text x="392.1" y="368.2" font-size="15.5" text-anchor="middle" fill="#333" textLength="19.4" lengthAdjust="spacingAndGlyphs">1.5</text>
<text x="504.9" y="368.2" font-size="15.5" text-anchor="middle" fill="#333" textLength="19.4" lengthAdjust="spacingAndGlyphs">2.0</text>
<text x="617.7" y="368.2" font-size="15.5" text-anchor="middle" fill="#333" textLength="19.4" lengthAdjust="spacingAndGlyphs">2.5</text>
<text x="47.8" y="73.5" font-size="15.5" text-anchor="end" fill="#333">10<tspan font-size="11" dy="-6.2" dx="0.3">0</tspan></text>
<text x="47.8" y="186.2" font-size="15.5" text-anchor="end" fill="#333">10<tspan font-size="11" dy="-6.2" dx="0.3">&#8722;1</tspan></text>
<text x="47.8" y="298.9" font-size="15.5" text-anchor="end" fill="#333">10<tspan font-size="11" dy="-6.2" dx="0.3">&#8722;2</tspan></text>
<text x="357.6" y="385.4" font-size="15.8" text-anchor="middle" fill="#333" textLength="207.7" lengthAdjust="spacingAndGlyphs">Projected Baseline Length (G&#955;)</text>
<text transform="translate(12.8 176.3) rotate(-90)" font-size="15.8" text-anchor="middle" fill="#333" textLength="187.5" lengthAdjust="spacingAndGlyphs">Correlated Flux Density (Jy)</text>
<path d="M425.2 12.4V28.8" stroke="#555" stroke-width="1.2"/><path d="M425.2 14.7l3.6 5.9l-3.6 5.9l-3.6 -5.9z" fill="#fff" fill-opacity="0.55" stroke="#1a1a1a" stroke-width="1.10" stroke-linejoin="miter"/>
<path d="M425.2 35.0V51.4" stroke="#78aaff" stroke-width="1.2"/><path d="M425.2 37.3l3.6 5.9l-3.6 5.9l-3.6 -5.9z" fill="#fff" fill-opacity="0.55" stroke="#3b7ff5" stroke-width="1.10" stroke-linejoin="miter"/>
<path d="M425.2 57.6V74.0" stroke="#e07070" stroke-width="1.2"/><path d="M425.2 59.9l3.6 5.9l-3.6 5.9l-3.6 -5.9z" fill="#fff" fill-opacity="0.55" stroke="#cc0c0c" stroke-width="1.10" stroke-linejoin="miter"/>
<text x="441.6" y="26.2" font-size="16.0" text-anchor="start" fill="#222" textLength="71.0" lengthAdjust="spacingAndGlyphs">3 Apr 2017</text>
<text x="441.9" y="48.9" font-size="16.0" text-anchor="start" fill="#222" textLength="78.7" lengthAdjust="spacingAndGlyphs">14 Apr 2018</text>
<text x="441.9" y="71.5" font-size="16.0" text-anchor="start" fill="#222" textLength="78.7" lengthAdjust="spacingAndGlyphs">17 Apr 2018</text>
<path d="M545.0 12.2V29.0" stroke="#444" stroke-width="1.2"/><path d="M545.0 14.7l3.6 5.9l-3.6 5.9l-3.6 -5.9z" fill="#333" fill-opacity="0.90" stroke="#222" stroke-width="1.10" stroke-linejoin="miter"/>
<path d="M540.0 40.4h10.0l-5.0 7.6z" fill="#000"/>
<text x="562.0" y="26.3" font-size="16.0" text-anchor="start" fill="#222" textLength="83.0" lengthAdjust="spacingAndGlyphs">ALMA-GBT</text>
<text x="562.0" y="48.9" font-size="16.0" text-anchor="start" fill="#222" textLength="86.4" lengthAdjust="spacingAndGlyphs">Upper Limits</text>
<text x="435.0" y="220.4" font-size="13.6" text-anchor="start" fill="#333" textLength="52.0" lengthAdjust="spacingAndGlyphs">GBT-MK</text>
<text x="464.2" y="257.5" font-size="13.6" text-anchor="start" fill="#333" textLength="48.3" lengthAdjust="spacingAndGlyphs">GBT-PV</text>
<text x="578.7" y="270.0" font-size="13.6" text-anchor="start" fill="#333" textLength="61.5" lengthAdjust="spacingAndGlyphs">ALMA-MK</text>
<text x="583.7" y="307.0" font-size="13.6" text-anchor="start" fill="#333" textLength="57.0" lengthAdjust="spacingAndGlyphs">ALMA-PV</text>
<text x="148.0" y="222.8" font-size="17.0" text-anchor="start" fill="#d2581c" textLength="34.0" lengthAdjust="spacingAndGlyphs">GS06</text>
<text x="155.0" y="284.6" font-size="17.0" text-anchor="start" fill="#1c7a1c" textLength="22.0" lengthAdjust="spacingAndGlyphs">J18</text>
<text x="210.8" y="257.4" font-size="13.5" fill="#1c7a1c" font-style="italic">&#963;<tspan font-size="9.8" dy="2" dx="0.3" font-style="normal">maj</tspan></text>
<path d="M212.7 250.1l1.8 -2.1l1.8 2.1" fill="none" stroke="#1c7a1c" stroke-width="0.8"/>
<text x="233.8" y="296.2" font-size="13.5" fill="#2f8f2f" font-style="italic">&#963;<tspan font-size="9.8" dy="2" dx="0.3" font-style="normal">min</tspan></text>
<path d="M235.7 288.9l1.8 -2.1l1.8 2.1" fill="none" stroke="#2f8f2f" stroke-width="0.8"/>
<text transform="translate(179.5 52.5) rotate(25.5)" font-size="17" fill="#555" textLength="73" lengthAdjust="spacingAndGlyphs">Minor Axis</text>
<text transform="translate(333.5 288) rotate(61)" font-size="17" fill="#555" textLength="70" lengthAdjust="spacingAndGlyphs">Major Axis</text>
<text transform="translate(270.6 93.4) rotate(35)" font-size="15.5" fill="#cc11cc"><tspan font-style="italic">r</tspan><tspan font-size="10" dy="2.8">in</tspan><tspan dy="-2.8" textLength="51" lengthAdjust="spacingAndGlyphs"> = 800 km</tspan></text>
<text transform="translate(267.6 115.6) rotate(35)" font-size="15.5" fill="#111"><tspan font-style="italic">r</tspan><tspan font-size="10" dy="2.8">in</tspan><tspan dy="-1.6" dx="1.5" font-size="21">&#8594;</tspan><tspan font-size="18" dy="-0.2" dx="1.5">&#8734;</tspan></text>
</svg>
</body></html>
